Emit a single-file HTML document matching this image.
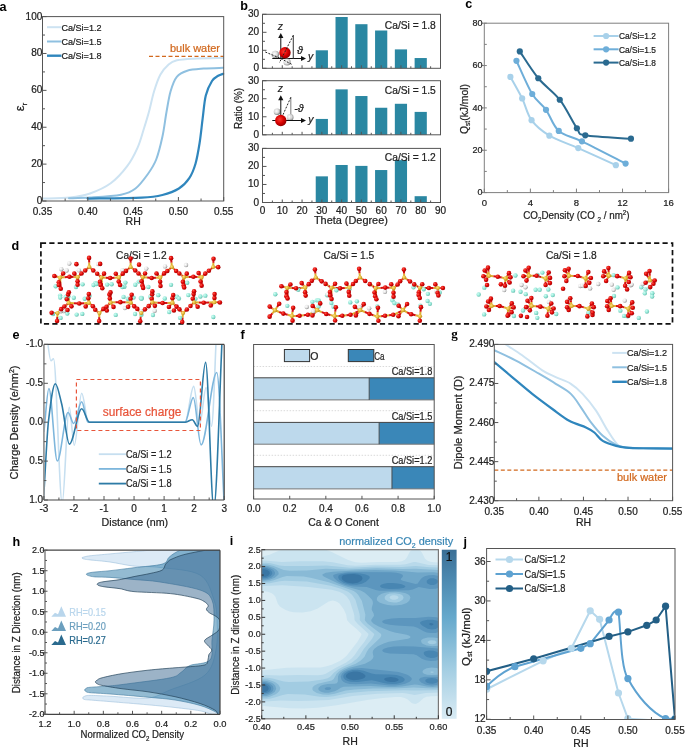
<!DOCTYPE html>
<html><head><meta charset="utf-8"><style>
html,body{margin:0;padding:0;background:#fff;overflow:hidden}
svg{display:block;font-family:"Liberation Sans", sans-serif}
</style></head><body>
<svg style="will-change:transform" width="685" height="750" viewBox="0 0 685 750">
<defs>
<radialGradient id="gR" cx="0.35" cy="0.35" r="0.7"><stop offset="0" stop-color="#ff5a4a"/><stop offset="0.5" stop-color="#e00808"/><stop offset="1" stop-color="#a00000"/></radialGradient>
<radialGradient id="gY" cx="0.35" cy="0.35" r="0.7"><stop offset="0" stop-color="#fbe27a"/><stop offset="0.6" stop-color="#e2b53a"/><stop offset="1" stop-color="#b08418"/></radialGradient>
<radialGradient id="gC" cx="0.35" cy="0.35" r="0.7"><stop offset="0" stop-color="#d2fff5"/><stop offset="0.6" stop-color="#8fe4d4"/><stop offset="1" stop-color="#62b8a8"/></radialGradient>
<radialGradient id="gW" cx="0.35" cy="0.35" r="0.7"><stop offset="0" stop-color="#ffffff"/><stop offset="0.55" stop-color="#e2e2e2"/><stop offset="1" stop-color="#8a8a8a"/></radialGradient>
<clipPath id="clipE"><rect x="43.9" y="344.4" width="180.29999999999998" height="155.60000000000002"/></clipPath><clipPath id="clipG"><rect x="494.3" y="344.4" width="178.3" height="156.3"/></clipPath><clipPath id="clipH"><rect x="45.0" y="550.2" width="175.0" height="164.0999999999999"/></clipPath><clipPath id="clipI"><rect x="261.7" y="549.7" width="176.7" height="169.0999999999999"/></clipPath><linearGradient id="cbar" x1="0" y1="0" x2="0" y2="1"><stop offset="0" stop-color="#3b6f95"/><stop offset="0.15" stop-color="#4a86ad"/><stop offset="0.4" stop-color="#66a9cc"/><stop offset="0.7" stop-color="#a2cde2"/><stop offset="1" stop-color="#d9ebf4"/></linearGradient><clipPath id="clipJ"><rect x="486.6" y="548.5" width="188.39999999999998" height="171.0"/></clipPath>
<radialGradient id="gRb" cx="0.4" cy="0.4" r="0.65"><stop offset="0" stop-color="#ff3b30"/><stop offset="0.55" stop-color="#d80000"/><stop offset="1" stop-color="#8a0000"/></radialGradient>
<radialGradient id="gHb" cx="0.4" cy="0.4" r="0.65"><stop offset="0" stop-color="#ffffff"/><stop offset="0.55" stop-color="#d8d8d8"/><stop offset="1" stop-color="#6a6a6a"/></radialGradient>
</defs>
<rect width="685" height="750" fill="#fff"/>
<text x="-0.5" y="10.6" font-size="12.6" text-anchor="start" fill="#000" font-weight="bold" >a</text>
<path d="M43,198.5 C47.5,198.33 62.17,198.33 70,197.5 C77.83,196.67 83.22,195.87 90,193.5 C96.78,191.13 104.5,187.85 110.7,183.3 C116.9,178.75 122.72,172.15 127.2,166.2 C131.68,160.25 134.83,153.8 137.6,147.6 C140.37,141.4 141.92,134.93 143.8,129 C145.68,123.07 147.18,118.28 148.9,112 C150.62,105.72 152.2,97.5 154.1,91.3 C156,85.1 157.88,79.27 160.3,74.8 C162.72,70.33 165.83,66.92 168.6,64.5 C171.37,62.08 172.77,61.27 176.9,60.3 C181.03,59.33 185.72,59.1 193.4,58.7 C201.08,58.3 218.07,58.03 223,57.9" stroke="#cde3f2" stroke-width="2" fill="none" stroke-linejoin="round" stroke-linecap="round" />
<path d="M69,198.2 C72.5,198.1 81.33,198.18 90,197.6 C98.67,197.02 113.42,196.22 121,194.7 C128.58,193.18 131.02,191.95 135.5,188.5 C139.98,185.05 144.45,178.83 147.9,174 C151.35,169.17 153.78,165.7 156.2,159.5 C158.62,153.3 160.68,144.72 162.4,136.8 C164.12,128.88 165.13,119.58 166.5,112 C167.87,104.42 168.88,97.15 170.6,91.3 C172.32,85.45 174.03,80.33 176.8,76.9 C179.57,73.47 182.72,72.08 187.2,70.7 C191.68,69.32 197.73,69.08 203.7,68.6 C209.67,68.12 219.78,67.93 223,67.8" stroke="#8fc0e0" stroke-width="2" fill="none" stroke-linejoin="round" stroke-linecap="round" />
<path d="M87.6,198.6 C96.62,198.43 129.23,198.2 141.7,197.6 C154.17,197 156.2,196.52 162.4,195 C168.6,193.48 174.42,191.32 178.9,188.5 C183.38,185.68 186.53,182.23 189.3,178.1 C192.07,173.97 193.78,169.55 195.5,163.7 C197.22,157.85 198.4,150.58 199.6,143 C200.8,135.42 201.67,126.12 202.7,118.2 C203.73,110.28 204.25,101.7 205.8,95.5 C207.35,89.3 209.93,84.28 212,81 C214.07,77.72 216.33,77 218.2,75.8 C220.07,74.6 222.37,74.13 223.2,73.8" stroke="#2f86bd" stroke-width="2.2" fill="none" stroke-linejoin="round" stroke-linecap="round" />
<line x1="149" y1="56.4" x2="223.7" y2="56.4" stroke="#d2691e" stroke-width="1.3" stroke-dasharray="4,2.5"/>
<text x="220" y="52.3" font-size="11" text-anchor="end" fill="#d2691e" stroke="#d2691e" stroke-width="0.22" textLength="50" lengthAdjust="spacingAndGlyphs" >bulk water</text>
<rect x="42.5" y="16.6" width="181.2" height="184.4" fill="none" stroke="#555" stroke-width="1" />
<line x1="42.5" y1="201" x2="46.5" y2="201" stroke="#555" stroke-width="1" />
<text x="42.3" y="204" font-size="10" text-anchor="end" fill="#222" stroke="#222" stroke-width="0.22" >0</text>
<line x1="42.5" y1="164.12" x2="46.5" y2="164.12" stroke="#555" stroke-width="1" />
<text x="42.3" y="167.12" font-size="10" text-anchor="end" fill="#222" stroke="#222" stroke-width="0.22" >20</text>
<line x1="42.5" y1="127.24" x2="46.5" y2="127.24" stroke="#555" stroke-width="1" />
<text x="42.3" y="130.24" font-size="10" text-anchor="end" fill="#222" stroke="#222" stroke-width="0.22" >40</text>
<line x1="42.5" y1="90.36" x2="46.5" y2="90.36" stroke="#555" stroke-width="1" />
<text x="42.3" y="93.36" font-size="10" text-anchor="end" fill="#222" stroke="#222" stroke-width="0.22" >60</text>
<line x1="42.5" y1="53.48" x2="46.5" y2="53.48" stroke="#555" stroke-width="1" />
<text x="42.3" y="56.48" font-size="10" text-anchor="end" fill="#222" stroke="#222" stroke-width="0.22" >80</text>
<line x1="42.5" y1="16.6" x2="46.5" y2="16.6" stroke="#555" stroke-width="1" />
<text x="42.3" y="19.6" font-size="10" text-anchor="end" fill="#222" stroke="#222" stroke-width="0.22" >100</text>
<line x1="42.5" y1="182.56" x2="45" y2="182.56" stroke="#555" stroke-width="1" />
<line x1="42.5" y1="145.68" x2="45" y2="145.68" stroke="#555" stroke-width="1" />
<line x1="42.5" y1="108.8" x2="45" y2="108.8" stroke="#555" stroke-width="1" />
<line x1="42.5" y1="71.92" x2="45" y2="71.92" stroke="#555" stroke-width="1" />
<line x1="42.5" y1="35.04" x2="45" y2="35.04" stroke="#555" stroke-width="1" />
<line x1="42.5" y1="201" x2="42.5" y2="197" stroke="#555" stroke-width="1" />
<text x="42.5" y="215" font-size="10" text-anchor="middle" fill="#222" stroke="#222" stroke-width="0.22" >0.35</text>
<line x1="87.8" y1="201" x2="87.8" y2="197" stroke="#555" stroke-width="1" />
<text x="87.8" y="215" font-size="10" text-anchor="middle" fill="#222" stroke="#222" stroke-width="0.22" >0.40</text>
<line x1="133.1" y1="201" x2="133.1" y2="197" stroke="#555" stroke-width="1" />
<text x="133.1" y="215" font-size="10" text-anchor="middle" fill="#222" stroke="#222" stroke-width="0.22" >0.45</text>
<line x1="178.4" y1="201" x2="178.4" y2="197" stroke="#555" stroke-width="1" />
<text x="178.4" y="215" font-size="10" text-anchor="middle" fill="#222" stroke="#222" stroke-width="0.22" >0.50</text>
<line x1="223.7" y1="201" x2="223.7" y2="197" stroke="#555" stroke-width="1" />
<text x="223.7" y="215" font-size="10" text-anchor="middle" fill="#222" stroke="#222" stroke-width="0.22" >0.55</text>
<line x1="65.15" y1="201" x2="65.15" y2="198.5" stroke="#555" stroke-width="1" />
<line x1="110.45" y1="201" x2="110.45" y2="198.5" stroke="#555" stroke-width="1" />
<line x1="155.75" y1="201" x2="155.75" y2="198.5" stroke="#555" stroke-width="1" />
<line x1="201.05" y1="201" x2="201.05" y2="198.5" stroke="#555" stroke-width="1" />
<text x="133.2" y="225.2" font-size="10.5" text-anchor="middle" fill="#222" stroke="#222" stroke-width="0.22" >RH</text>
<text x="24.2" y="107" font-size="13" text-anchor="middle" fill="#222" stroke="#222" stroke-width="0.22" transform="rotate(-90 24.2 107)" >ε<tspan font-size="8" dy="3">r</tspan></text>
<line x1="47" y1="27.2" x2="61.5" y2="27.2" stroke="#cde3f2" stroke-width="2" />
<text x="61.5" y="30.5" font-size="9.5" text-anchor="start" fill="#222" stroke="#222" stroke-width="0.22" textLength="40" lengthAdjust="spacingAndGlyphs" >Ca/Si=1.2</text>
<line x1="47" y1="41.5" x2="61.5" y2="41.5" stroke="#8fc0e0" stroke-width="2" />
<text x="61.5" y="44.8" font-size="9.5" text-anchor="start" fill="#222" stroke="#222" stroke-width="0.22" textLength="40" lengthAdjust="spacingAndGlyphs" >Ca/Si=1.5</text>
<line x1="47" y1="55.7" x2="61.5" y2="55.7" stroke="#2f86bd" stroke-width="2.4" />
<text x="61.5" y="59" font-size="9.5" text-anchor="start" fill="#222" stroke="#222" stroke-width="0.22" textLength="40" lengthAdjust="spacingAndGlyphs" >Ca/Si=1.8</text>
<text x="240.3" y="10.2" font-size="12.6" text-anchor="start" fill="#000" font-weight="bold" >b</text>
<rect x="315.73" y="50.3" width="12.2" height="18" fill="#2a87a2" stroke="none" stroke-width="1" />
<rect x="335.51" y="17" width="12.2" height="51.3" fill="#2a87a2" stroke="none" stroke-width="1" />
<rect x="355.29" y="24.2" width="12.2" height="44.1" fill="#2a87a2" stroke="none" stroke-width="1" />
<rect x="375.07" y="30.5" width="12.2" height="37.8" fill="#2a87a2" stroke="none" stroke-width="1" />
<rect x="394.84" y="49.4" width="12.2" height="18.9" fill="#2a87a2" stroke="none" stroke-width="1" />
<rect x="414.62" y="58.04" width="12.2" height="10.26" fill="#2a87a2" stroke="none" stroke-width="1" />
<rect x="262.5" y="14.3" width="178" height="54" fill="none" stroke="#555" stroke-width="1" />
<line x1="262.5" y1="68.3" x2="266.5" y2="68.3" stroke="#555" stroke-width="1" />
<text x="259" y="71.3" font-size="10" text-anchor="end" fill="#222" stroke="#222" stroke-width="0.22" >0</text>
<line x1="262.5" y1="50.3" x2="266.5" y2="50.3" stroke="#555" stroke-width="1" />
<text x="259" y="53.3" font-size="10" text-anchor="end" fill="#222" stroke="#222" stroke-width="0.22" >10</text>
<line x1="262.5" y1="32.3" x2="266.5" y2="32.3" stroke="#555" stroke-width="1" />
<text x="259" y="35.3" font-size="10" text-anchor="end" fill="#222" stroke="#222" stroke-width="0.22" >20</text>
<line x1="262.5" y1="14.3" x2="266.5" y2="14.3" stroke="#555" stroke-width="1" />
<text x="259" y="17.3" font-size="10" text-anchor="end" fill="#222" stroke="#222" stroke-width="0.22" >30</text>
<line x1="262.5" y1="59.3" x2="265" y2="59.3" stroke="#555" stroke-width="1" />
<line x1="262.5" y1="41.3" x2="265" y2="41.3" stroke="#555" stroke-width="1" />
<line x1="262.5" y1="23.3" x2="265" y2="23.3" stroke="#555" stroke-width="1" />
<line x1="262.5" y1="68.3" x2="262.5" y2="65.3" stroke="#555" stroke-width="1" />
<line x1="282.28" y1="68.3" x2="282.28" y2="65.3" stroke="#555" stroke-width="1" />
<line x1="302.06" y1="68.3" x2="302.06" y2="65.3" stroke="#555" stroke-width="1" />
<line x1="321.83" y1="68.3" x2="321.83" y2="65.3" stroke="#555" stroke-width="1" />
<line x1="341.61" y1="68.3" x2="341.61" y2="65.3" stroke="#555" stroke-width="1" />
<line x1="361.39" y1="68.3" x2="361.39" y2="65.3" stroke="#555" stroke-width="1" />
<line x1="381.17" y1="68.3" x2="381.17" y2="65.3" stroke="#555" stroke-width="1" />
<line x1="400.94" y1="68.3" x2="400.94" y2="65.3" stroke="#555" stroke-width="1" />
<line x1="420.72" y1="68.3" x2="420.72" y2="65.3" stroke="#555" stroke-width="1" />
<line x1="440.5" y1="68.3" x2="440.5" y2="65.3" stroke="#555" stroke-width="1" />
<line x1="272.39" y1="68.3" x2="272.39" y2="66.3" stroke="#555" stroke-width="1" />
<line x1="292.17" y1="68.3" x2="292.17" y2="66.3" stroke="#555" stroke-width="1" />
<line x1="311.94" y1="68.3" x2="311.94" y2="66.3" stroke="#555" stroke-width="1" />
<line x1="331.72" y1="68.3" x2="331.72" y2="66.3" stroke="#555" stroke-width="1" />
<line x1="351.5" y1="68.3" x2="351.5" y2="66.3" stroke="#555" stroke-width="1" />
<line x1="371.28" y1="68.3" x2="371.28" y2="66.3" stroke="#555" stroke-width="1" />
<line x1="391.06" y1="68.3" x2="391.06" y2="66.3" stroke="#555" stroke-width="1" />
<line x1="410.83" y1="68.3" x2="410.83" y2="66.3" stroke="#555" stroke-width="1" />
<line x1="430.61" y1="68.3" x2="430.61" y2="66.3" stroke="#555" stroke-width="1" />
<text x="435.8" y="29" font-size="10.5" text-anchor="end" fill="#222" stroke="#222" stroke-width="0.22" textLength="51" lengthAdjust="spacingAndGlyphs" >Ca/Si = 1.8</text>
<rect x="315.73" y="118.93" width="12.2" height="15.87" fill="#2a87a2" stroke="none" stroke-width="1" />
<rect x="335.51" y="89.36" width="12.2" height="45.44" fill="#2a87a2" stroke="none" stroke-width="1" />
<rect x="355.29" y="96.03" width="12.2" height="38.77" fill="#2a87a2" stroke="none" stroke-width="1" />
<rect x="375.07" y="107.75" width="12.2" height="27.05" fill="#2a87a2" stroke="none" stroke-width="1" />
<rect x="394.84" y="103.78" width="12.2" height="31.02" fill="#2a87a2" stroke="none" stroke-width="1" />
<rect x="414.62" y="111.9" width="12.2" height="22.9" fill="#2a87a2" stroke="none" stroke-width="1" />
<rect x="262.5" y="80.7" width="178" height="54.1" fill="none" stroke="#555" stroke-width="1" />
<line x1="262.5" y1="134.8" x2="266.5" y2="134.8" stroke="#555" stroke-width="1" />
<text x="259" y="137.8" font-size="10" text-anchor="end" fill="#222" stroke="#222" stroke-width="0.22" >0</text>
<line x1="262.5" y1="116.77" x2="266.5" y2="116.77" stroke="#555" stroke-width="1" />
<text x="259" y="119.77" font-size="10" text-anchor="end" fill="#222" stroke="#222" stroke-width="0.22" >10</text>
<line x1="262.5" y1="98.73" x2="266.5" y2="98.73" stroke="#555" stroke-width="1" />
<text x="259" y="101.73" font-size="10" text-anchor="end" fill="#222" stroke="#222" stroke-width="0.22" >20</text>
<line x1="262.5" y1="80.7" x2="266.5" y2="80.7" stroke="#555" stroke-width="1" />
<text x="259" y="83.7" font-size="10" text-anchor="end" fill="#222" stroke="#222" stroke-width="0.22" >30</text>
<line x1="262.5" y1="125.78" x2="265" y2="125.78" stroke="#555" stroke-width="1" />
<line x1="262.5" y1="107.75" x2="265" y2="107.75" stroke="#555" stroke-width="1" />
<line x1="262.5" y1="89.72" x2="265" y2="89.72" stroke="#555" stroke-width="1" />
<line x1="262.5" y1="134.8" x2="262.5" y2="131.8" stroke="#555" stroke-width="1" />
<line x1="282.28" y1="134.8" x2="282.28" y2="131.8" stroke="#555" stroke-width="1" />
<line x1="302.06" y1="134.8" x2="302.06" y2="131.8" stroke="#555" stroke-width="1" />
<line x1="321.83" y1="134.8" x2="321.83" y2="131.8" stroke="#555" stroke-width="1" />
<line x1="341.61" y1="134.8" x2="341.61" y2="131.8" stroke="#555" stroke-width="1" />
<line x1="361.39" y1="134.8" x2="361.39" y2="131.8" stroke="#555" stroke-width="1" />
<line x1="381.17" y1="134.8" x2="381.17" y2="131.8" stroke="#555" stroke-width="1" />
<line x1="400.94" y1="134.8" x2="400.94" y2="131.8" stroke="#555" stroke-width="1" />
<line x1="420.72" y1="134.8" x2="420.72" y2="131.8" stroke="#555" stroke-width="1" />
<line x1="440.5" y1="134.8" x2="440.5" y2="131.8" stroke="#555" stroke-width="1" />
<line x1="272.39" y1="134.8" x2="272.39" y2="132.8" stroke="#555" stroke-width="1" />
<line x1="292.17" y1="134.8" x2="292.17" y2="132.8" stroke="#555" stroke-width="1" />
<line x1="311.94" y1="134.8" x2="311.94" y2="132.8" stroke="#555" stroke-width="1" />
<line x1="331.72" y1="134.8" x2="331.72" y2="132.8" stroke="#555" stroke-width="1" />
<line x1="351.5" y1="134.8" x2="351.5" y2="132.8" stroke="#555" stroke-width="1" />
<line x1="371.28" y1="134.8" x2="371.28" y2="132.8" stroke="#555" stroke-width="1" />
<line x1="391.06" y1="134.8" x2="391.06" y2="132.8" stroke="#555" stroke-width="1" />
<line x1="410.83" y1="134.8" x2="410.83" y2="132.8" stroke="#555" stroke-width="1" />
<line x1="430.61" y1="134.8" x2="430.61" y2="132.8" stroke="#555" stroke-width="1" />
<text x="435.8" y="93.5" font-size="10.5" text-anchor="end" fill="#222" stroke="#222" stroke-width="0.22" textLength="51" lengthAdjust="spacingAndGlyphs" >Ca/Si = 1.5</text>
<rect x="315.73" y="176.35" width="12.2" height="26.15" fill="#2a87a2" stroke="none" stroke-width="1" />
<rect x="335.51" y="164.99" width="12.2" height="37.51" fill="#2a87a2" stroke="none" stroke-width="1" />
<rect x="355.29" y="165.89" width="12.2" height="36.61" fill="#2a87a2" stroke="none" stroke-width="1" />
<rect x="375.07" y="170.04" width="12.2" height="32.46" fill="#2a87a2" stroke="none" stroke-width="1" />
<rect x="394.84" y="160.12" width="12.2" height="42.38" fill="#2a87a2" stroke="none" stroke-width="1" />
<rect x="414.62" y="196.19" width="12.2" height="6.31" fill="#2a87a2" stroke="none" stroke-width="1" />
<rect x="262.5" y="148.4" width="178" height="54.1" fill="none" stroke="#555" stroke-width="1" />
<line x1="262.5" y1="202.5" x2="266.5" y2="202.5" stroke="#555" stroke-width="1" />
<text x="259" y="205.5" font-size="10" text-anchor="end" fill="#222" stroke="#222" stroke-width="0.22" >0</text>
<line x1="262.5" y1="184.47" x2="266.5" y2="184.47" stroke="#555" stroke-width="1" />
<text x="259" y="187.47" font-size="10" text-anchor="end" fill="#222" stroke="#222" stroke-width="0.22" >10</text>
<line x1="262.5" y1="166.43" x2="266.5" y2="166.43" stroke="#555" stroke-width="1" />
<text x="259" y="169.43" font-size="10" text-anchor="end" fill="#222" stroke="#222" stroke-width="0.22" >20</text>
<line x1="262.5" y1="148.4" x2="266.5" y2="148.4" stroke="#555" stroke-width="1" />
<text x="259" y="151.4" font-size="10" text-anchor="end" fill="#222" stroke="#222" stroke-width="0.22" >30</text>
<line x1="262.5" y1="193.48" x2="265" y2="193.48" stroke="#555" stroke-width="1" />
<line x1="262.5" y1="175.45" x2="265" y2="175.45" stroke="#555" stroke-width="1" />
<line x1="262.5" y1="157.42" x2="265" y2="157.42" stroke="#555" stroke-width="1" />
<line x1="262.5" y1="202.5" x2="262.5" y2="199.5" stroke="#555" stroke-width="1" />
<line x1="282.28" y1="202.5" x2="282.28" y2="199.5" stroke="#555" stroke-width="1" />
<line x1="302.06" y1="202.5" x2="302.06" y2="199.5" stroke="#555" stroke-width="1" />
<line x1="321.83" y1="202.5" x2="321.83" y2="199.5" stroke="#555" stroke-width="1" />
<line x1="341.61" y1="202.5" x2="341.61" y2="199.5" stroke="#555" stroke-width="1" />
<line x1="361.39" y1="202.5" x2="361.39" y2="199.5" stroke="#555" stroke-width="1" />
<line x1="381.17" y1="202.5" x2="381.17" y2="199.5" stroke="#555" stroke-width="1" />
<line x1="400.94" y1="202.5" x2="400.94" y2="199.5" stroke="#555" stroke-width="1" />
<line x1="420.72" y1="202.5" x2="420.72" y2="199.5" stroke="#555" stroke-width="1" />
<line x1="440.5" y1="202.5" x2="440.5" y2="199.5" stroke="#555" stroke-width="1" />
<line x1="272.39" y1="202.5" x2="272.39" y2="200.5" stroke="#555" stroke-width="1" />
<line x1="292.17" y1="202.5" x2="292.17" y2="200.5" stroke="#555" stroke-width="1" />
<line x1="311.94" y1="202.5" x2="311.94" y2="200.5" stroke="#555" stroke-width="1" />
<line x1="331.72" y1="202.5" x2="331.72" y2="200.5" stroke="#555" stroke-width="1" />
<line x1="351.5" y1="202.5" x2="351.5" y2="200.5" stroke="#555" stroke-width="1" />
<line x1="371.28" y1="202.5" x2="371.28" y2="200.5" stroke="#555" stroke-width="1" />
<line x1="391.06" y1="202.5" x2="391.06" y2="200.5" stroke="#555" stroke-width="1" />
<line x1="410.83" y1="202.5" x2="410.83" y2="200.5" stroke="#555" stroke-width="1" />
<line x1="430.61" y1="202.5" x2="430.61" y2="200.5" stroke="#555" stroke-width="1" />
<text x="435.8" y="160.6" font-size="10.5" text-anchor="end" fill="#222" stroke="#222" stroke-width="0.22" textLength="51" lengthAdjust="spacingAndGlyphs" >Ca/Si = 1.2</text>
<text x="262.5" y="214.3" font-size="10" text-anchor="middle" fill="#222" stroke="#222" stroke-width="0.22" >0</text>
<text x="282.28" y="214.3" font-size="10" text-anchor="middle" fill="#222" stroke="#222" stroke-width="0.22" >10</text>
<text x="302.06" y="214.3" font-size="10" text-anchor="middle" fill="#222" stroke="#222" stroke-width="0.22" >20</text>
<text x="321.83" y="214.3" font-size="10" text-anchor="middle" fill="#222" stroke="#222" stroke-width="0.22" >30</text>
<text x="341.61" y="214.3" font-size="10" text-anchor="middle" fill="#222" stroke="#222" stroke-width="0.22" >40</text>
<text x="361.39" y="214.3" font-size="10" text-anchor="middle" fill="#222" stroke="#222" stroke-width="0.22" >50</text>
<text x="381.17" y="214.3" font-size="10" text-anchor="middle" fill="#222" stroke="#222" stroke-width="0.22" >60</text>
<text x="400.94" y="214.3" font-size="10" text-anchor="middle" fill="#222" stroke="#222" stroke-width="0.22" >70</text>
<text x="420.72" y="214.3" font-size="10" text-anchor="middle" fill="#222" stroke="#222" stroke-width="0.22" >80</text>
<text x="440.5" y="214.3" font-size="10" text-anchor="middle" fill="#222" stroke="#222" stroke-width="0.22" >90</text>
<text x="350.9" y="223.6" font-size="11" text-anchor="middle" fill="#222" stroke="#222" stroke-width="0.22" textLength="74" lengthAdjust="spacingAndGlyphs" >Theta (Degree)</text>
<text x="242.3" y="108.4" font-size="11" text-anchor="middle" fill="#222" stroke="#222" stroke-width="0.22" textLength="41" lengthAdjust="spacingAndGlyphs" transform="rotate(-90 242.3 108.4)" >Ratio (%)</text>
<text x="465.3" y="7.5" font-size="12.6" text-anchor="start" fill="#000" font-weight="bold" >c</text>
<path d="M510.41,76.9 C512.37,80.48 518.63,91.17 522.16,98.39 C525.69,105.61 527.03,114 531.56,120.21 C536.09,126.43 541.58,131.02 549.36,135.66 C557.14,140.31 567.16,143.16 578.24,148.09 C589.32,153.01 609.58,162.36 615.85,165.21" stroke="#a8d1ea" stroke-width="2" fill="none" stroke-linejoin="round" stroke-linecap="round" />
<circle cx="510.41" cy="76.9" r="3.1" fill="#a8d1ea"/>
<circle cx="522.16" cy="98.39" r="3.1" fill="#a8d1ea"/>
<circle cx="531.56" cy="120.21" r="3.1" fill="#a8d1ea"/>
<circle cx="549.36" cy="135.66" r="3.1" fill="#a8d1ea"/>
<circle cx="578.24" cy="148.09" r="3.1" fill="#a8d1ea"/>
<circle cx="615.85" cy="165.21" r="3.1" fill="#a8d1ea"/>
<path d="M516.45,60.78 C519.08,66.32 527.31,85.85 532.23,94.02 C537.16,102.19 541.58,103.65 546,109.81 C550.42,115.96 552.77,125.7 558.76,130.96 C564.75,136.22 570.79,135.94 581.93,141.37 C593.07,146.8 618.31,159.84 625.58,163.53" stroke="#6eaed9" stroke-width="2" fill="none" stroke-linejoin="round" stroke-linecap="round" />
<circle cx="516.45" cy="60.78" r="3.1" fill="#6eaed9"/>
<circle cx="532.23" cy="94.02" r="3.1" fill="#6eaed9"/>
<circle cx="546" cy="109.81" r="3.1" fill="#6eaed9"/>
<circle cx="558.76" cy="130.96" r="3.1" fill="#6eaed9"/>
<circle cx="581.93" cy="141.37" r="3.1" fill="#6eaed9"/>
<circle cx="625.58" cy="163.53" r="3.1" fill="#6eaed9"/>
<path d="M519.81,51.38 C522.89,55.85 531.62,70.18 538.28,78.24 C544.94,86.3 553.33,91.39 559.77,99.73 C566.2,108.07 572.64,122.34 576.89,128.27 C581.15,134.21 576.28,133.59 585.29,135.33 C594.3,137.06 623.35,138.12 630.96,138.68" stroke="#2a6a90" stroke-width="2" fill="none" stroke-linejoin="round" stroke-linecap="round" />
<circle cx="519.81" cy="51.38" r="3.1" fill="#2a6a90"/>
<circle cx="538.28" cy="78.24" r="3.1" fill="#2a6a90"/>
<circle cx="559.77" cy="99.73" r="3.1" fill="#2a6a90"/>
<circle cx="576.89" cy="128.27" r="3.1" fill="#2a6a90"/>
<circle cx="585.29" cy="135.33" r="3.1" fill="#2a6a90"/>
<circle cx="630.96" cy="138.68" r="3.1" fill="#2a6a90"/>
<rect x="484.3" y="23.2" width="184.3" height="169.4" fill="none" stroke="#7f7f7f" stroke-width="1" />
<line x1="481.8" y1="192.6" x2="486.8" y2="192.6" stroke="#7f7f7f" stroke-width="1" />
<text x="482.5" y="195.4" font-size="9" text-anchor="end" fill="#222" stroke="#222" stroke-width="0.22" >0</text>
<line x1="481.8" y1="150.25" x2="486.8" y2="150.25" stroke="#7f7f7f" stroke-width="1" />
<text x="482.5" y="153.05" font-size="9" text-anchor="end" fill="#222" stroke="#222" stroke-width="0.22" >20</text>
<line x1="481.8" y1="107.9" x2="486.8" y2="107.9" stroke="#7f7f7f" stroke-width="1" />
<text x="482.5" y="110.7" font-size="9" text-anchor="end" fill="#222" stroke="#222" stroke-width="0.22" >40</text>
<line x1="481.8" y1="65.55" x2="486.8" y2="65.55" stroke="#7f7f7f" stroke-width="1" />
<text x="482.5" y="68.35" font-size="9" text-anchor="end" fill="#222" stroke="#222" stroke-width="0.22" >60</text>
<line x1="481.8" y1="23.2" x2="486.8" y2="23.2" stroke="#7f7f7f" stroke-width="1" />
<text x="482.5" y="26" font-size="9" text-anchor="end" fill="#222" stroke="#222" stroke-width="0.22" >80</text>
<line x1="484.3" y1="171.42" x2="486.8" y2="171.42" stroke="#7f7f7f" stroke-width="1" />
<line x1="484.3" y1="129.07" x2="486.8" y2="129.07" stroke="#7f7f7f" stroke-width="1" />
<line x1="484.3" y1="86.72" x2="486.8" y2="86.72" stroke="#7f7f7f" stroke-width="1" />
<line x1="484.3" y1="44.38" x2="486.8" y2="44.38" stroke="#7f7f7f" stroke-width="1" />
<line x1="484.3" y1="192.6" x2="484.3" y2="188.6" stroke="#7f7f7f" stroke-width="1" />
<text x="484.3" y="206" font-size="9.5" text-anchor="middle" fill="#222" stroke="#222" stroke-width="0.22" >0</text>
<line x1="530.38" y1="192.6" x2="530.38" y2="188.6" stroke="#7f7f7f" stroke-width="1" />
<text x="530.38" y="206" font-size="9.5" text-anchor="middle" fill="#222" stroke="#222" stroke-width="0.22" >4</text>
<line x1="576.45" y1="192.6" x2="576.45" y2="188.6" stroke="#7f7f7f" stroke-width="1" />
<text x="576.45" y="206" font-size="9.5" text-anchor="middle" fill="#222" stroke="#222" stroke-width="0.22" >8</text>
<line x1="622.53" y1="192.6" x2="622.53" y2="188.6" stroke="#7f7f7f" stroke-width="1" />
<text x="622.53" y="206" font-size="9.5" text-anchor="middle" fill="#222" stroke="#222" stroke-width="0.22" >12</text>
<line x1="668.6" y1="192.6" x2="668.6" y2="188.6" stroke="#7f7f7f" stroke-width="1" />
<text x="668.6" y="206" font-size="9.5" text-anchor="middle" fill="#222" stroke="#222" stroke-width="0.22" >16</text>
<line x1="507.34" y1="192.6" x2="507.34" y2="190.1" stroke="#7f7f7f" stroke-width="1" />
<line x1="553.41" y1="192.6" x2="553.41" y2="190.1" stroke="#7f7f7f" stroke-width="1" />
<line x1="599.49" y1="192.6" x2="599.49" y2="190.1" stroke="#7f7f7f" stroke-width="1" />
<line x1="645.56" y1="192.6" x2="645.56" y2="190.1" stroke="#7f7f7f" stroke-width="1" />
<text x="467.5" y="109" font-size="11" text-anchor="middle" fill="#222" stroke="#222" stroke-width="0.22" textLength="50" lengthAdjust="spacingAndGlyphs" transform="rotate(-90 467.5 109)" >Q<tspan font-size="7" dy="2.5">st</tspan><tspan dy="-2.5">(kJ/mol)</tspan></text>
<text x="576.4" y="219.2" font-size="11" text-anchor="middle" fill="#222" stroke="#222" stroke-width="0.22" textLength="106.4" lengthAdjust="spacingAndGlyphs" >CO<tspan font-size="7" dy="3">2</tspan><tspan dy="-3">Density (CO </tspan><tspan font-size="7" dy="3">2</tspan><tspan dy="-3"> / nm</tspan><tspan font-size="7" dy="-4">2</tspan><tspan dy="4">)</tspan></text>
<line x1="593.6" y1="36" x2="618.6" y2="36" stroke="#a8d1ea" stroke-width="2" />
<circle cx="606.1" cy="36" r="3.1" fill="#a8d1ea"/>
<text x="618.9" y="39.4" font-size="9.5" text-anchor="start" fill="#222" stroke="#222" stroke-width="0.22" textLength="37" lengthAdjust="spacingAndGlyphs" >Ca/Si=1.2</text>
<line x1="593.6" y1="49.3" x2="618.6" y2="49.3" stroke="#6eaed9" stroke-width="2" />
<circle cx="606.1" cy="49.3" r="3.1" fill="#6eaed9"/>
<text x="618.9" y="52.7" font-size="9.5" text-anchor="start" fill="#222" stroke="#222" stroke-width="0.22" textLength="37" lengthAdjust="spacingAndGlyphs" >Ca/Si=1.5</text>
<line x1="593.6" y1="62.6" x2="618.6" y2="62.6" stroke="#2a6a90" stroke-width="2" />
<circle cx="606.1" cy="62.6" r="3.1" fill="#2a6a90"/>
<text x="618.9" y="66" font-size="9.5" text-anchor="start" fill="#222" stroke="#222" stroke-width="0.22" textLength="37" lengthAdjust="spacingAndGlyphs" >Ca/Si=1.8</text>
<text x="11.6" y="249.9" font-size="12.6" text-anchor="start" fill="#000" font-weight="bold" >d</text>
<rect x="40.9" y="243.2" width="631.6" height="80.6" fill="none" stroke="#111" stroke-width="1.7" stroke-dasharray="5.2,3.2"/>
<text x="141.3" y="259" font-size="10.5" text-anchor="middle" fill="#222" stroke="#222" stroke-width="0.22" textLength="50.5" lengthAdjust="spacingAndGlyphs" >Ca/Si = 1.2</text>
<text x="348.8" y="259" font-size="10.5" text-anchor="middle" fill="#222" stroke="#222" stroke-width="0.22" textLength="50.8" lengthAdjust="spacingAndGlyphs" >Ca/Si = 1.5</text>
<text x="571.3" y="259" font-size="10.5" text-anchor="middle" fill="#222" stroke="#222" stroke-width="0.22" textLength="50.7" lengthAdjust="spacingAndGlyphs" >Ca/Si = 1.8</text>
<g>
<line x1="60.1" y1="277.62" x2="59.45" y2="279.95" stroke="#e0b030" stroke-width="2.0"/>
<line x1="59.45" y1="279.95" x2="58.79" y2="282.28" stroke="#d81010" stroke-width="2.0"/>
<line x1="60.1" y1="277.62" x2="59.44" y2="281.33" stroke="#e0b030" stroke-width="2.0"/>
<line x1="59.44" y1="281.33" x2="58.77" y2="285.03" stroke="#d81010" stroke-width="2.0"/>
<line x1="60.1" y1="277.62" x2="60.44" y2="283.18" stroke="#e0b030" stroke-width="2.0"/>
<line x1="60.44" y1="283.18" x2="60.78" y2="288.75" stroke="#d81010" stroke-width="2.0"/>
<line x1="60.1" y1="277.62" x2="61.65" y2="275.55" stroke="#e0b030" stroke-width="2.0"/>
<line x1="61.65" y1="275.55" x2="63.21" y2="273.48" stroke="#d81010" stroke-width="2.0"/>
<line x1="60.1" y1="277.62" x2="64.81" y2="277.19" stroke="#e0b030" stroke-width="2.0"/>
<line x1="64.81" y1="277.19" x2="69.52" y2="276.75" stroke="#d81010" stroke-width="2.0"/>
<line x1="77.6" y1="277.16" x2="73.56" y2="276.96" stroke="#e0b030" stroke-width="2.0"/>
<line x1="73.56" y1="276.96" x2="69.52" y2="276.75" stroke="#d81010" stroke-width="2.0"/>
<line x1="77.6" y1="277.16" x2="77.6" y2="279.26" stroke="#e0b030" stroke-width="2.0"/>
<line x1="77.6" y1="279.26" x2="77.6" y2="281.36" stroke="#d81010" stroke-width="2.0"/>
<line x1="77.6" y1="277.16" x2="77.6" y2="280.99" stroke="#e0b030" stroke-width="2.0"/>
<line x1="77.6" y1="280.99" x2="77.6" y2="284.82" stroke="#d81010" stroke-width="2.0"/>
<line x1="77.6" y1="277.16" x2="75.97" y2="275.38" stroke="#e0b030" stroke-width="2.0"/>
<line x1="75.97" y1="275.38" x2="74.33" y2="273.6" stroke="#d81010" stroke-width="2.0"/>
<line x1="77.6" y1="277.16" x2="79.58" y2="275.36" stroke="#e0b030" stroke-width="2.0"/>
<line x1="79.58" y1="275.36" x2="81.56" y2="273.57" stroke="#d81010" stroke-width="2.0"/>
<line x1="85.2" y1="270.55" x2="87.25" y2="268.78" stroke="#e0b030" stroke-width="2.0"/>
<line x1="87.25" y1="268.78" x2="89.3" y2="267" stroke="#d81010" stroke-width="2.0"/>
<line x1="89.3" y1="267" x2="89.18" y2="262.44" stroke="#e0b030" stroke-width="2.0"/>
<line x1="89.18" y1="262.44" x2="89.07" y2="257.89" stroke="#d81010" stroke-width="2.0"/>
<line x1="89.3" y1="267" x2="91.3" y2="268.78" stroke="#e0b030" stroke-width="2.0"/>
<line x1="91.3" y1="268.78" x2="93.3" y2="270.56" stroke="#d81010" stroke-width="2.0"/>
<line x1="97.19" y1="273.68" x2="99.29" y2="275.6" stroke="#e0b030" stroke-width="2.0"/>
<line x1="99.29" y1="275.6" x2="101.4" y2="277.53" stroke="#d81010" stroke-width="2.0"/>
<line x1="101.4" y1="277.53" x2="100.67" y2="279.69" stroke="#e0b030" stroke-width="2.0"/>
<line x1="100.67" y1="279.69" x2="99.94" y2="281.85" stroke="#d81010" stroke-width="2.0"/>
<line x1="101.4" y1="277.53" x2="100.97" y2="281.29" stroke="#e0b030" stroke-width="2.0"/>
<line x1="100.97" y1="281.29" x2="100.53" y2="285.05" stroke="#d81010" stroke-width="2.0"/>
<line x1="101.4" y1="277.53" x2="101.86" y2="282.92" stroke="#e0b030" stroke-width="2.0"/>
<line x1="101.86" y1="282.92" x2="102.31" y2="288.31" stroke="#d81010" stroke-width="2.0"/>
<line x1="101.4" y1="277.53" x2="102.72" y2="275.58" stroke="#e0b030" stroke-width="2.0"/>
<line x1="102.72" y1="275.58" x2="104.04" y2="273.63" stroke="#d81010" stroke-width="2.0"/>
<line x1="101.4" y1="277.53" x2="105.79" y2="277.76" stroke="#e0b030" stroke-width="2.0"/>
<line x1="105.79" y1="277.76" x2="110.19" y2="277.99" stroke="#d81010" stroke-width="2.0"/>
<line x1="118.9" y1="277.39" x2="114.54" y2="277.69" stroke="#e0b030" stroke-width="2.0"/>
<line x1="114.54" y1="277.69" x2="110.19" y2="277.99" stroke="#d81010" stroke-width="2.0"/>
<line x1="118.9" y1="277.39" x2="118.81" y2="279.49" stroke="#e0b030" stroke-width="2.0"/>
<line x1="118.81" y1="279.49" x2="118.72" y2="281.6" stroke="#d81010" stroke-width="2.0"/>
<line x1="118.9" y1="277.39" x2="119.49" y2="281.23" stroke="#e0b030" stroke-width="2.0"/>
<line x1="119.49" y1="281.23" x2="120.07" y2="285.06" stroke="#d81010" stroke-width="2.0"/>
<line x1="118.9" y1="277.39" x2="117.34" y2="275.57" stroke="#e0b030" stroke-width="2.0"/>
<line x1="117.34" y1="275.57" x2="115.79" y2="273.75" stroke="#d81010" stroke-width="2.0"/>
<line x1="118.9" y1="277.39" x2="120.87" y2="275.52" stroke="#e0b030" stroke-width="2.0"/>
<line x1="120.87" y1="275.52" x2="122.83" y2="273.64" stroke="#d81010" stroke-width="2.0"/>
<line x1="126.02" y1="270.88" x2="128.31" y2="268.94" stroke="#e0b030" stroke-width="2.0"/>
<line x1="128.31" y1="268.94" x2="130.6" y2="267" stroke="#d81010" stroke-width="2.0"/>
<line x1="130.6" y1="267" x2="130.64" y2="262.8" stroke="#e0b030" stroke-width="2.0"/>
<line x1="130.64" y1="262.8" x2="130.67" y2="258.6" stroke="#d81010" stroke-width="2.0"/>
<line x1="130.6" y1="267" x2="132.93" y2="268.75" stroke="#e0b030" stroke-width="2.0"/>
<line x1="132.93" y1="268.75" x2="135.26" y2="270.5" stroke="#d81010" stroke-width="2.0"/>
<line x1="138.5" y1="273.57" x2="140.6" y2="275.36" stroke="#e0b030" stroke-width="2.0"/>
<line x1="140.6" y1="275.36" x2="142.7" y2="277.15" stroke="#d81010" stroke-width="2.0"/>
<line x1="142.7" y1="277.15" x2="142.16" y2="279.22" stroke="#e0b030" stroke-width="2.0"/>
<line x1="142.16" y1="279.22" x2="141.61" y2="281.29" stroke="#d81010" stroke-width="2.0"/>
<line x1="142.7" y1="277.15" x2="142.54" y2="281.36" stroke="#e0b030" stroke-width="2.0"/>
<line x1="142.54" y1="281.36" x2="142.38" y2="285.57" stroke="#d81010" stroke-width="2.0"/>
<line x1="142.7" y1="277.15" x2="142.93" y2="282.51" stroke="#e0b030" stroke-width="2.0"/>
<line x1="142.93" y1="282.51" x2="143.16" y2="287.88" stroke="#d81010" stroke-width="2.0"/>
<line x1="142.7" y1="277.15" x2="143.89" y2="275.29" stroke="#e0b030" stroke-width="2.0"/>
<line x1="143.89" y1="275.29" x2="145.08" y2="273.43" stroke="#d81010" stroke-width="2.0"/>
<line x1="142.7" y1="277.15" x2="147.18" y2="277.58" stroke="#e0b030" stroke-width="2.0"/>
<line x1="147.18" y1="277.58" x2="151.66" y2="278.02" stroke="#d81010" stroke-width="2.0"/>
<line x1="160.2" y1="277.51" x2="155.93" y2="277.76" stroke="#e0b030" stroke-width="2.0"/>
<line x1="155.93" y1="277.76" x2="151.66" y2="278.02" stroke="#d81010" stroke-width="2.0"/>
<line x1="160.2" y1="277.51" x2="160.18" y2="279.61" stroke="#e0b030" stroke-width="2.0"/>
<line x1="160.18" y1="279.61" x2="160.15" y2="281.7" stroke="#d81010" stroke-width="2.0"/>
<line x1="160.2" y1="277.51" x2="160.37" y2="281.72" stroke="#e0b030" stroke-width="2.0"/>
<line x1="160.37" y1="281.72" x2="160.54" y2="285.94" stroke="#d81010" stroke-width="2.0"/>
<line x1="160.2" y1="277.51" x2="158.37" y2="275.48" stroke="#e0b030" stroke-width="2.0"/>
<line x1="158.37" y1="275.48" x2="156.53" y2="273.45" stroke="#d81010" stroke-width="2.0"/>
<line x1="160.2" y1="277.51" x2="162.17" y2="275.46" stroke="#e0b030" stroke-width="2.0"/>
<line x1="162.17" y1="275.46" x2="164.15" y2="273.42" stroke="#d81010" stroke-width="2.0"/>
<line x1="167.34" y1="271" x2="169.62" y2="269" stroke="#e0b030" stroke-width="2.0"/>
<line x1="169.62" y1="269" x2="171.9" y2="267" stroke="#d81010" stroke-width="2.0"/>
<line x1="171.9" y1="267" x2="171.49" y2="262.57" stroke="#e0b030" stroke-width="2.0"/>
<line x1="171.49" y1="262.57" x2="171.08" y2="258.15" stroke="#d81010" stroke-width="2.0"/>
<line x1="171.9" y1="267" x2="174.03" y2="268.97" stroke="#e0b030" stroke-width="2.0"/>
<line x1="174.03" y1="268.97" x2="176.17" y2="270.94" stroke="#d81010" stroke-width="2.0"/>
<line x1="179.31" y1="273.44" x2="181.65" y2="275.29" stroke="#e0b030" stroke-width="2.0"/>
<line x1="181.65" y1="275.29" x2="184" y2="277.13" stroke="#d81010" stroke-width="2.0"/>
<line x1="184" y1="277.13" x2="183.43" y2="279.5" stroke="#e0b030" stroke-width="2.0"/>
<line x1="183.43" y1="279.5" x2="182.87" y2="281.87" stroke="#d81010" stroke-width="2.0"/>
<line x1="184" y1="277.13" x2="183.82" y2="281.28" stroke="#e0b030" stroke-width="2.0"/>
<line x1="183.82" y1="281.28" x2="183.65" y2="285.44" stroke="#d81010" stroke-width="2.0"/>
<line x1="184" y1="277.13" x2="184.09" y2="282.32" stroke="#e0b030" stroke-width="2.0"/>
<line x1="184.09" y1="282.32" x2="184.19" y2="287.51" stroke="#d81010" stroke-width="2.0"/>
<line x1="184" y1="277.13" x2="185.4" y2="275.4" stroke="#e0b030" stroke-width="2.0"/>
<line x1="185.4" y1="275.4" x2="186.8" y2="273.67" stroke="#d81010" stroke-width="2.0"/>
<line x1="184" y1="277.13" x2="188.7" y2="276.96" stroke="#e0b030" stroke-width="2.0"/>
<line x1="188.7" y1="276.96" x2="193.39" y2="276.8" stroke="#d81010" stroke-width="2.0"/>
<line x1="201.5" y1="277.45" x2="197.45" y2="277.12" stroke="#e0b030" stroke-width="2.0"/>
<line x1="197.45" y1="277.12" x2="193.39" y2="276.8" stroke="#d81010" stroke-width="2.0"/>
<line x1="201.5" y1="277.45" x2="201.02" y2="279.51" stroke="#e0b030" stroke-width="2.0"/>
<line x1="201.02" y1="279.51" x2="200.55" y2="281.57" stroke="#d81010" stroke-width="2.0"/>
<line x1="201.5" y1="277.45" x2="201.56" y2="281.54" stroke="#e0b030" stroke-width="2.0"/>
<line x1="201.56" y1="281.54" x2="201.63" y2="285.63" stroke="#d81010" stroke-width="2.0"/>
<line x1="201.5" y1="277.45" x2="200.06" y2="275.28" stroke="#e0b030" stroke-width="2.0"/>
<line x1="200.06" y1="275.28" x2="198.62" y2="273.11" stroke="#d81010" stroke-width="2.0"/>
<line x1="201.5" y1="277.45" x2="203.41" y2="275.53" stroke="#e0b030" stroke-width="2.0"/>
<line x1="203.41" y1="275.53" x2="205.32" y2="273.62" stroke="#d81010" stroke-width="2.0"/>
<line x1="208.88" y1="270.81" x2="211.04" y2="268.91" stroke="#e0b030" stroke-width="2.0"/>
<line x1="211.04" y1="268.91" x2="213.2" y2="267" stroke="#d81010" stroke-width="2.0"/>
<line x1="213.2" y1="267" x2="213.37" y2="262.88" stroke="#e0b030" stroke-width="2.0"/>
<line x1="213.37" y1="262.88" x2="213.53" y2="258.77" stroke="#d81010" stroke-width="2.0"/>
<line x1="213.2" y1="267" x2="215.71" y2="267.08" stroke="#e0b030" stroke-width="2.0"/>
<line x1="215.71" y1="267.08" x2="218.22" y2="267.16" stroke="#d81010" stroke-width="2.0"/>
<line x1="60.1" y1="277.62" x2="57.22" y2="276.81" stroke="#e0b030" stroke-width="2.0"/>
<line x1="57.22" y1="276.81" x2="54.35" y2="276" stroke="#d81010" stroke-width="2.0"/>
<line x1="57.6" y1="313.1" x2="57.34" y2="317.04" stroke="#e0b030" stroke-width="2.0"/>
<line x1="57.34" y1="317.04" x2="57.08" y2="320.97" stroke="#d81010" stroke-width="2.0"/>
<line x1="57.6" y1="313.1" x2="59.4" y2="311.12" stroke="#e0b030" stroke-width="2.0"/>
<line x1="59.4" y1="311.12" x2="61.2" y2="309.15" stroke="#d81010" stroke-width="2.0"/>
<line x1="64.39" y1="306.46" x2="66.54" y2="304.68" stroke="#e0b030" stroke-width="2.0"/>
<line x1="66.54" y1="304.68" x2="68.7" y2="302.9" stroke="#d81010" stroke-width="2.0"/>
<line x1="68.7" y1="302.9" x2="67.77" y2="301.06" stroke="#e0b030" stroke-width="2.0"/>
<line x1="67.77" y1="301.06" x2="66.84" y2="299.22" stroke="#d81010" stroke-width="2.0"/>
<line x1="68.7" y1="302.9" x2="68.38" y2="298.75" stroke="#e0b030" stroke-width="2.0"/>
<line x1="68.38" y1="298.75" x2="68.06" y2="294.61" stroke="#d81010" stroke-width="2.0"/>
<line x1="68.7" y1="302.9" x2="68.78" y2="297.54" stroke="#e0b030" stroke-width="2.0"/>
<line x1="68.78" y1="297.54" x2="68.85" y2="292.19" stroke="#d81010" stroke-width="2.0"/>
<line x1="68.7" y1="302.9" x2="70.1" y2="304.64" stroke="#e0b030" stroke-width="2.0"/>
<line x1="70.1" y1="304.64" x2="71.51" y2="306.37" stroke="#d81010" stroke-width="2.0"/>
<line x1="68.7" y1="302.9" x2="73.99" y2="303.23" stroke="#e0b030" stroke-width="2.0"/>
<line x1="73.99" y1="303.23" x2="79.29" y2="303.56" stroke="#d81010" stroke-width="2.0"/>
<line x1="88.9" y1="302.84" x2="84.09" y2="303.2" stroke="#e0b030" stroke-width="2.0"/>
<line x1="84.09" y1="303.2" x2="79.29" y2="303.56" stroke="#d81010" stroke-width="2.0"/>
<line x1="88.9" y1="302.84" x2="88.63" y2="300.58" stroke="#e0b030" stroke-width="2.0"/>
<line x1="88.63" y1="300.58" x2="88.35" y2="298.32" stroke="#d81010" stroke-width="2.0"/>
<line x1="88.9" y1="302.84" x2="88.86" y2="298.46" stroke="#e0b030" stroke-width="2.0"/>
<line x1="88.86" y1="298.46" x2="88.82" y2="294.08" stroke="#d81010" stroke-width="2.0"/>
<line x1="88.9" y1="302.84" x2="87.29" y2="304.67" stroke="#e0b030" stroke-width="2.0"/>
<line x1="87.29" y1="304.67" x2="85.68" y2="306.51" stroke="#d81010" stroke-width="2.0"/>
<line x1="88.9" y1="302.84" x2="90.92" y2="304.55" stroke="#e0b030" stroke-width="2.0"/>
<line x1="90.92" y1="304.55" x2="92.94" y2="306.26" stroke="#d81010" stroke-width="2.0"/>
<line x1="95.24" y1="309.77" x2="97.32" y2="311.43" stroke="#e0b030" stroke-width="2.0"/>
<line x1="97.32" y1="311.43" x2="99.4" y2="313.1" stroke="#d81010" stroke-width="2.0"/>
<line x1="99.4" y1="313.1" x2="99.27" y2="317.1" stroke="#e0b030" stroke-width="2.0"/>
<line x1="99.27" y1="317.1" x2="99.14" y2="321.11" stroke="#d81010" stroke-width="2.0"/>
<line x1="99.4" y1="313.1" x2="101.42" y2="311.01" stroke="#e0b030" stroke-width="2.0"/>
<line x1="101.42" y1="311.01" x2="103.43" y2="308.91" stroke="#d81010" stroke-width="2.0"/>
<line x1="106.53" y1="306.71" x2="108.51" y2="304.61" stroke="#e0b030" stroke-width="2.0"/>
<line x1="108.51" y1="304.61" x2="110.5" y2="302.51" stroke="#d81010" stroke-width="2.0"/>
<line x1="110.5" y1="302.51" x2="110.15" y2="300.55" stroke="#e0b030" stroke-width="2.0"/>
<line x1="110.15" y1="300.55" x2="109.81" y2="298.59" stroke="#d81010" stroke-width="2.0"/>
<line x1="110.5" y1="302.51" x2="109.93" y2="298.52" stroke="#e0b030" stroke-width="2.0"/>
<line x1="109.93" y1="298.52" x2="109.37" y2="294.53" stroke="#d81010" stroke-width="2.0"/>
<line x1="110.5" y1="302.51" x2="110.52" y2="297.45" stroke="#e0b030" stroke-width="2.0"/>
<line x1="110.52" y1="297.45" x2="110.53" y2="292.39" stroke="#d81010" stroke-width="2.0"/>
<line x1="110.5" y1="302.51" x2="112.02" y2="304.71" stroke="#e0b030" stroke-width="2.0"/>
<line x1="112.02" y1="304.71" x2="113.55" y2="306.9" stroke="#d81010" stroke-width="2.0"/>
<line x1="110.5" y1="302.51" x2="115.43" y2="302.32" stroke="#e0b030" stroke-width="2.0"/>
<line x1="115.43" y1="302.32" x2="120.36" y2="302.13" stroke="#d81010" stroke-width="2.0"/>
<line x1="130.7" y1="302.52" x2="125.53" y2="302.32" stroke="#e0b030" stroke-width="2.0"/>
<line x1="125.53" y1="302.32" x2="120.36" y2="302.13" stroke="#d81010" stroke-width="2.0"/>
<line x1="130.7" y1="302.52" x2="130.67" y2="300.61" stroke="#e0b030" stroke-width="2.0"/>
<line x1="130.67" y1="300.61" x2="130.64" y2="298.7" stroke="#d81010" stroke-width="2.0"/>
<line x1="130.7" y1="302.52" x2="131.2" y2="298.63" stroke="#e0b030" stroke-width="2.0"/>
<line x1="131.2" y1="298.63" x2="131.69" y2="294.75" stroke="#d81010" stroke-width="2.0"/>
<line x1="130.7" y1="302.52" x2="129.42" y2="304.69" stroke="#e0b030" stroke-width="2.0"/>
<line x1="129.42" y1="304.69" x2="128.15" y2="306.86" stroke="#d81010" stroke-width="2.0"/>
<line x1="130.7" y1="302.52" x2="132.48" y2="304.43" stroke="#e0b030" stroke-width="2.0"/>
<line x1="132.48" y1="304.43" x2="134.26" y2="306.34" stroke="#d81010" stroke-width="2.0"/>
<line x1="137.3" y1="308.91" x2="139.25" y2="311.01" stroke="#e0b030" stroke-width="2.0"/>
<line x1="139.25" y1="311.01" x2="141.2" y2="313.1" stroke="#d81010" stroke-width="2.0"/>
<line x1="141.2" y1="313.1" x2="140.72" y2="317.2" stroke="#e0b030" stroke-width="2.0"/>
<line x1="140.72" y1="317.2" x2="140.24" y2="321.29" stroke="#d81010" stroke-width="2.0"/>
<line x1="141.2" y1="313.1" x2="143.1" y2="311.23" stroke="#e0b030" stroke-width="2.0"/>
<line x1="143.1" y1="311.23" x2="145" y2="309.36" stroke="#d81010" stroke-width="2.0"/>
<line x1="148.67" y1="306.13" x2="150.48" y2="304.21" stroke="#e0b030" stroke-width="2.0"/>
<line x1="150.48" y1="304.21" x2="152.3" y2="302.28" stroke="#d81010" stroke-width="2.0"/>
<line x1="152.3" y1="302.28" x2="152.01" y2="300.52" stroke="#e0b030" stroke-width="2.0"/>
<line x1="152.01" y1="300.52" x2="151.71" y2="298.77" stroke="#d81010" stroke-width="2.0"/>
<line x1="152.3" y1="302.28" x2="152.22" y2="298.29" stroke="#e0b030" stroke-width="2.0"/>
<line x1="152.22" y1="298.29" x2="152.14" y2="294.29" stroke="#d81010" stroke-width="2.0"/>
<line x1="152.3" y1="302.28" x2="152.35" y2="296.84" stroke="#e0b030" stroke-width="2.0"/>
<line x1="152.35" y1="296.84" x2="152.41" y2="291.4" stroke="#d81010" stroke-width="2.0"/>
<line x1="152.3" y1="302.28" x2="153.59" y2="304.08" stroke="#e0b030" stroke-width="2.0"/>
<line x1="153.59" y1="304.08" x2="154.88" y2="305.87" stroke="#d81010" stroke-width="2.0"/>
<line x1="152.3" y1="302.28" x2="157.44" y2="302.67" stroke="#e0b030" stroke-width="2.0"/>
<line x1="157.44" y1="302.67" x2="162.57" y2="303.06" stroke="#d81010" stroke-width="2.0"/>
<line x1="172.5" y1="302.71" x2="167.54" y2="302.88" stroke="#e0b030" stroke-width="2.0"/>
<line x1="167.54" y1="302.88" x2="162.57" y2="303.06" stroke="#d81010" stroke-width="2.0"/>
<line x1="172.5" y1="302.71" x2="172.49" y2="300.44" stroke="#e0b030" stroke-width="2.0"/>
<line x1="172.49" y1="300.44" x2="172.48" y2="298.18" stroke="#d81010" stroke-width="2.0"/>
<line x1="172.5" y1="302.71" x2="172.86" y2="298.82" stroke="#e0b030" stroke-width="2.0"/>
<line x1="172.86" y1="298.82" x2="173.21" y2="294.93" stroke="#d81010" stroke-width="2.0"/>
<line x1="172.5" y1="302.71" x2="170.71" y2="304.82" stroke="#e0b030" stroke-width="2.0"/>
<line x1="170.71" y1="304.82" x2="168.92" y2="306.93" stroke="#d81010" stroke-width="2.0"/>
<line x1="172.5" y1="302.71" x2="174.55" y2="304.69" stroke="#e0b030" stroke-width="2.0"/>
<line x1="174.55" y1="304.69" x2="176.61" y2="306.67" stroke="#d81010" stroke-width="2.0"/>
<line x1="179.42" y1="309.34" x2="181.21" y2="311.22" stroke="#e0b030" stroke-width="2.0"/>
<line x1="181.21" y1="311.22" x2="183" y2="313.1" stroke="#d81010" stroke-width="2.0"/>
<line x1="183" y1="313.1" x2="182.62" y2="317.55" stroke="#e0b030" stroke-width="2.0"/>
<line x1="182.62" y1="317.55" x2="182.25" y2="322" stroke="#d81010" stroke-width="2.0"/>
<line x1="183" y1="313.1" x2="184.93" y2="311.27" stroke="#e0b030" stroke-width="2.0"/>
<line x1="184.93" y1="311.27" x2="186.86" y2="309.43" stroke="#d81010" stroke-width="2.0"/>
<line x1="190.48" y1="306.07" x2="192.29" y2="304.16" stroke="#e0b030" stroke-width="2.0"/>
<line x1="192.29" y1="304.16" x2="194.1" y2="302.25" stroke="#d81010" stroke-width="2.0"/>
<line x1="194.1" y1="302.25" x2="193.43" y2="300.46" stroke="#e0b030" stroke-width="2.0"/>
<line x1="193.43" y1="300.46" x2="192.76" y2="298.68" stroke="#d81010" stroke-width="2.0"/>
<line x1="194.1" y1="302.25" x2="193.86" y2="298.12" stroke="#e0b030" stroke-width="2.0"/>
<line x1="193.86" y1="298.12" x2="193.61" y2="293.99" stroke="#d81010" stroke-width="2.0"/>
<line x1="194.1" y1="302.25" x2="194.09" y2="296.76" stroke="#e0b030" stroke-width="2.0"/>
<line x1="194.09" y1="296.76" x2="194.08" y2="291.26" stroke="#d81010" stroke-width="2.0"/>
<line x1="194.1" y1="302.25" x2="195.88" y2="304.46" stroke="#e0b030" stroke-width="2.0"/>
<line x1="195.88" y1="304.46" x2="197.67" y2="306.68" stroke="#d81010" stroke-width="2.0"/>
<line x1="194.1" y1="302.25" x2="198.9" y2="302.48" stroke="#e0b030" stroke-width="2.0"/>
<line x1="198.9" y1="302.48" x2="203.7" y2="302.71" stroke="#d81010" stroke-width="2.0"/>
<line x1="214.3" y1="302.25" x2="209" y2="302.48" stroke="#e0b030" stroke-width="2.0"/>
<line x1="209" y1="302.48" x2="203.7" y2="302.71" stroke="#d81010" stroke-width="2.0"/>
<line x1="214.3" y1="302.25" x2="214.39" y2="300.11" stroke="#e0b030" stroke-width="2.0"/>
<line x1="214.39" y1="300.11" x2="214.47" y2="297.97" stroke="#d81010" stroke-width="2.0"/>
<line x1="214.3" y1="302.25" x2="214.45" y2="298.19" stroke="#e0b030" stroke-width="2.0"/>
<line x1="214.45" y1="298.19" x2="214.59" y2="294.12" stroke="#d81010" stroke-width="2.0"/>
<line x1="214.3" y1="302.25" x2="212.54" y2="303.91" stroke="#e0b030" stroke-width="2.0"/>
<line x1="212.54" y1="303.91" x2="210.78" y2="305.57" stroke="#d81010" stroke-width="2.0"/>
<line x1="214.3" y1="302.25" x2="217.13" y2="302.36" stroke="#e0b030" stroke-width="2.0"/>
<line x1="217.13" y1="302.36" x2="219.96" y2="302.46" stroke="#d81010" stroke-width="2.0"/>
<line x1="57.6" y1="313.1" x2="54.62" y2="312.9" stroke="#e0b030" stroke-width="2.0"/>
<line x1="54.62" y1="312.9" x2="51.64" y2="312.71" stroke="#d81010" stroke-width="2.0"/>
<line x1="287.2" y1="287.88" x2="286.82" y2="289.93" stroke="#e0b030" stroke-width="2.0"/>
<line x1="286.82" y1="289.93" x2="286.45" y2="291.98" stroke="#d81010" stroke-width="2.0"/>
<line x1="287.2" y1="287.88" x2="286.8" y2="292.01" stroke="#e0b030" stroke-width="2.0"/>
<line x1="286.8" y1="292.01" x2="286.39" y2="296.15" stroke="#d81010" stroke-width="2.0"/>
<line x1="287.2" y1="287.88" x2="287.38" y2="293.13" stroke="#e0b030" stroke-width="2.0"/>
<line x1="287.38" y1="293.13" x2="287.55" y2="298.39" stroke="#d81010" stroke-width="2.0"/>
<line x1="287.2" y1="287.88" x2="288.83" y2="286.22" stroke="#e0b030" stroke-width="2.0"/>
<line x1="288.83" y1="286.22" x2="290.46" y2="284.55" stroke="#d81010" stroke-width="2.0"/>
<line x1="287.2" y1="287.88" x2="291.61" y2="288.04" stroke="#e0b030" stroke-width="2.0"/>
<line x1="291.61" y1="288.04" x2="296.03" y2="288.21" stroke="#d81010" stroke-width="2.0"/>
<line x1="305.3" y1="287.61" x2="300.66" y2="287.91" stroke="#e0b030" stroke-width="2.0"/>
<line x1="300.66" y1="287.91" x2="296.03" y2="288.21" stroke="#d81010" stroke-width="2.0"/>
<line x1="305.3" y1="287.61" x2="305.19" y2="289.96" stroke="#e0b030" stroke-width="2.0"/>
<line x1="305.19" y1="289.96" x2="305.09" y2="292.3" stroke="#d81010" stroke-width="2.0"/>
<line x1="305.3" y1="287.61" x2="305.48" y2="291.61" stroke="#e0b030" stroke-width="2.0"/>
<line x1="305.48" y1="291.61" x2="305.67" y2="295.6" stroke="#d81010" stroke-width="2.0"/>
<line x1="305.3" y1="287.61" x2="303.49" y2="285.36" stroke="#e0b030" stroke-width="2.0"/>
<line x1="303.49" y1="285.36" x2="301.68" y2="283.1" stroke="#d81010" stroke-width="2.0"/>
<line x1="305.3" y1="287.61" x2="307.02" y2="285.89" stroke="#e0b030" stroke-width="2.0"/>
<line x1="307.02" y1="285.89" x2="308.74" y2="284.17" stroke="#d81010" stroke-width="2.0"/>
<line x1="311.82" y1="280.87" x2="313.81" y2="279.19" stroke="#e0b030" stroke-width="2.0"/>
<line x1="313.81" y1="279.19" x2="315.8" y2="277.5" stroke="#d81010" stroke-width="2.0"/>
<line x1="315.8" y1="277.5" x2="315.36" y2="273.49" stroke="#e0b030" stroke-width="2.0"/>
<line x1="315.36" y1="273.49" x2="314.92" y2="269.48" stroke="#d81010" stroke-width="2.0"/>
<line x1="315.8" y1="277.5" x2="318.76" y2="279.42" stroke="#e0b030" stroke-width="2.0"/>
<line x1="318.76" y1="279.42" x2="321.71" y2="281.34" stroke="#d81010" stroke-width="2.0"/>
<line x1="325.61" y1="283.89" x2="328.5" y2="285.84" stroke="#e0b030" stroke-width="2.0"/>
<line x1="328.5" y1="285.84" x2="331.4" y2="287.8" stroke="#d81010" stroke-width="2.0"/>
<line x1="331.4" y1="287.8" x2="330.66" y2="289.87" stroke="#e0b030" stroke-width="2.0"/>
<line x1="330.66" y1="289.87" x2="329.91" y2="291.94" stroke="#d81010" stroke-width="2.0"/>
<line x1="331.4" y1="287.8" x2="330.76" y2="291.66" stroke="#e0b030" stroke-width="2.0"/>
<line x1="330.76" y1="291.66" x2="330.12" y2="295.52" stroke="#d81010" stroke-width="2.0"/>
<line x1="331.4" y1="287.8" x2="331.48" y2="293.37" stroke="#e0b030" stroke-width="2.0"/>
<line x1="331.48" y1="293.37" x2="331.57" y2="298.95" stroke="#d81010" stroke-width="2.0"/>
<line x1="331.4" y1="287.8" x2="333.23" y2="285.83" stroke="#e0b030" stroke-width="2.0"/>
<line x1="333.23" y1="285.83" x2="335.06" y2="283.87" stroke="#d81010" stroke-width="2.0"/>
<line x1="331.4" y1="287.8" x2="335.75" y2="288.08" stroke="#e0b030" stroke-width="2.0"/>
<line x1="335.75" y1="288.08" x2="340.09" y2="288.36" stroke="#d81010" stroke-width="2.0"/>
<line x1="349.5" y1="287.61" x2="344.8" y2="287.99" stroke="#e0b030" stroke-width="2.0"/>
<line x1="344.8" y1="287.99" x2="340.09" y2="288.36" stroke="#d81010" stroke-width="2.0"/>
<line x1="349.5" y1="287.61" x2="349.12" y2="289.76" stroke="#e0b030" stroke-width="2.0"/>
<line x1="349.12" y1="289.76" x2="348.73" y2="291.91" stroke="#d81010" stroke-width="2.0"/>
<line x1="349.5" y1="287.61" x2="349.4" y2="291.63" stroke="#e0b030" stroke-width="2.0"/>
<line x1="349.4" y1="291.63" x2="349.3" y2="295.65" stroke="#d81010" stroke-width="2.0"/>
<line x1="349.5" y1="287.61" x2="347.98" y2="285.61" stroke="#e0b030" stroke-width="2.0"/>
<line x1="347.98" y1="285.61" x2="346.46" y2="283.62" stroke="#d81010" stroke-width="2.0"/>
<line x1="349.5" y1="287.61" x2="351.27" y2="285.79" stroke="#e0b030" stroke-width="2.0"/>
<line x1="351.27" y1="285.79" x2="353.04" y2="283.98" stroke="#d81010" stroke-width="2.0"/>
<line x1="355.82" y1="280.95" x2="357.91" y2="279.23" stroke="#e0b030" stroke-width="2.0"/>
<line x1="357.91" y1="279.23" x2="360" y2="277.5" stroke="#d81010" stroke-width="2.0"/>
<line x1="360" y1="277.5" x2="359.56" y2="273.18" stroke="#e0b030" stroke-width="2.0"/>
<line x1="359.56" y1="273.18" x2="359.13" y2="268.86" stroke="#d81010" stroke-width="2.0"/>
<line x1="360" y1="277.5" x2="362.62" y2="279.23" stroke="#e0b030" stroke-width="2.0"/>
<line x1="362.62" y1="279.23" x2="365.25" y2="280.97" stroke="#d81010" stroke-width="2.0"/>
<line x1="369.83" y1="284.13" x2="372.71" y2="286.16" stroke="#e0b030" stroke-width="2.0"/>
<line x1="372.71" y1="286.16" x2="375.6" y2="288.19" stroke="#d81010" stroke-width="2.0"/>
<line x1="375.6" y1="288.19" x2="375.06" y2="290.31" stroke="#e0b030" stroke-width="2.0"/>
<line x1="375.06" y1="290.31" x2="374.52" y2="292.43" stroke="#d81010" stroke-width="2.0"/>
<line x1="375.6" y1="288.19" x2="375.38" y2="292.2" stroke="#e0b030" stroke-width="2.0"/>
<line x1="375.38" y1="292.2" x2="375.15" y2="296.21" stroke="#d81010" stroke-width="2.0"/>
<line x1="375.6" y1="288.19" x2="376" y2="293.7" stroke="#e0b030" stroke-width="2.0"/>
<line x1="376" y1="293.7" x2="376.4" y2="299.22" stroke="#d81010" stroke-width="2.0"/>
<line x1="375.6" y1="288.19" x2="377.02" y2="286.06" stroke="#e0b030" stroke-width="2.0"/>
<line x1="377.02" y1="286.06" x2="378.45" y2="283.94" stroke="#d81010" stroke-width="2.0"/>
<line x1="375.6" y1="288.19" x2="380.46" y2="287.9" stroke="#e0b030" stroke-width="2.0"/>
<line x1="380.46" y1="287.9" x2="385.33" y2="287.62" stroke="#d81010" stroke-width="2.0"/>
<line x1="393.7" y1="288.04" x2="389.51" y2="287.83" stroke="#e0b030" stroke-width="2.0"/>
<line x1="389.51" y1="287.83" x2="385.33" y2="287.62" stroke="#d81010" stroke-width="2.0"/>
<line x1="393.7" y1="288.04" x2="393.61" y2="290.39" stroke="#e0b030" stroke-width="2.0"/>
<line x1="393.61" y1="290.39" x2="393.51" y2="292.74" stroke="#d81010" stroke-width="2.0"/>
<line x1="393.7" y1="288.04" x2="393.63" y2="292.38" stroke="#e0b030" stroke-width="2.0"/>
<line x1="393.63" y1="292.38" x2="393.56" y2="296.71" stroke="#d81010" stroke-width="2.0"/>
<line x1="393.7" y1="288.04" x2="392.47" y2="286.13" stroke="#e0b030" stroke-width="2.0"/>
<line x1="392.47" y1="286.13" x2="391.25" y2="284.22" stroke="#d81010" stroke-width="2.0"/>
<line x1="393.7" y1="288.04" x2="395.68" y2="286.27" stroke="#e0b030" stroke-width="2.0"/>
<line x1="395.68" y1="286.27" x2="397.67" y2="284.5" stroke="#d81010" stroke-width="2.0"/>
<line x1="400.13" y1="281.31" x2="402.17" y2="279.41" stroke="#e0b030" stroke-width="2.0"/>
<line x1="402.17" y1="279.41" x2="404.2" y2="277.5" stroke="#d81010" stroke-width="2.0"/>
<line x1="404.2" y1="277.5" x2="404.05" y2="273.48" stroke="#e0b030" stroke-width="2.0"/>
<line x1="404.05" y1="273.48" x2="403.91" y2="269.47" stroke="#d81010" stroke-width="2.0"/>
<line x1="404.2" y1="277.5" x2="407.13" y2="279.48" stroke="#e0b030" stroke-width="2.0"/>
<line x1="407.13" y1="279.48" x2="410.06" y2="281.45" stroke="#d81010" stroke-width="2.0"/>
<line x1="414.25" y1="284.38" x2="417.03" y2="286.06" stroke="#e0b030" stroke-width="2.0"/>
<line x1="417.03" y1="286.06" x2="419.8" y2="287.75" stroke="#d81010" stroke-width="2.0"/>
<line x1="419.8" y1="287.75" x2="419.33" y2="289.99" stroke="#e0b030" stroke-width="2.0"/>
<line x1="419.33" y1="289.99" x2="418.86" y2="292.22" stroke="#d81010" stroke-width="2.0"/>
<line x1="419.8" y1="287.75" x2="419.21" y2="291.32" stroke="#e0b030" stroke-width="2.0"/>
<line x1="419.21" y1="291.32" x2="418.62" y2="294.9" stroke="#d81010" stroke-width="2.0"/>
<line x1="419.8" y1="287.75" x2="419.79" y2="292.9" stroke="#e0b030" stroke-width="2.0"/>
<line x1="419.79" y1="292.9" x2="419.79" y2="298.06" stroke="#d81010" stroke-width="2.0"/>
<line x1="419.8" y1="287.75" x2="421.02" y2="285.99" stroke="#e0b030" stroke-width="2.0"/>
<line x1="421.02" y1="285.99" x2="422.25" y2="284.22" stroke="#d81010" stroke-width="2.0"/>
<line x1="419.8" y1="287.75" x2="424.37" y2="287.9" stroke="#e0b030" stroke-width="2.0"/>
<line x1="424.37" y1="287.9" x2="428.93" y2="288.04" stroke="#d81010" stroke-width="2.0"/>
<line x1="437.9" y1="287.98" x2="433.42" y2="288.01" stroke="#e0b030" stroke-width="2.0"/>
<line x1="433.42" y1="288.01" x2="428.93" y2="288.04" stroke="#d81010" stroke-width="2.0"/>
<line x1="437.9" y1="287.98" x2="437.74" y2="290.36" stroke="#e0b030" stroke-width="2.0"/>
<line x1="437.74" y1="290.36" x2="437.58" y2="292.73" stroke="#d81010" stroke-width="2.0"/>
<line x1="437.9" y1="287.98" x2="438.14" y2="291.73" stroke="#e0b030" stroke-width="2.0"/>
<line x1="438.14" y1="291.73" x2="438.39" y2="295.48" stroke="#d81010" stroke-width="2.0"/>
<line x1="437.9" y1="287.98" x2="436.61" y2="286.15" stroke="#e0b030" stroke-width="2.0"/>
<line x1="436.61" y1="286.15" x2="435.32" y2="284.33" stroke="#d81010" stroke-width="2.0"/>
<line x1="437.9" y1="287.98" x2="440.4" y2="288" stroke="#e0b030" stroke-width="2.0"/>
<line x1="440.4" y1="288" x2="442.9" y2="288.03" stroke="#d81010" stroke-width="2.0"/>
<line x1="287.2" y1="287.88" x2="284.31" y2="287.07" stroke="#e0b030" stroke-width="2.0"/>
<line x1="284.31" y1="287.07" x2="281.42" y2="286.27" stroke="#d81010" stroke-width="2.0"/>
<line x1="275.04" y1="310.3" x2="272.38" y2="308.46" stroke="#e0b030" stroke-width="2.0"/>
<line x1="272.38" y1="308.46" x2="269.71" y2="306.62" stroke="#d81010" stroke-width="2.0"/>
<line x1="275.04" y1="310.3" x2="272.34" y2="313.47" stroke="#e0b030" stroke-width="2.0"/>
<line x1="272.34" y1="313.47" x2="269.63" y2="316.64" stroke="#d81010" stroke-width="2.0"/>
<line x1="275.04" y1="310.3" x2="277.13" y2="307.05" stroke="#e0b030" stroke-width="2.0"/>
<line x1="277.13" y1="307.05" x2="279.21" y2="303.79" stroke="#d81010" stroke-width="2.0"/>
<line x1="275.04" y1="310.3" x2="279.17" y2="311.95" stroke="#e0b030" stroke-width="2.0"/>
<line x1="279.17" y1="311.95" x2="283.31" y2="313.6" stroke="#d81010" stroke-width="2.0"/>
<line x1="291.9" y1="315.96" x2="287.6" y2="314.78" stroke="#e0b030" stroke-width="2.0"/>
<line x1="287.6" y1="314.78" x2="283.31" y2="313.6" stroke="#d81010" stroke-width="2.0"/>
<line x1="291.9" y1="315.96" x2="292.53" y2="311.9" stroke="#e0b030" stroke-width="2.0"/>
<line x1="292.53" y1="311.9" x2="293.16" y2="307.83" stroke="#d81010" stroke-width="2.0"/>
<line x1="291.9" y1="315.96" x2="292.23" y2="318.31" stroke="#e0b030" stroke-width="2.0"/>
<line x1="292.23" y1="318.31" x2="292.56" y2="320.66" stroke="#d81010" stroke-width="2.0"/>
<line x1="291.9" y1="315.96" x2="295.75" y2="315.88" stroke="#e0b030" stroke-width="2.0"/>
<line x1="295.75" y1="315.88" x2="299.61" y2="315.8" stroke="#d81010" stroke-width="2.0"/>
<line x1="299.61" y1="315.8" x2="303.72" y2="315.3" stroke="#e0b030" stroke-width="2.0"/>
<line x1="303.72" y1="315.3" x2="307.83" y2="314.8" stroke="#d81010" stroke-width="2.0"/>
<line x1="307.83" y1="314.8" x2="312.72" y2="312.65" stroke="#e0b030" stroke-width="2.0"/>
<line x1="312.72" y1="312.65" x2="317.6" y2="310.5" stroke="#d81010" stroke-width="2.0"/>
<line x1="317.35" y1="310.22" x2="315.02" y2="308.08" stroke="#e0b030" stroke-width="2.0"/>
<line x1="315.02" y1="308.08" x2="312.69" y2="305.94" stroke="#d81010" stroke-width="2.0"/>
<line x1="317.35" y1="310.22" x2="314.89" y2="312.88" stroke="#e0b030" stroke-width="2.0"/>
<line x1="314.89" y1="312.88" x2="312.44" y2="315.54" stroke="#d81010" stroke-width="2.0"/>
<line x1="317.35" y1="310.22" x2="318.79" y2="306.81" stroke="#e0b030" stroke-width="2.0"/>
<line x1="318.79" y1="306.81" x2="320.23" y2="303.39" stroke="#d81010" stroke-width="2.0"/>
<line x1="317.35" y1="310.22" x2="321.78" y2="312.07" stroke="#e0b030" stroke-width="2.0"/>
<line x1="321.78" y1="312.07" x2="326.21" y2="313.93" stroke="#d81010" stroke-width="2.0"/>
<line x1="334.6" y1="316.1" x2="330.41" y2="315.02" stroke="#e0b030" stroke-width="2.0"/>
<line x1="330.41" y1="315.02" x2="326.21" y2="313.93" stroke="#d81010" stroke-width="2.0"/>
<line x1="334.6" y1="316.1" x2="335.22" y2="311.71" stroke="#e0b030" stroke-width="2.0"/>
<line x1="335.22" y1="311.71" x2="335.85" y2="307.31" stroke="#d81010" stroke-width="2.0"/>
<line x1="334.6" y1="316.1" x2="334.86" y2="318.33" stroke="#e0b030" stroke-width="2.0"/>
<line x1="334.86" y1="318.33" x2="335.12" y2="320.55" stroke="#d81010" stroke-width="2.0"/>
<line x1="334.6" y1="316.1" x2="338.45" y2="315.95" stroke="#e0b030" stroke-width="2.0"/>
<line x1="338.45" y1="315.95" x2="342.31" y2="315.8" stroke="#d81010" stroke-width="2.0"/>
<line x1="342.31" y1="315.8" x2="346.42" y2="315.3" stroke="#e0b030" stroke-width="2.0"/>
<line x1="346.42" y1="315.3" x2="350.53" y2="314.8" stroke="#d81010" stroke-width="2.0"/>
<line x1="350.53" y1="314.8" x2="355.42" y2="312.65" stroke="#e0b030" stroke-width="2.0"/>
<line x1="355.42" y1="312.65" x2="360.3" y2="310.5" stroke="#d81010" stroke-width="2.0"/>
<line x1="360.28" y1="310.19" x2="357.57" y2="308.53" stroke="#e0b030" stroke-width="2.0"/>
<line x1="357.57" y1="308.53" x2="354.86" y2="306.86" stroke="#d81010" stroke-width="2.0"/>
<line x1="360.28" y1="310.19" x2="358.09" y2="312.86" stroke="#e0b030" stroke-width="2.0"/>
<line x1="358.09" y1="312.86" x2="355.89" y2="315.52" stroke="#d81010" stroke-width="2.0"/>
<line x1="360.28" y1="310.19" x2="362" y2="307.17" stroke="#e0b030" stroke-width="2.0"/>
<line x1="362" y1="307.17" x2="363.72" y2="304.14" stroke="#d81010" stroke-width="2.0"/>
<line x1="360.28" y1="310.19" x2="364.86" y2="312.01" stroke="#e0b030" stroke-width="2.0"/>
<line x1="364.86" y1="312.01" x2="369.45" y2="313.83" stroke="#d81010" stroke-width="2.0"/>
<line x1="377.3" y1="316.61" x2="373.37" y2="315.22" stroke="#e0b030" stroke-width="2.0"/>
<line x1="373.37" y1="315.22" x2="369.45" y2="313.83" stroke="#d81010" stroke-width="2.0"/>
<line x1="377.3" y1="316.61" x2="377.64" y2="312.16" stroke="#e0b030" stroke-width="2.0"/>
<line x1="377.64" y1="312.16" x2="377.98" y2="307.71" stroke="#d81010" stroke-width="2.0"/>
<line x1="377.3" y1="316.61" x2="377.86" y2="318.66" stroke="#e0b030" stroke-width="2.0"/>
<line x1="377.86" y1="318.66" x2="378.42" y2="320.71" stroke="#d81010" stroke-width="2.0"/>
<line x1="377.3" y1="316.61" x2="381.15" y2="316.21" stroke="#e0b030" stroke-width="2.0"/>
<line x1="381.15" y1="316.21" x2="385.01" y2="315.8" stroke="#d81010" stroke-width="2.0"/>
<line x1="385.01" y1="315.8" x2="389.12" y2="315.3" stroke="#e0b030" stroke-width="2.0"/>
<line x1="389.12" y1="315.3" x2="393.23" y2="314.8" stroke="#d81010" stroke-width="2.0"/>
<line x1="393.23" y1="314.8" x2="398.12" y2="312.65" stroke="#e0b030" stroke-width="2.0"/>
<line x1="398.12" y1="312.65" x2="403" y2="310.5" stroke="#d81010" stroke-width="2.0"/>
<line x1="403.05" y1="310.21" x2="400.87" y2="307.96" stroke="#e0b030" stroke-width="2.0"/>
<line x1="400.87" y1="307.96" x2="398.68" y2="305.7" stroke="#d81010" stroke-width="2.0"/>
<line x1="403.05" y1="310.21" x2="400.77" y2="313.22" stroke="#e0b030" stroke-width="2.0"/>
<line x1="400.77" y1="313.22" x2="398.5" y2="316.23" stroke="#d81010" stroke-width="2.0"/>
<line x1="403.05" y1="310.21" x2="405.07" y2="307.11" stroke="#e0b030" stroke-width="2.0"/>
<line x1="405.07" y1="307.11" x2="407.09" y2="304" stroke="#d81010" stroke-width="2.0"/>
<line x1="403.05" y1="310.21" x2="407.1" y2="312.27" stroke="#e0b030" stroke-width="2.0"/>
<line x1="407.1" y1="312.27" x2="411.15" y2="314.32" stroke="#d81010" stroke-width="2.0"/>
<line x1="420" y1="316.32" x2="415.57" y2="315.32" stroke="#e0b030" stroke-width="2.0"/>
<line x1="415.57" y1="315.32" x2="411.15" y2="314.32" stroke="#d81010" stroke-width="2.0"/>
<line x1="420" y1="316.32" x2="420.49" y2="311.74" stroke="#e0b030" stroke-width="2.0"/>
<line x1="420.49" y1="311.74" x2="420.98" y2="307.15" stroke="#d81010" stroke-width="2.0"/>
<line x1="420" y1="316.32" x2="419.9" y2="318.56" stroke="#e0b030" stroke-width="2.0"/>
<line x1="419.9" y1="318.56" x2="419.81" y2="320.81" stroke="#d81010" stroke-width="2.0"/>
<line x1="489" y1="275.8" x2="493.41" y2="276.3" stroke="#e0b030" stroke-width="2.0"/>
<line x1="493.41" y1="276.3" x2="497.82" y2="276.8" stroke="#d81010" stroke-width="2.0"/>
<line x1="505.5" y1="278.4" x2="501.66" y2="277.6" stroke="#e0b030" stroke-width="2.0"/>
<line x1="501.66" y1="277.6" x2="497.82" y2="276.8" stroke="#d81010" stroke-width="2.0"/>
<line x1="489" y1="275.8" x2="486.86" y2="273.15" stroke="#e0b030" stroke-width="2.0"/>
<line x1="486.86" y1="273.15" x2="484.73" y2="270.5" stroke="#d81010" stroke-width="2.0"/>
<line x1="489" y1="275.8" x2="487.53" y2="277.81" stroke="#e0b030" stroke-width="2.0"/>
<line x1="487.53" y1="277.81" x2="486.07" y2="279.83" stroke="#d81010" stroke-width="2.0"/>
<line x1="489" y1="275.8" x2="488.49" y2="271.71" stroke="#e0b030" stroke-width="2.0"/>
<line x1="488.49" y1="271.71" x2="487.98" y2="267.63" stroke="#d81010" stroke-width="2.0"/>
<line x1="489" y1="275.8" x2="486.22" y2="276.03" stroke="#e0b030" stroke-width="2.0"/>
<line x1="486.22" y1="276.03" x2="483.43" y2="276.26" stroke="#d81010" stroke-width="2.0"/>
<line x1="505.5" y1="278.4" x2="507.25" y2="275.77" stroke="#e0b030" stroke-width="2.0"/>
<line x1="507.25" y1="275.77" x2="509" y2="273.14" stroke="#d81010" stroke-width="2.0"/>
<line x1="505.5" y1="278.4" x2="507.57" y2="280.44" stroke="#e0b030" stroke-width="2.0"/>
<line x1="507.57" y1="280.44" x2="509.65" y2="282.48" stroke="#d81010" stroke-width="2.0"/>
<line x1="505.5" y1="278.4" x2="505.24" y2="282.02" stroke="#e0b030" stroke-width="2.0"/>
<line x1="505.24" y1="282.02" x2="504.98" y2="285.63" stroke="#d81010" stroke-width="2.0"/>
<line x1="505.5" y1="278.4" x2="508.01" y2="277.89" stroke="#e0b030" stroke-width="2.0"/>
<line x1="508.01" y1="277.89" x2="510.53" y2="277.37" stroke="#d81010" stroke-width="2.0"/>
<line x1="529" y1="275.8" x2="532.82" y2="275.79" stroke="#e0b030" stroke-width="2.0"/>
<line x1="532.82" y1="275.79" x2="536.64" y2="275.79" stroke="#d81010" stroke-width="2.0"/>
<line x1="545.5" y1="278.4" x2="541.07" y2="277.09" stroke="#e0b030" stroke-width="2.0"/>
<line x1="541.07" y1="277.09" x2="536.64" y2="275.79" stroke="#d81010" stroke-width="2.0"/>
<line x1="529" y1="275.8" x2="527.23" y2="273.14" stroke="#e0b030" stroke-width="2.0"/>
<line x1="527.23" y1="273.14" x2="525.45" y2="270.48" stroke="#d81010" stroke-width="2.0"/>
<line x1="529" y1="275.8" x2="527.75" y2="278.19" stroke="#e0b030" stroke-width="2.0"/>
<line x1="527.75" y1="278.19" x2="526.5" y2="280.58" stroke="#d81010" stroke-width="2.0"/>
<line x1="529" y1="275.8" x2="528.85" y2="271.8" stroke="#e0b030" stroke-width="2.0"/>
<line x1="528.85" y1="271.8" x2="528.71" y2="267.8" stroke="#d81010" stroke-width="2.0"/>
<line x1="529" y1="275.8" x2="526.24" y2="276.02" stroke="#e0b030" stroke-width="2.0"/>
<line x1="526.24" y1="276.02" x2="523.48" y2="276.25" stroke="#d81010" stroke-width="2.0"/>
<line x1="545.5" y1="278.4" x2="547.13" y2="275.46" stroke="#e0b030" stroke-width="2.0"/>
<line x1="547.13" y1="275.46" x2="548.76" y2="272.52" stroke="#d81010" stroke-width="2.0"/>
<line x1="545.5" y1="278.4" x2="547.72" y2="280.74" stroke="#e0b030" stroke-width="2.0"/>
<line x1="547.72" y1="280.74" x2="549.94" y2="283.09" stroke="#d81010" stroke-width="2.0"/>
<line x1="545.5" y1="278.4" x2="545.56" y2="281.67" stroke="#e0b030" stroke-width="2.0"/>
<line x1="545.56" y1="281.67" x2="545.62" y2="284.93" stroke="#d81010" stroke-width="2.0"/>
<line x1="545.5" y1="278.4" x2="547.77" y2="278.15" stroke="#e0b030" stroke-width="2.0"/>
<line x1="547.77" y1="278.15" x2="550.05" y2="277.89" stroke="#d81010" stroke-width="2.0"/>
<line x1="569" y1="275.8" x2="573.4" y2="275.93" stroke="#e0b030" stroke-width="2.0"/>
<line x1="573.4" y1="275.93" x2="577.8" y2="276.06" stroke="#d81010" stroke-width="2.0"/>
<line x1="585.5" y1="278.4" x2="581.65" y2="277.23" stroke="#e0b030" stroke-width="2.0"/>
<line x1="581.65" y1="277.23" x2="577.8" y2="276.06" stroke="#d81010" stroke-width="2.0"/>
<line x1="569" y1="275.8" x2="566.96" y2="273.05" stroke="#e0b030" stroke-width="2.0"/>
<line x1="566.96" y1="273.05" x2="564.92" y2="270.3" stroke="#d81010" stroke-width="2.0"/>
<line x1="569" y1="275.8" x2="567.67" y2="278.4" stroke="#e0b030" stroke-width="2.0"/>
<line x1="567.67" y1="278.4" x2="566.35" y2="281" stroke="#d81010" stroke-width="2.0"/>
<line x1="569" y1="275.8" x2="568.83" y2="272.25" stroke="#e0b030" stroke-width="2.0"/>
<line x1="568.83" y1="272.25" x2="568.66" y2="268.7" stroke="#d81010" stroke-width="2.0"/>
<line x1="569" y1="275.8" x2="566.73" y2="276.02" stroke="#e0b030" stroke-width="2.0"/>
<line x1="566.73" y1="276.02" x2="564.46" y2="276.25" stroke="#d81010" stroke-width="2.0"/>
<line x1="585.5" y1="278.4" x2="586.93" y2="275.26" stroke="#e0b030" stroke-width="2.0"/>
<line x1="586.93" y1="275.26" x2="588.35" y2="272.12" stroke="#d81010" stroke-width="2.0"/>
<line x1="585.5" y1="278.4" x2="587.42" y2="280.63" stroke="#e0b030" stroke-width="2.0"/>
<line x1="587.42" y1="280.63" x2="589.33" y2="282.85" stroke="#d81010" stroke-width="2.0"/>
<line x1="585.5" y1="278.4" x2="585.61" y2="282.16" stroke="#e0b030" stroke-width="2.0"/>
<line x1="585.61" y1="282.16" x2="585.72" y2="285.91" stroke="#d81010" stroke-width="2.0"/>
<line x1="585.5" y1="278.4" x2="588.2" y2="278.19" stroke="#e0b030" stroke-width="2.0"/>
<line x1="588.2" y1="278.19" x2="590.91" y2="277.97" stroke="#d81010" stroke-width="2.0"/>
<line x1="609" y1="275.8" x2="613.1" y2="275.99" stroke="#e0b030" stroke-width="2.0"/>
<line x1="613.1" y1="275.99" x2="617.19" y2="276.17" stroke="#d81010" stroke-width="2.0"/>
<line x1="625.5" y1="278.4" x2="621.35" y2="277.29" stroke="#e0b030" stroke-width="2.0"/>
<line x1="621.35" y1="277.29" x2="617.19" y2="276.17" stroke="#d81010" stroke-width="2.0"/>
<line x1="609" y1="275.8" x2="606.58" y2="273.6" stroke="#e0b030" stroke-width="2.0"/>
<line x1="606.58" y1="273.6" x2="604.16" y2="271.4" stroke="#d81010" stroke-width="2.0"/>
<line x1="609" y1="275.8" x2="607.56" y2="278.39" stroke="#e0b030" stroke-width="2.0"/>
<line x1="607.56" y1="278.39" x2="606.13" y2="280.99" stroke="#d81010" stroke-width="2.0"/>
<line x1="609" y1="275.8" x2="608.7" y2="271.86" stroke="#e0b030" stroke-width="2.0"/>
<line x1="608.7" y1="271.86" x2="608.4" y2="267.93" stroke="#d81010" stroke-width="2.0"/>
<line x1="609" y1="275.8" x2="606.14" y2="276.03" stroke="#e0b030" stroke-width="2.0"/>
<line x1="606.14" y1="276.03" x2="603.28" y2="276.25" stroke="#d81010" stroke-width="2.0"/>
<line x1="625.5" y1="278.4" x2="627.3" y2="275.64" stroke="#e0b030" stroke-width="2.0"/>
<line x1="627.3" y1="275.64" x2="629.09" y2="272.88" stroke="#d81010" stroke-width="2.0"/>
<line x1="625.5" y1="278.4" x2="627.13" y2="280.2" stroke="#e0b030" stroke-width="2.0"/>
<line x1="627.13" y1="280.2" x2="628.76" y2="282" stroke="#d81010" stroke-width="2.0"/>
<line x1="625.5" y1="278.4" x2="625.32" y2="282.06" stroke="#e0b030" stroke-width="2.0"/>
<line x1="625.32" y1="282.06" x2="625.13" y2="285.72" stroke="#d81010" stroke-width="2.0"/>
<line x1="625.5" y1="278.4" x2="628.02" y2="277.81" stroke="#e0b030" stroke-width="2.0"/>
<line x1="628.02" y1="277.81" x2="630.54" y2="277.21" stroke="#d81010" stroke-width="2.0"/>
<line x1="650" y1="280.5" x2="648.07" y2="277.16" stroke="#e0b030" stroke-width="2.0"/>
<line x1="648.07" y1="277.16" x2="646.14" y2="273.81" stroke="#d81010" stroke-width="2.0"/>
<line x1="650" y1="280.5" x2="652.36" y2="280.47" stroke="#e0b030" stroke-width="2.0"/>
<line x1="652.36" y1="280.47" x2="654.72" y2="280.44" stroke="#d81010" stroke-width="2.0"/>
<line x1="650" y1="280.5" x2="647.82" y2="281.6" stroke="#e0b030" stroke-width="2.0"/>
<line x1="647.82" y1="281.6" x2="645.64" y2="282.7" stroke="#d81010" stroke-width="2.0"/>
<line x1="650" y1="280.5" x2="649.77" y2="275.73" stroke="#e0b030" stroke-width="2.0"/>
<line x1="649.77" y1="275.73" x2="649.54" y2="270.97" stroke="#d81010" stroke-width="2.0"/>
<line x1="491.7" y1="306" x2="495.64" y2="305.97" stroke="#e0b030" stroke-width="2.0"/>
<line x1="495.64" y1="305.97" x2="499.58" y2="305.95" stroke="#d81010" stroke-width="2.0"/>
<line x1="508.2" y1="308.6" x2="503.89" y2="307.27" stroke="#e0b030" stroke-width="2.0"/>
<line x1="503.89" y1="307.27" x2="499.58" y2="305.95" stroke="#d81010" stroke-width="2.0"/>
<line x1="491.7" y1="306" x2="489.92" y2="303.74" stroke="#e0b030" stroke-width="2.0"/>
<line x1="489.92" y1="303.74" x2="488.14" y2="301.49" stroke="#d81010" stroke-width="2.0"/>
<line x1="491.7" y1="306" x2="490.32" y2="307.97" stroke="#e0b030" stroke-width="2.0"/>
<line x1="490.32" y1="307.97" x2="488.93" y2="309.93" stroke="#d81010" stroke-width="2.0"/>
<line x1="491.7" y1="306" x2="491.3" y2="302.32" stroke="#e0b030" stroke-width="2.0"/>
<line x1="491.3" y1="302.32" x2="490.9" y2="298.64" stroke="#d81010" stroke-width="2.0"/>
<line x1="491.7" y1="306" x2="489.04" y2="306.23" stroke="#e0b030" stroke-width="2.0"/>
<line x1="489.04" y1="306.23" x2="486.39" y2="306.46" stroke="#d81010" stroke-width="2.0"/>
<line x1="508.2" y1="308.6" x2="510.02" y2="306" stroke="#e0b030" stroke-width="2.0"/>
<line x1="510.02" y1="306" x2="511.83" y2="303.4" stroke="#d81010" stroke-width="2.0"/>
<line x1="508.2" y1="308.6" x2="509.91" y2="310.37" stroke="#e0b030" stroke-width="2.0"/>
<line x1="509.91" y1="310.37" x2="511.62" y2="312.15" stroke="#d81010" stroke-width="2.0"/>
<line x1="508.2" y1="308.6" x2="507.89" y2="312.14" stroke="#e0b030" stroke-width="2.0"/>
<line x1="507.89" y1="312.14" x2="507.57" y2="315.69" stroke="#d81010" stroke-width="2.0"/>
<line x1="508.2" y1="308.6" x2="510.93" y2="307.99" stroke="#e0b030" stroke-width="2.0"/>
<line x1="510.93" y1="307.99" x2="513.66" y2="307.38" stroke="#d81010" stroke-width="2.0"/>
<line x1="531.7" y1="306" x2="536.03" y2="306.32" stroke="#e0b030" stroke-width="2.0"/>
<line x1="536.03" y1="306.32" x2="540.37" y2="306.63" stroke="#d81010" stroke-width="2.0"/>
<line x1="548.2" y1="308.6" x2="544.28" y2="307.62" stroke="#e0b030" stroke-width="2.0"/>
<line x1="544.28" y1="307.62" x2="540.37" y2="306.63" stroke="#d81010" stroke-width="2.0"/>
<line x1="531.7" y1="306" x2="529.6" y2="303.39" stroke="#e0b030" stroke-width="2.0"/>
<line x1="529.6" y1="303.39" x2="527.51" y2="300.79" stroke="#d81010" stroke-width="2.0"/>
<line x1="531.7" y1="306" x2="530.78" y2="308.17" stroke="#e0b030" stroke-width="2.0"/>
<line x1="530.78" y1="308.17" x2="529.86" y2="310.34" stroke="#d81010" stroke-width="2.0"/>
<line x1="531.7" y1="306" x2="531.52" y2="302.01" stroke="#e0b030" stroke-width="2.0"/>
<line x1="531.52" y1="302.01" x2="531.35" y2="298.02" stroke="#d81010" stroke-width="2.0"/>
<line x1="531.7" y1="306" x2="528.91" y2="306.58" stroke="#e0b030" stroke-width="2.0"/>
<line x1="528.91" y1="306.58" x2="526.11" y2="307.16" stroke="#d81010" stroke-width="2.0"/>
<line x1="548.2" y1="308.6" x2="549.76" y2="306.02" stroke="#e0b030" stroke-width="2.0"/>
<line x1="549.76" y1="306.02" x2="551.31" y2="303.43" stroke="#d81010" stroke-width="2.0"/>
<line x1="548.2" y1="308.6" x2="550.1" y2="310.48" stroke="#e0b030" stroke-width="2.0"/>
<line x1="550.1" y1="310.48" x2="551.99" y2="312.36" stroke="#d81010" stroke-width="2.0"/>
<line x1="548.2" y1="308.6" x2="547.81" y2="312.14" stroke="#e0b030" stroke-width="2.0"/>
<line x1="547.81" y1="312.14" x2="547.41" y2="315.68" stroke="#d81010" stroke-width="2.0"/>
<line x1="548.2" y1="308.6" x2="550.92" y2="308.51" stroke="#e0b030" stroke-width="2.0"/>
<line x1="550.92" y1="308.51" x2="553.63" y2="308.43" stroke="#d81010" stroke-width="2.0"/>
<line x1="571.7" y1="306" x2="575.58" y2="306.08" stroke="#e0b030" stroke-width="2.0"/>
<line x1="575.58" y1="306.08" x2="579.45" y2="306.15" stroke="#d81010" stroke-width="2.0"/>
<line x1="588.2" y1="308.6" x2="583.83" y2="307.38" stroke="#e0b030" stroke-width="2.0"/>
<line x1="583.83" y1="307.38" x2="579.45" y2="306.15" stroke="#d81010" stroke-width="2.0"/>
<line x1="571.7" y1="306" x2="569.4" y2="303.93" stroke="#e0b030" stroke-width="2.0"/>
<line x1="569.4" y1="303.93" x2="567.1" y2="301.86" stroke="#d81010" stroke-width="2.0"/>
<line x1="571.7" y1="306" x2="570.2" y2="307.99" stroke="#e0b030" stroke-width="2.0"/>
<line x1="570.2" y1="307.99" x2="568.7" y2="309.97" stroke="#d81010" stroke-width="2.0"/>
<line x1="571.7" y1="306" x2="570.99" y2="302.13" stroke="#e0b030" stroke-width="2.0"/>
<line x1="570.99" y1="302.13" x2="570.28" y2="298.25" stroke="#d81010" stroke-width="2.0"/>
<line x1="571.7" y1="306" x2="569.38" y2="306.67" stroke="#e0b030" stroke-width="2.0"/>
<line x1="569.38" y1="306.67" x2="567.06" y2="307.34" stroke="#d81010" stroke-width="2.0"/>
<line x1="588.2" y1="308.6" x2="590.06" y2="306.05" stroke="#e0b030" stroke-width="2.0"/>
<line x1="590.06" y1="306.05" x2="591.93" y2="303.5" stroke="#d81010" stroke-width="2.0"/>
<line x1="588.2" y1="308.6" x2="590.4" y2="310.58" stroke="#e0b030" stroke-width="2.0"/>
<line x1="590.4" y1="310.58" x2="592.6" y2="312.56" stroke="#d81010" stroke-width="2.0"/>
<line x1="588.2" y1="308.6" x2="587.78" y2="312.51" stroke="#e0b030" stroke-width="2.0"/>
<line x1="587.78" y1="312.51" x2="587.36" y2="316.41" stroke="#d81010" stroke-width="2.0"/>
<line x1="588.2" y1="308.6" x2="590.97" y2="307.87" stroke="#e0b030" stroke-width="2.0"/>
<line x1="590.97" y1="307.87" x2="593.74" y2="307.14" stroke="#d81010" stroke-width="2.0"/>
<line x1="611.7" y1="306" x2="615.94" y2="306.07" stroke="#e0b030" stroke-width="2.0"/>
<line x1="615.94" y1="306.07" x2="620.18" y2="306.13" stroke="#d81010" stroke-width="2.0"/>
<line x1="628.2" y1="308.6" x2="624.19" y2="307.37" stroke="#e0b030" stroke-width="2.0"/>
<line x1="624.19" y1="307.37" x2="620.18" y2="306.13" stroke="#d81010" stroke-width="2.0"/>
<line x1="611.7" y1="306" x2="609.51" y2="303.48" stroke="#e0b030" stroke-width="2.0"/>
<line x1="609.51" y1="303.48" x2="607.32" y2="300.96" stroke="#d81010" stroke-width="2.0"/>
<line x1="611.7" y1="306" x2="610.22" y2="307.95" stroke="#e0b030" stroke-width="2.0"/>
<line x1="610.22" y1="307.95" x2="608.74" y2="309.9" stroke="#d81010" stroke-width="2.0"/>
<line x1="611.7" y1="306" x2="611.15" y2="302.1" stroke="#e0b030" stroke-width="2.0"/>
<line x1="611.15" y1="302.1" x2="610.59" y2="298.19" stroke="#d81010" stroke-width="2.0"/>
<line x1="611.7" y1="306" x2="609.42" y2="306.14" stroke="#e0b030" stroke-width="2.0"/>
<line x1="609.42" y1="306.14" x2="607.14" y2="306.27" stroke="#d81010" stroke-width="2.0"/>
<line x1="628.2" y1="308.6" x2="630.22" y2="305.5" stroke="#e0b030" stroke-width="2.0"/>
<line x1="630.22" y1="305.5" x2="632.25" y2="302.39" stroke="#d81010" stroke-width="2.0"/>
<line x1="628.2" y1="308.6" x2="630" y2="310.93" stroke="#e0b030" stroke-width="2.0"/>
<line x1="630" y1="310.93" x2="631.8" y2="313.25" stroke="#d81010" stroke-width="2.0"/>
<line x1="628.2" y1="308.6" x2="628.23" y2="312.15" stroke="#e0b030" stroke-width="2.0"/>
<line x1="628.23" y1="312.15" x2="628.25" y2="315.71" stroke="#d81010" stroke-width="2.0"/>
<line x1="628.2" y1="308.6" x2="630.48" y2="308.18" stroke="#e0b030" stroke-width="2.0"/>
<line x1="630.48" y1="308.18" x2="632.77" y2="307.76" stroke="#d81010" stroke-width="2.0"/>
<circle cx="124.41" cy="286.73" r="2.2" fill="url(#gC)"/>
<circle cx="187.18" cy="282.77" r="2.2" fill="url(#gC)"/>
<circle cx="95.29" cy="283.26" r="2.2" fill="url(#gC)"/>
<circle cx="93.49" cy="285.02" r="2.2" fill="url(#gC)"/>
<circle cx="96.5" cy="284.01" r="2.2" fill="url(#gC)"/>
<circle cx="75.97" cy="286.96" r="2.2" fill="url(#gC)"/>
<circle cx="111.61" cy="284.25" r="2.2" fill="url(#gC)"/>
<circle cx="148.34" cy="286.93" r="2.2" fill="url(#gC)"/>
<circle cx="122.3" cy="287.01" r="2.2" fill="url(#gC)"/>
<circle cx="135.26" cy="284.69" r="2.2" fill="url(#gC)"/>
<circle cx="138.76" cy="281.61" r="2.2" fill="url(#gC)"/>
<circle cx="125.42" cy="282.6" r="2.2" fill="url(#gC)"/>
<circle cx="55.63" cy="286.3" r="2.2" fill="url(#gC)"/>
<circle cx="82.58" cy="284.34" r="2.2" fill="url(#gC)"/>
<circle cx="171.03" cy="284.84" r="2.2" fill="url(#gC)"/>
<circle cx="107.16" cy="284.61" r="2.2" fill="url(#gC)"/>
<circle cx="140.76" cy="298.03" r="2.2" fill="url(#gC)"/>
<circle cx="65.72" cy="297.02" r="2.2" fill="url(#gC)"/>
<circle cx="89.5" cy="295.75" r="2.2" fill="url(#gC)"/>
<circle cx="176.97" cy="296.78" r="2.2" fill="url(#gC)"/>
<circle cx="141.81" cy="297.92" r="2.2" fill="url(#gC)"/>
<circle cx="200.39" cy="296.49" r="2.2" fill="url(#gC)"/>
<circle cx="150.29" cy="296.77" r="2.2" fill="url(#gC)"/>
<circle cx="133.53" cy="297.62" r="2.2" fill="url(#gC)"/>
<circle cx="123.54" cy="296.9" r="2.2" fill="url(#gC)"/>
<circle cx="127.83" cy="298.74" r="2.2" fill="url(#gC)"/>
<circle cx="164.77" cy="298.44" r="2.2" fill="url(#gC)"/>
<circle cx="205.34" cy="295.67" r="2.2" fill="url(#gC)"/>
<circle cx="141.44" cy="298.74" r="2.2" fill="url(#gC)"/>
<circle cx="188.28" cy="295.12" r="2.2" fill="url(#gC)"/>
<circle cx="68.31" cy="296.49" r="2.2" fill="url(#gC)"/>
<circle cx="60.12" cy="295.58" r="2.2" fill="url(#gC)"/>
<circle cx="60.21" cy="297.51" r="2.2" fill="url(#gC)"/>
<circle cx="178.92" cy="298.54" r="2.2" fill="url(#gC)"/>
<circle cx="73.79" cy="297.72" r="2.2" fill="url(#gC)"/>
<circle cx="158.26" cy="295.14" r="2.2" fill="url(#gC)"/>
<circle cx="195.43" cy="298.85" r="2.2" fill="url(#gC)"/>
<circle cx="84.67" cy="298.79" r="2.2" fill="url(#gC)"/>
<circle cx="115.71" cy="314.92" r="2.2" fill="url(#gC)"/>
<circle cx="213.33" cy="316.99" r="2.2" fill="url(#gC)"/>
<circle cx="76.64" cy="314.59" r="2.2" fill="url(#gC)"/>
<circle cx="135.07" cy="314.03" r="2.2" fill="url(#gC)"/>
<circle cx="82.3" cy="313.91" r="2.2" fill="url(#gC)"/>
<circle cx="169.15" cy="312.12" r="2.2" fill="url(#gC)"/>
<circle cx="141.42" cy="314.64" r="2.2" fill="url(#gC)"/>
<circle cx="52.98" cy="313.99" r="2.2" fill="url(#gC)"/>
<circle cx="152.95" cy="315.07" r="2.2" fill="url(#gC)"/>
<circle cx="60.61" cy="317.91" r="2.2" fill="url(#gC)"/>
<circle cx="180.08" cy="317.83" r="2.2" fill="url(#gC)"/>
<circle cx="67.29" cy="313.59" r="2.2" fill="url(#gC)"/>
<circle cx="61.33" cy="269.23" r="2.2" fill="url(#gW)"/>
<circle cx="98.27" cy="264.04" r="2.2" fill="url(#gW)"/>
<circle cx="122.56" cy="270.29" r="2.2" fill="url(#gW)"/>
<circle cx="186.04" cy="265.07" r="2.2" fill="url(#gW)"/>
<circle cx="78.9" cy="270.35" r="2.2" fill="url(#gW)"/>
<circle cx="146.3" cy="268.6" r="2.2" fill="url(#gW)"/>
<circle cx="69.31" cy="263.46" r="2.2" fill="url(#gW)"/>
<circle cx="165.11" cy="266.4" r="2.2" fill="url(#gW)"/>
<circle cx="66.59" cy="270.51" r="2.2" fill="url(#gW)"/>
<circle cx="154.68" cy="310.81" r="2.2" fill="url(#gW)"/>
<circle cx="63.82" cy="311.14" r="2.2" fill="url(#gW)"/>
<circle cx="60.99" cy="311.18" r="2.2" fill="url(#gW)"/>
<circle cx="124.87" cy="308.03" r="2.2" fill="url(#gW)"/>
<circle cx="141.26" cy="311.56" r="2.2" fill="url(#gW)"/>
<circle cx="100.18" cy="263.9" r="2.3" fill="url(#gR)"/>
<circle cx="139.04" cy="264.67" r="2.3" fill="url(#gR)"/>
<circle cx="76.42" cy="264.13" r="2.3" fill="url(#gR)"/>
<circle cx="67.56" cy="310.01" r="2.3" fill="url(#gR)"/>
<circle cx="106.8" cy="310.53" r="2.3" fill="url(#gR)"/>
<circle cx="173.92" cy="310.45" r="2.3" fill="url(#gR)"/>
<circle cx="349.38" cy="289.32" r="2.2" fill="url(#gC)"/>
<circle cx="298.22" cy="289.78" r="2.2" fill="url(#gC)"/>
<circle cx="327.15" cy="295.24" r="2.2" fill="url(#gC)"/>
<circle cx="275.29" cy="294.26" r="2.2" fill="url(#gC)"/>
<circle cx="413.45" cy="287.32" r="2.2" fill="url(#gC)"/>
<circle cx="427.86" cy="293.84" r="2.2" fill="url(#gC)"/>
<circle cx="423.76" cy="289.19" r="2.2" fill="url(#gC)"/>
<circle cx="336.42" cy="290.32" r="2.2" fill="url(#gC)"/>
<circle cx="439.8" cy="292.48" r="2.2" fill="url(#gC)"/>
<circle cx="331.32" cy="303" r="2.2" fill="url(#gC)"/>
<circle cx="316.78" cy="300.34" r="2.2" fill="url(#gC)"/>
<circle cx="287.29" cy="305.84" r="2.2" fill="url(#gC)"/>
<circle cx="318.56" cy="306.55" r="2.2" fill="url(#gC)"/>
<circle cx="312.39" cy="301.86" r="2.2" fill="url(#gC)"/>
<circle cx="356.86" cy="301.33" r="2.2" fill="url(#gC)"/>
<circle cx="333.47" cy="306.69" r="2.2" fill="url(#gC)"/>
<circle cx="420.33" cy="305.68" r="2.2" fill="url(#gC)"/>
<circle cx="377.25" cy="306.39" r="2.2" fill="url(#gC)"/>
<circle cx="429.92" cy="303.84" r="2.2" fill="url(#gC)"/>
<circle cx="392.33" cy="300.35" r="2.2" fill="url(#gC)"/>
<circle cx="394.5" cy="303.16" r="2.2" fill="url(#gC)"/>
<circle cx="397.95" cy="304.51" r="2.2" fill="url(#gC)"/>
<circle cx="318.66" cy="300.34" r="2.2" fill="url(#gC)"/>
<circle cx="427.55" cy="300.89" r="2.2" fill="url(#gC)"/>
<circle cx="350.27" cy="302.41" r="2.2" fill="url(#gC)"/>
<circle cx="327.64" cy="294.43" r="2.2" fill="url(#gW)"/>
<circle cx="436.21" cy="291.56" r="2.2" fill="url(#gW)"/>
<circle cx="384.96" cy="291.81" r="2.2" fill="url(#gW)"/>
<circle cx="369.17" cy="308.37" r="2.2" fill="url(#gW)"/>
<circle cx="306.77" cy="306.97" r="2.2" fill="url(#gW)"/>
<circle cx="313.26" cy="311.44" r="2.2" fill="url(#gW)"/>
<circle cx="359.53" cy="307.32" r="2.2" fill="url(#gW)"/>
<circle cx="545.83" cy="296.2" r="2.2" fill="url(#gC)"/>
<circle cx="513.13" cy="290.64" r="2.2" fill="url(#gC)"/>
<circle cx="641.25" cy="287.3" r="2.2" fill="url(#gC)"/>
<circle cx="552.77" cy="295.12" r="2.2" fill="url(#gC)"/>
<circle cx="617.53" cy="287.41" r="2.2" fill="url(#gC)"/>
<circle cx="484.34" cy="287.63" r="2.2" fill="url(#gC)"/>
<circle cx="645.45" cy="289.57" r="2.2" fill="url(#gC)"/>
<circle cx="614.01" cy="295.99" r="2.2" fill="url(#gC)"/>
<circle cx="539.71" cy="289.72" r="2.2" fill="url(#gC)"/>
<circle cx="652.3" cy="293.17" r="2.2" fill="url(#gC)"/>
<circle cx="525.72" cy="294.17" r="2.2" fill="url(#gC)"/>
<circle cx="535.6" cy="289.76" r="2.2" fill="url(#gC)"/>
<circle cx="478.69" cy="294.56" r="2.2" fill="url(#gC)"/>
<circle cx="644.8" cy="293.34" r="2.2" fill="url(#gC)"/>
<circle cx="649.67" cy="287.24" r="2.2" fill="url(#gC)"/>
<circle cx="520.56" cy="291.75" r="2.2" fill="url(#gC)"/>
<circle cx="652.13" cy="296.54" r="2.2" fill="url(#gC)"/>
<circle cx="548.35" cy="289.51" r="2.2" fill="url(#gC)"/>
<circle cx="556.25" cy="313.95" r="2.2" fill="url(#gC)"/>
<circle cx="646.91" cy="311.46" r="2.2" fill="url(#gC)"/>
<circle cx="624.07" cy="315.91" r="2.2" fill="url(#gC)"/>
<circle cx="627.74" cy="316.18" r="2.2" fill="url(#gC)"/>
<circle cx="588.52" cy="312.62" r="2.2" fill="url(#gC)"/>
<circle cx="536.16" cy="312.89" r="2.2" fill="url(#gC)"/>
<circle cx="620.37" cy="310.63" r="2.2" fill="url(#gC)"/>
<circle cx="513.91" cy="316.02" r="2.2" fill="url(#gC)"/>
<circle cx="523.01" cy="310.52" r="2.2" fill="url(#gC)"/>
<circle cx="484.16" cy="314.42" r="2.2" fill="url(#gC)"/>
<circle cx="537.29" cy="317.84" r="2.2" fill="url(#gC)"/>
<circle cx="638.79" cy="317.9" r="2.2" fill="url(#gC)"/>
<circle cx="542.38" cy="272.59" r="2.2" fill="url(#gC)"/>
<circle cx="515.43" cy="275.49" r="2.2" fill="url(#gC)"/>
<circle cx="613.56" cy="275.13" r="2.2" fill="url(#gC)"/>
<circle cx="537.47" cy="274.92" r="2.2" fill="url(#gC)"/>
<circle cx="590.14" cy="288.39" r="2.2" fill="url(#gW)"/>
<circle cx="613.63" cy="289.78" r="2.2" fill="url(#gW)"/>
<circle cx="598.25" cy="283.97" r="2.2" fill="url(#gW)"/>
<circle cx="630.72" cy="285.35" r="2.2" fill="url(#gW)"/>
<circle cx="580.31" cy="285.98" r="2.2" fill="url(#gW)"/>
<circle cx="611.8" cy="284.59" r="2.2" fill="url(#gW)"/>
<circle cx="521.53" cy="284.96" r="2.2" fill="url(#gW)"/>
<circle cx="504.21" cy="290.07" r="2.2" fill="url(#gW)"/>
<circle cx="582.4" cy="285.61" r="2.2" fill="url(#gW)"/>
<circle cx="548.88" cy="301.97" r="2.2" fill="url(#gW)"/>
<circle cx="569.35" cy="298.93" r="2.2" fill="url(#gW)"/>
<circle cx="624.75" cy="300.61" r="2.2" fill="url(#gW)"/>
<circle cx="653.42" cy="283.72" r="2.3" fill="url(#gR)"/>
<circle cx="563.08" cy="288.73" r="2.3" fill="url(#gR)"/>
<circle cx="627.1" cy="289.4" r="2.3" fill="url(#gR)"/>
<circle cx="487.06" cy="285.06" r="2.3" fill="url(#gR)"/>
<circle cx="500.86" cy="284.33" r="2.3" fill="url(#gR)"/>
<circle cx="650.27" cy="287.08" r="2.3" fill="url(#gR)"/>
<circle cx="642.78" cy="283.98" r="2.2" fill="url(#gW)"/>
<circle cx="631.57" cy="284.59" r="2.2" fill="url(#gW)"/>
<circle cx="525.49" cy="287.22" r="2.2" fill="url(#gW)"/>
<circle cx="645.5" cy="281.85" r="2.2" fill="url(#gW)"/>
<circle cx="584.33" cy="285.96" r="2.2" fill="url(#gW)"/>
<circle cx="520.91" cy="315.84" r="2.3" fill="url(#gR)"/>
<circle cx="508.33" cy="315.02" r="2.3" fill="url(#gR)"/>
<circle cx="527.06" cy="317" r="2.3" fill="url(#gR)"/>
<circle cx="592.52" cy="315.02" r="2.3" fill="url(#gR)"/>
<circle cx="58.79" cy="282.28" r="2.3" fill="url(#gR)"/>
<circle cx="58.77" cy="285.03" r="2.3" fill="url(#gR)"/>
<circle cx="60.78" cy="288.75" r="2.3" fill="url(#gR)"/>
<circle cx="63.21" cy="273.48" r="2.3" fill="url(#gR)"/>
<circle cx="69.52" cy="276.75" r="2.3" fill="url(#gR)"/>
<circle cx="77.6" cy="281.36" r="2.3" fill="url(#gR)"/>
<circle cx="77.6" cy="284.82" r="2.3" fill="url(#gR)"/>
<circle cx="74.33" cy="273.6" r="2.3" fill="url(#gR)"/>
<circle cx="81.56" cy="273.57" r="2.3" fill="url(#gR)"/>
<circle cx="85.2" cy="270.55" r="2.3" fill="url(#gR)"/>
<circle cx="89.07" cy="257.89" r="2.3" fill="url(#gR)"/>
<circle cx="93.3" cy="270.56" r="2.3" fill="url(#gR)"/>
<circle cx="97.19" cy="273.68" r="2.3" fill="url(#gR)"/>
<circle cx="99.94" cy="281.85" r="2.3" fill="url(#gR)"/>
<circle cx="100.53" cy="285.05" r="2.3" fill="url(#gR)"/>
<circle cx="102.31" cy="288.31" r="2.3" fill="url(#gR)"/>
<circle cx="104.04" cy="273.63" r="2.3" fill="url(#gR)"/>
<circle cx="110.19" cy="277.99" r="2.3" fill="url(#gR)"/>
<circle cx="118.72" cy="281.6" r="2.3" fill="url(#gR)"/>
<circle cx="120.07" cy="285.06" r="2.3" fill="url(#gR)"/>
<circle cx="115.79" cy="273.75" r="2.3" fill="url(#gR)"/>
<circle cx="122.83" cy="273.64" r="2.3" fill="url(#gR)"/>
<circle cx="126.02" cy="270.88" r="2.3" fill="url(#gR)"/>
<circle cx="130.67" cy="258.6" r="2.3" fill="url(#gR)"/>
<circle cx="135.26" cy="270.5" r="2.3" fill="url(#gR)"/>
<circle cx="138.5" cy="273.57" r="2.3" fill="url(#gR)"/>
<circle cx="141.61" cy="281.29" r="2.3" fill="url(#gR)"/>
<circle cx="142.38" cy="285.57" r="2.3" fill="url(#gR)"/>
<circle cx="143.16" cy="287.88" r="2.3" fill="url(#gR)"/>
<circle cx="145.08" cy="273.43" r="2.3" fill="url(#gR)"/>
<circle cx="151.66" cy="278.02" r="2.3" fill="url(#gR)"/>
<circle cx="160.15" cy="281.7" r="2.3" fill="url(#gR)"/>
<circle cx="160.54" cy="285.94" r="2.3" fill="url(#gR)"/>
<circle cx="156.53" cy="273.45" r="2.3" fill="url(#gR)"/>
<circle cx="164.15" cy="273.42" r="2.3" fill="url(#gR)"/>
<circle cx="167.34" cy="271" r="2.3" fill="url(#gR)"/>
<circle cx="171.08" cy="258.15" r="2.3" fill="url(#gR)"/>
<circle cx="176.17" cy="270.94" r="2.3" fill="url(#gR)"/>
<circle cx="179.31" cy="273.44" r="2.3" fill="url(#gR)"/>
<circle cx="182.87" cy="281.87" r="2.3" fill="url(#gR)"/>
<circle cx="183.65" cy="285.44" r="2.3" fill="url(#gR)"/>
<circle cx="184.19" cy="287.51" r="2.3" fill="url(#gR)"/>
<circle cx="186.8" cy="273.67" r="2.3" fill="url(#gR)"/>
<circle cx="193.39" cy="276.8" r="2.3" fill="url(#gR)"/>
<circle cx="200.55" cy="281.57" r="2.3" fill="url(#gR)"/>
<circle cx="201.63" cy="285.63" r="2.3" fill="url(#gR)"/>
<circle cx="198.62" cy="273.11" r="2.3" fill="url(#gR)"/>
<circle cx="205.32" cy="273.62" r="2.3" fill="url(#gR)"/>
<circle cx="208.88" cy="270.81" r="2.3" fill="url(#gR)"/>
<circle cx="213.53" cy="258.77" r="2.3" fill="url(#gR)"/>
<circle cx="218.22" cy="267.16" r="2.3" fill="url(#gR)"/>
<circle cx="54.35" cy="276" r="2.3" fill="url(#gR)"/>
<circle cx="57.08" cy="320.97" r="2.3" fill="url(#gR)"/>
<circle cx="61.2" cy="309.15" r="2.3" fill="url(#gR)"/>
<circle cx="64.39" cy="306.46" r="2.3" fill="url(#gR)"/>
<circle cx="66.84" cy="299.22" r="2.3" fill="url(#gR)"/>
<circle cx="68.06" cy="294.61" r="2.3" fill="url(#gR)"/>
<circle cx="68.85" cy="292.19" r="2.3" fill="url(#gR)"/>
<circle cx="71.51" cy="306.37" r="2.3" fill="url(#gR)"/>
<circle cx="79.29" cy="303.56" r="2.3" fill="url(#gR)"/>
<circle cx="88.35" cy="298.32" r="2.3" fill="url(#gR)"/>
<circle cx="88.82" cy="294.08" r="2.3" fill="url(#gR)"/>
<circle cx="85.68" cy="306.51" r="2.3" fill="url(#gR)"/>
<circle cx="92.94" cy="306.26" r="2.3" fill="url(#gR)"/>
<circle cx="95.24" cy="309.77" r="2.3" fill="url(#gR)"/>
<circle cx="99.14" cy="321.11" r="2.3" fill="url(#gR)"/>
<circle cx="103.43" cy="308.91" r="2.3" fill="url(#gR)"/>
<circle cx="106.53" cy="306.71" r="2.3" fill="url(#gR)"/>
<circle cx="109.81" cy="298.59" r="2.3" fill="url(#gR)"/>
<circle cx="109.37" cy="294.53" r="2.3" fill="url(#gR)"/>
<circle cx="110.53" cy="292.39" r="2.3" fill="url(#gR)"/>
<circle cx="113.55" cy="306.9" r="2.3" fill="url(#gR)"/>
<circle cx="120.36" cy="302.13" r="2.3" fill="url(#gR)"/>
<circle cx="130.64" cy="298.7" r="2.3" fill="url(#gR)"/>
<circle cx="131.69" cy="294.75" r="2.3" fill="url(#gR)"/>
<circle cx="128.15" cy="306.86" r="2.3" fill="url(#gR)"/>
<circle cx="134.26" cy="306.34" r="2.3" fill="url(#gR)"/>
<circle cx="137.3" cy="308.91" r="2.3" fill="url(#gR)"/>
<circle cx="140.24" cy="321.29" r="2.3" fill="url(#gR)"/>
<circle cx="145" cy="309.36" r="2.3" fill="url(#gR)"/>
<circle cx="148.67" cy="306.13" r="2.3" fill="url(#gR)"/>
<circle cx="151.71" cy="298.77" r="2.3" fill="url(#gR)"/>
<circle cx="152.14" cy="294.29" r="2.3" fill="url(#gR)"/>
<circle cx="152.41" cy="291.4" r="2.3" fill="url(#gR)"/>
<circle cx="154.88" cy="305.87" r="2.3" fill="url(#gR)"/>
<circle cx="162.57" cy="303.06" r="2.3" fill="url(#gR)"/>
<circle cx="172.48" cy="298.18" r="2.3" fill="url(#gR)"/>
<circle cx="173.21" cy="294.93" r="2.3" fill="url(#gR)"/>
<circle cx="168.92" cy="306.93" r="2.3" fill="url(#gR)"/>
<circle cx="176.61" cy="306.67" r="2.3" fill="url(#gR)"/>
<circle cx="179.42" cy="309.34" r="2.3" fill="url(#gR)"/>
<circle cx="182.25" cy="322" r="2.3" fill="url(#gR)"/>
<circle cx="186.86" cy="309.43" r="2.3" fill="url(#gR)"/>
<circle cx="190.48" cy="306.07" r="2.3" fill="url(#gR)"/>
<circle cx="192.76" cy="298.68" r="2.3" fill="url(#gR)"/>
<circle cx="193.61" cy="293.99" r="2.3" fill="url(#gR)"/>
<circle cx="194.08" cy="291.26" r="2.3" fill="url(#gR)"/>
<circle cx="197.67" cy="306.68" r="2.3" fill="url(#gR)"/>
<circle cx="203.7" cy="302.71" r="2.3" fill="url(#gR)"/>
<circle cx="214.47" cy="297.97" r="2.3" fill="url(#gR)"/>
<circle cx="214.59" cy="294.12" r="2.3" fill="url(#gR)"/>
<circle cx="210.78" cy="305.57" r="2.3" fill="url(#gR)"/>
<circle cx="219.96" cy="302.46" r="2.3" fill="url(#gR)"/>
<circle cx="51.64" cy="312.71" r="2.3" fill="url(#gR)"/>
<circle cx="286.45" cy="291.98" r="2.3" fill="url(#gR)"/>
<circle cx="286.39" cy="296.15" r="2.3" fill="url(#gR)"/>
<circle cx="287.55" cy="298.39" r="2.3" fill="url(#gR)"/>
<circle cx="290.46" cy="284.55" r="2.3" fill="url(#gR)"/>
<circle cx="296.03" cy="288.21" r="2.3" fill="url(#gR)"/>
<circle cx="305.09" cy="292.3" r="2.3" fill="url(#gR)"/>
<circle cx="305.67" cy="295.6" r="2.3" fill="url(#gR)"/>
<circle cx="301.68" cy="283.1" r="2.3" fill="url(#gR)"/>
<circle cx="308.74" cy="284.17" r="2.3" fill="url(#gR)"/>
<circle cx="311.82" cy="280.87" r="2.3" fill="url(#gR)"/>
<circle cx="314.92" cy="269.48" r="2.3" fill="url(#gR)"/>
<circle cx="321.71" cy="281.34" r="2.3" fill="url(#gR)"/>
<circle cx="325.61" cy="283.89" r="2.3" fill="url(#gR)"/>
<circle cx="329.91" cy="291.94" r="2.3" fill="url(#gR)"/>
<circle cx="330.12" cy="295.52" r="2.3" fill="url(#gR)"/>
<circle cx="331.57" cy="298.95" r="2.3" fill="url(#gR)"/>
<circle cx="335.06" cy="283.87" r="2.3" fill="url(#gR)"/>
<circle cx="340.09" cy="288.36" r="2.3" fill="url(#gR)"/>
<circle cx="348.73" cy="291.91" r="2.3" fill="url(#gR)"/>
<circle cx="349.3" cy="295.65" r="2.3" fill="url(#gR)"/>
<circle cx="346.46" cy="283.62" r="2.3" fill="url(#gR)"/>
<circle cx="353.04" cy="283.98" r="2.3" fill="url(#gR)"/>
<circle cx="355.82" cy="280.95" r="2.3" fill="url(#gR)"/>
<circle cx="359.13" cy="268.86" r="2.3" fill="url(#gR)"/>
<circle cx="365.25" cy="280.97" r="2.3" fill="url(#gR)"/>
<circle cx="369.83" cy="284.13" r="2.3" fill="url(#gR)"/>
<circle cx="374.52" cy="292.43" r="2.3" fill="url(#gR)"/>
<circle cx="375.15" cy="296.21" r="2.3" fill="url(#gR)"/>
<circle cx="376.4" cy="299.22" r="2.3" fill="url(#gR)"/>
<circle cx="378.45" cy="283.94" r="2.3" fill="url(#gR)"/>
<circle cx="385.33" cy="287.62" r="2.3" fill="url(#gR)"/>
<circle cx="393.51" cy="292.74" r="2.3" fill="url(#gR)"/>
<circle cx="393.56" cy="296.71" r="2.3" fill="url(#gR)"/>
<circle cx="391.25" cy="284.22" r="2.3" fill="url(#gR)"/>
<circle cx="397.67" cy="284.5" r="2.3" fill="url(#gR)"/>
<circle cx="400.13" cy="281.31" r="2.3" fill="url(#gR)"/>
<circle cx="403.91" cy="269.47" r="2.3" fill="url(#gR)"/>
<circle cx="410.06" cy="281.45" r="2.3" fill="url(#gR)"/>
<circle cx="414.25" cy="284.38" r="2.3" fill="url(#gR)"/>
<circle cx="418.86" cy="292.22" r="2.3" fill="url(#gR)"/>
<circle cx="418.62" cy="294.9" r="2.3" fill="url(#gR)"/>
<circle cx="419.79" cy="298.06" r="2.3" fill="url(#gR)"/>
<circle cx="422.25" cy="284.22" r="2.3" fill="url(#gR)"/>
<circle cx="428.93" cy="288.04" r="2.3" fill="url(#gR)"/>
<circle cx="437.58" cy="292.73" r="2.3" fill="url(#gR)"/>
<circle cx="438.39" cy="295.48" r="2.3" fill="url(#gR)"/>
<circle cx="435.32" cy="284.33" r="2.3" fill="url(#gR)"/>
<circle cx="442.9" cy="288.03" r="2.3" fill="url(#gR)"/>
<circle cx="281.42" cy="286.27" r="2.3" fill="url(#gR)"/>
<circle cx="269.71" cy="306.62" r="2.3" fill="url(#gR)"/>
<circle cx="269.63" cy="316.64" r="2.3" fill="url(#gR)"/>
<circle cx="279.21" cy="303.79" r="2.3" fill="url(#gR)"/>
<circle cx="283.31" cy="313.6" r="2.3" fill="url(#gR)"/>
<circle cx="293.16" cy="307.83" r="2.3" fill="url(#gR)"/>
<circle cx="292.56" cy="320.66" r="2.3" fill="url(#gR)"/>
<circle cx="299.61" cy="315.8" r="2.3" fill="url(#gR)"/>
<circle cx="307.83" cy="314.8" r="2.3" fill="url(#gR)"/>
<circle cx="312.69" cy="305.94" r="2.3" fill="url(#gR)"/>
<circle cx="312.44" cy="315.54" r="2.3" fill="url(#gR)"/>
<circle cx="320.23" cy="303.39" r="2.3" fill="url(#gR)"/>
<circle cx="326.21" cy="313.93" r="2.3" fill="url(#gR)"/>
<circle cx="335.85" cy="307.31" r="2.3" fill="url(#gR)"/>
<circle cx="335.12" cy="320.55" r="2.3" fill="url(#gR)"/>
<circle cx="342.31" cy="315.8" r="2.3" fill="url(#gR)"/>
<circle cx="350.53" cy="314.8" r="2.3" fill="url(#gR)"/>
<circle cx="354.86" cy="306.86" r="2.3" fill="url(#gR)"/>
<circle cx="355.89" cy="315.52" r="2.3" fill="url(#gR)"/>
<circle cx="363.72" cy="304.14" r="2.3" fill="url(#gR)"/>
<circle cx="369.45" cy="313.83" r="2.3" fill="url(#gR)"/>
<circle cx="377.98" cy="307.71" r="2.3" fill="url(#gR)"/>
<circle cx="378.42" cy="320.71" r="2.3" fill="url(#gR)"/>
<circle cx="385.01" cy="315.8" r="2.3" fill="url(#gR)"/>
<circle cx="393.23" cy="314.8" r="2.3" fill="url(#gR)"/>
<circle cx="398.68" cy="305.7" r="2.3" fill="url(#gR)"/>
<circle cx="398.5" cy="316.23" r="2.3" fill="url(#gR)"/>
<circle cx="407.09" cy="304" r="2.3" fill="url(#gR)"/>
<circle cx="411.15" cy="314.32" r="2.3" fill="url(#gR)"/>
<circle cx="420.98" cy="307.15" r="2.3" fill="url(#gR)"/>
<circle cx="419.81" cy="320.81" r="2.3" fill="url(#gR)"/>
<circle cx="497.82" cy="276.8" r="2.3" fill="url(#gR)"/>
<circle cx="484.73" cy="270.5" r="2.3" fill="url(#gR)"/>
<circle cx="486.07" cy="279.83" r="2.3" fill="url(#gR)"/>
<circle cx="487.98" cy="267.63" r="2.3" fill="url(#gR)"/>
<circle cx="483.43" cy="276.26" r="2.3" fill="url(#gR)"/>
<circle cx="509" cy="273.14" r="2.3" fill="url(#gR)"/>
<circle cx="509.65" cy="282.48" r="2.3" fill="url(#gR)"/>
<circle cx="504.98" cy="285.63" r="2.3" fill="url(#gR)"/>
<circle cx="510.53" cy="277.37" r="2.3" fill="url(#gR)"/>
<circle cx="536.64" cy="275.79" r="2.3" fill="url(#gR)"/>
<circle cx="525.45" cy="270.48" r="2.3" fill="url(#gR)"/>
<circle cx="526.5" cy="280.58" r="2.3" fill="url(#gR)"/>
<circle cx="528.71" cy="267.8" r="2.3" fill="url(#gR)"/>
<circle cx="523.48" cy="276.25" r="2.3" fill="url(#gR)"/>
<circle cx="548.76" cy="272.52" r="2.3" fill="url(#gR)"/>
<circle cx="549.94" cy="283.09" r="2.3" fill="url(#gR)"/>
<circle cx="545.62" cy="284.93" r="2.3" fill="url(#gR)"/>
<circle cx="550.05" cy="277.89" r="2.3" fill="url(#gR)"/>
<circle cx="577.8" cy="276.06" r="2.3" fill="url(#gR)"/>
<circle cx="564.92" cy="270.3" r="2.3" fill="url(#gR)"/>
<circle cx="566.35" cy="281" r="2.3" fill="url(#gR)"/>
<circle cx="568.66" cy="268.7" r="2.3" fill="url(#gR)"/>
<circle cx="564.46" cy="276.25" r="2.3" fill="url(#gR)"/>
<circle cx="588.35" cy="272.12" r="2.3" fill="url(#gR)"/>
<circle cx="589.33" cy="282.85" r="2.3" fill="url(#gR)"/>
<circle cx="585.72" cy="285.91" r="2.3" fill="url(#gR)"/>
<circle cx="590.91" cy="277.97" r="2.3" fill="url(#gR)"/>
<circle cx="617.19" cy="276.17" r="2.3" fill="url(#gR)"/>
<circle cx="604.16" cy="271.4" r="2.3" fill="url(#gR)"/>
<circle cx="606.13" cy="280.99" r="2.3" fill="url(#gR)"/>
<circle cx="608.4" cy="267.93" r="2.3" fill="url(#gR)"/>
<circle cx="603.28" cy="276.25" r="2.3" fill="url(#gR)"/>
<circle cx="629.09" cy="272.88" r="2.3" fill="url(#gR)"/>
<circle cx="628.76" cy="282" r="2.3" fill="url(#gR)"/>
<circle cx="625.13" cy="285.72" r="2.3" fill="url(#gR)"/>
<circle cx="630.54" cy="277.21" r="2.3" fill="url(#gR)"/>
<circle cx="646.14" cy="273.81" r="2.3" fill="url(#gR)"/>
<circle cx="654.72" cy="280.44" r="2.3" fill="url(#gR)"/>
<circle cx="645.64" cy="282.7" r="2.3" fill="url(#gR)"/>
<circle cx="649.54" cy="270.97" r="2.3" fill="url(#gR)"/>
<circle cx="499.58" cy="305.95" r="2.3" fill="url(#gR)"/>
<circle cx="488.14" cy="301.49" r="2.3" fill="url(#gR)"/>
<circle cx="488.93" cy="309.93" r="2.3" fill="url(#gR)"/>
<circle cx="490.9" cy="298.64" r="2.3" fill="url(#gR)"/>
<circle cx="486.39" cy="306.46" r="2.3" fill="url(#gR)"/>
<circle cx="511.83" cy="303.4" r="2.3" fill="url(#gR)"/>
<circle cx="511.62" cy="312.15" r="2.3" fill="url(#gR)"/>
<circle cx="507.57" cy="315.69" r="2.3" fill="url(#gR)"/>
<circle cx="513.66" cy="307.38" r="2.3" fill="url(#gR)"/>
<circle cx="540.37" cy="306.63" r="2.3" fill="url(#gR)"/>
<circle cx="527.51" cy="300.79" r="2.3" fill="url(#gR)"/>
<circle cx="529.86" cy="310.34" r="2.3" fill="url(#gR)"/>
<circle cx="531.35" cy="298.02" r="2.3" fill="url(#gR)"/>
<circle cx="526.11" cy="307.16" r="2.3" fill="url(#gR)"/>
<circle cx="551.31" cy="303.43" r="2.3" fill="url(#gR)"/>
<circle cx="551.99" cy="312.36" r="2.3" fill="url(#gR)"/>
<circle cx="547.41" cy="315.68" r="2.3" fill="url(#gR)"/>
<circle cx="553.63" cy="308.43" r="2.3" fill="url(#gR)"/>
<circle cx="579.45" cy="306.15" r="2.3" fill="url(#gR)"/>
<circle cx="567.1" cy="301.86" r="2.3" fill="url(#gR)"/>
<circle cx="568.7" cy="309.97" r="2.3" fill="url(#gR)"/>
<circle cx="570.28" cy="298.25" r="2.3" fill="url(#gR)"/>
<circle cx="567.06" cy="307.34" r="2.3" fill="url(#gR)"/>
<circle cx="591.93" cy="303.5" r="2.3" fill="url(#gR)"/>
<circle cx="592.6" cy="312.56" r="2.3" fill="url(#gR)"/>
<circle cx="587.36" cy="316.41" r="2.3" fill="url(#gR)"/>
<circle cx="593.74" cy="307.14" r="2.3" fill="url(#gR)"/>
<circle cx="620.18" cy="306.13" r="2.3" fill="url(#gR)"/>
<circle cx="607.32" cy="300.96" r="2.3" fill="url(#gR)"/>
<circle cx="608.74" cy="309.9" r="2.3" fill="url(#gR)"/>
<circle cx="610.59" cy="298.19" r="2.3" fill="url(#gR)"/>
<circle cx="607.14" cy="306.27" r="2.3" fill="url(#gR)"/>
<circle cx="632.25" cy="302.39" r="2.3" fill="url(#gR)"/>
<circle cx="631.8" cy="313.25" r="2.3" fill="url(#gR)"/>
<circle cx="628.25" cy="315.71" r="2.3" fill="url(#gR)"/>
<circle cx="632.77" cy="307.76" r="2.3" fill="url(#gR)"/>
<circle cx="60.1" cy="277.62" r="2.1" fill="url(#gY)"/>
<circle cx="77.6" cy="277.16" r="2.1" fill="url(#gY)"/>
<circle cx="89.3" cy="267" r="2.1" fill="url(#gY)"/>
<circle cx="101.4" cy="277.53" r="2.1" fill="url(#gY)"/>
<circle cx="118.9" cy="277.39" r="2.1" fill="url(#gY)"/>
<circle cx="130.6" cy="267" r="2.1" fill="url(#gY)"/>
<circle cx="142.7" cy="277.15" r="2.1" fill="url(#gY)"/>
<circle cx="160.2" cy="277.51" r="2.1" fill="url(#gY)"/>
<circle cx="171.9" cy="267" r="2.1" fill="url(#gY)"/>
<circle cx="184" cy="277.13" r="2.1" fill="url(#gY)"/>
<circle cx="201.5" cy="277.45" r="2.1" fill="url(#gY)"/>
<circle cx="213.2" cy="267" r="2.1" fill="url(#gY)"/>
<circle cx="57.6" cy="313.1" r="2.1" fill="url(#gY)"/>
<circle cx="68.7" cy="302.9" r="2.1" fill="url(#gY)"/>
<circle cx="88.9" cy="302.84" r="2.1" fill="url(#gY)"/>
<circle cx="99.4" cy="313.1" r="2.1" fill="url(#gY)"/>
<circle cx="110.5" cy="302.51" r="2.1" fill="url(#gY)"/>
<circle cx="130.7" cy="302.52" r="2.1" fill="url(#gY)"/>
<circle cx="141.2" cy="313.1" r="2.1" fill="url(#gY)"/>
<circle cx="152.3" cy="302.28" r="2.1" fill="url(#gY)"/>
<circle cx="172.5" cy="302.71" r="2.1" fill="url(#gY)"/>
<circle cx="183" cy="313.1" r="2.1" fill="url(#gY)"/>
<circle cx="194.1" cy="302.25" r="2.1" fill="url(#gY)"/>
<circle cx="214.3" cy="302.25" r="2.1" fill="url(#gY)"/>
<circle cx="287.2" cy="287.88" r="2.1" fill="url(#gY)"/>
<circle cx="305.3" cy="287.61" r="2.1" fill="url(#gY)"/>
<circle cx="315.8" cy="277.5" r="2.1" fill="url(#gY)"/>
<circle cx="331.4" cy="287.8" r="2.1" fill="url(#gY)"/>
<circle cx="349.5" cy="287.61" r="2.1" fill="url(#gY)"/>
<circle cx="360" cy="277.5" r="2.1" fill="url(#gY)"/>
<circle cx="375.6" cy="288.19" r="2.1" fill="url(#gY)"/>
<circle cx="393.7" cy="288.04" r="2.1" fill="url(#gY)"/>
<circle cx="404.2" cy="277.5" r="2.1" fill="url(#gY)"/>
<circle cx="419.8" cy="287.75" r="2.1" fill="url(#gY)"/>
<circle cx="437.9" cy="287.98" r="2.1" fill="url(#gY)"/>
<circle cx="275.04" cy="310.3" r="2.1" fill="url(#gY)"/>
<circle cx="291.9" cy="315.96" r="2.1" fill="url(#gY)"/>
<circle cx="317.35" cy="310.22" r="2.1" fill="url(#gY)"/>
<circle cx="334.6" cy="316.1" r="2.1" fill="url(#gY)"/>
<circle cx="360.28" cy="310.19" r="2.1" fill="url(#gY)"/>
<circle cx="377.3" cy="316.61" r="2.1" fill="url(#gY)"/>
<circle cx="403.05" cy="310.21" r="2.1" fill="url(#gY)"/>
<circle cx="420" cy="316.32" r="2.1" fill="url(#gY)"/>
<circle cx="489" cy="275.8" r="2.1" fill="url(#gY)"/>
<circle cx="505.5" cy="278.4" r="2.1" fill="url(#gY)"/>
<circle cx="529" cy="275.8" r="2.1" fill="url(#gY)"/>
<circle cx="545.5" cy="278.4" r="2.1" fill="url(#gY)"/>
<circle cx="569" cy="275.8" r="2.1" fill="url(#gY)"/>
<circle cx="585.5" cy="278.4" r="2.1" fill="url(#gY)"/>
<circle cx="609" cy="275.8" r="2.1" fill="url(#gY)"/>
<circle cx="625.5" cy="278.4" r="2.1" fill="url(#gY)"/>
<circle cx="650" cy="280.5" r="2.1" fill="url(#gY)"/>
<circle cx="491.7" cy="306" r="2.1" fill="url(#gY)"/>
<circle cx="508.2" cy="308.6" r="2.1" fill="url(#gY)"/>
<circle cx="531.7" cy="306" r="2.1" fill="url(#gY)"/>
<circle cx="548.2" cy="308.6" r="2.1" fill="url(#gY)"/>
<circle cx="571.7" cy="306" r="2.1" fill="url(#gY)"/>
<circle cx="588.2" cy="308.6" r="2.1" fill="url(#gY)"/>
<circle cx="611.7" cy="306" r="2.1" fill="url(#gY)"/>
<circle cx="628.2" cy="308.6" r="2.1" fill="url(#gY)"/>
</g>
<text x="12.5" y="339.3" font-size="12.6" text-anchor="start" fill="#000" font-weight="bold" >e</text>
<g clip-path="url(#clipE)">
<path d="M45,318 C47,332.27 49,360.8 51,360.8 C51.83,360.8 52.67,358.7 53.5,358.7 C56.4,358.7 59.3,503 62.2,503 C64.53,503 66.87,407.2 69.2,407.2 C70.9,407.2 72.6,445.2 74.3,445.2 C76.77,445.2 79.23,393.3 81.7,393.3 C83.97,393.3 86.23,422.3 88.5,422.3 C120.67,422.3 152.83,422.3 185,422.3 C187.9,422.3 190.8,386.4 193.7,386.4 C195.7,386.4 197.7,424 199.7,424 C201.83,424 203.97,387.5 206.1,387.5 C207.9,387.5 209.7,426.2 211.5,426.2 C213.33,426.2 215.17,355.4 217,320" stroke="#c6dff0" stroke-width="1.6" fill="none"/>
<path d="M43.9,432 C45.57,417.5 47.23,388.5 48.9,388.5 C51.7,388.5 54.5,461 57.3,461 C60.9,461 64.5,412.5 68.1,412.5 C69.97,412.5 71.83,423.5 73.7,423.5 C76.37,423.5 79.03,401.8 81.7,401.8 C83.8,401.8 85.9,422.3 88,422.3 C120.33,422.3 152.67,422.3 185,422.3 C187.77,422.3 190.53,397.6 193.3,397.6 C195.9,397.6 198.5,444.9 201.1,444.9 C206.33,444.9 211.57,372.5 216.8,372.5 C219.37,372.5 221.93,464.17 224.5,510" stroke="#7db6dc" stroke-width="1.6" fill="none"/>
<path d="M43.5,500 C45.2,473.33 46.9,434 48.6,420 C50.83,401.61 53.07,383.7 55.3,383.7 C57.43,383.7 59.57,395.65 61.7,404 C64.27,414.04 66.83,444.1 69.4,444.1 C73.5,444.1 77.6,408.8 81.7,408.8 C84.3,408.8 86.9,422.3 89.5,422.3 C121.33,422.3 153.17,422.3 185,422.3 C187.43,422.3 189.87,419.7 192.3,419.7 C194.07,419.7 195.83,426.4 197.6,426.4 C200.27,426.4 202.93,362.4 205.6,362.4 C208.33,362.4 211.07,508 213.8,508 C216.7,508 219.6,389.33 222.5,330" stroke="#2d7ba6" stroke-width="1.6" fill="none"/>
</g>
<rect x="76.4" y="379.5" width="124" height="51" fill="none" stroke="#e8553a" stroke-width="1.2" stroke-dasharray="4,3"/>
<text x="142.1" y="416.3" font-size="12" text-anchor="middle" fill="#e8553a" stroke="#e8553a" stroke-width="0.22" textLength="78.8" lengthAdjust="spacingAndGlyphs" >surface charge</text>
<line x1="43.9" y1="344.4" x2="224.2" y2="344.4" stroke="#444" stroke-width="1.2" />
<line x1="224.2" y1="344.4" x2="224.2" y2="500" stroke="#444" stroke-width="1.2" />
<line x1="43.9" y1="500" x2="224.2" y2="500" stroke="#444" stroke-width="1.2" />
<line x1="43.9" y1="344.4" x2="43.9" y2="500" stroke="#999" stroke-width="1.8" />
<line x1="43.9" y1="344.4" x2="47.9" y2="344.4" stroke="#555" stroke-width="1" />
<text x="43.2" y="347.4" font-size="10" text-anchor="end" fill="#222" stroke="#222" stroke-width="0.22" >-1.0</text>
<line x1="43.9" y1="383.3" x2="47.9" y2="383.3" stroke="#555" stroke-width="1" />
<text x="43.2" y="386.3" font-size="10" text-anchor="end" fill="#222" stroke="#222" stroke-width="0.22" >-0.5</text>
<line x1="43.9" y1="422.2" x2="47.9" y2="422.2" stroke="#555" stroke-width="1" />
<text x="43.2" y="425.2" font-size="10" text-anchor="end" fill="#222" stroke="#222" stroke-width="0.22" >0.0</text>
<line x1="43.9" y1="461.1" x2="47.9" y2="461.1" stroke="#555" stroke-width="1" />
<text x="43.2" y="464.1" font-size="10" text-anchor="end" fill="#222" stroke="#222" stroke-width="0.22" >0.5</text>
<line x1="43.9" y1="500" x2="47.9" y2="500" stroke="#555" stroke-width="1" />
<text x="43.2" y="503" font-size="10" text-anchor="end" fill="#222" stroke="#222" stroke-width="0.22" >1.0</text>
<line x1="43.9" y1="363.85" x2="46.4" y2="363.85" stroke="#555" stroke-width="1" />
<line x1="43.9" y1="402.75" x2="46.4" y2="402.75" stroke="#555" stroke-width="1" />
<line x1="43.9" y1="441.65" x2="46.4" y2="441.65" stroke="#555" stroke-width="1" />
<line x1="43.9" y1="480.55" x2="46.4" y2="480.55" stroke="#555" stroke-width="1" />
<line x1="43.9" y1="500" x2="43.9" y2="496" stroke="#555" stroke-width="1" />
<text x="43.9" y="512" font-size="10" text-anchor="middle" fill="#222" stroke="#222" stroke-width="0.22" >-3</text>
<line x1="73.95" y1="500" x2="73.95" y2="496" stroke="#555" stroke-width="1" />
<text x="73.95" y="512" font-size="10" text-anchor="middle" fill="#222" stroke="#222" stroke-width="0.22" >-2</text>
<line x1="104" y1="500" x2="104" y2="496" stroke="#555" stroke-width="1" />
<text x="104" y="512" font-size="10" text-anchor="middle" fill="#222" stroke="#222" stroke-width="0.22" >-1</text>
<line x1="134.05" y1="500" x2="134.05" y2="496" stroke="#555" stroke-width="1" />
<text x="134.05" y="512" font-size="10" text-anchor="middle" fill="#222" stroke="#222" stroke-width="0.22" >0</text>
<line x1="164.1" y1="500" x2="164.1" y2="496" stroke="#555" stroke-width="1" />
<text x="164.1" y="512" font-size="10" text-anchor="middle" fill="#222" stroke="#222" stroke-width="0.22" >1</text>
<line x1="194.15" y1="500" x2="194.15" y2="496" stroke="#555" stroke-width="1" />
<text x="194.15" y="512" font-size="10" text-anchor="middle" fill="#222" stroke="#222" stroke-width="0.22" >2</text>
<line x1="224.2" y1="500" x2="224.2" y2="496" stroke="#555" stroke-width="1" />
<text x="224.2" y="512" font-size="10" text-anchor="middle" fill="#222" stroke="#222" stroke-width="0.22" >3</text>
<line x1="58.92" y1="500" x2="58.92" y2="497.5" stroke="#555" stroke-width="1" />
<line x1="88.97" y1="500" x2="88.97" y2="497.5" stroke="#555" stroke-width="1" />
<line x1="119.03" y1="500" x2="119.03" y2="497.5" stroke="#555" stroke-width="1" />
<line x1="149.07" y1="500" x2="149.07" y2="497.5" stroke="#555" stroke-width="1" />
<line x1="179.12" y1="500" x2="179.12" y2="497.5" stroke="#555" stroke-width="1" />
<line x1="209.17" y1="500" x2="209.17" y2="497.5" stroke="#555" stroke-width="1" />
<text x="134.9" y="525.5" font-size="11" text-anchor="middle" fill="#222" stroke="#222" stroke-width="0.22" textLength="66.6" lengthAdjust="spacingAndGlyphs" >Distance (nm)</text>
<text x="17.6" y="422.5" font-size="11" text-anchor="middle" fill="#222" stroke="#222" stroke-width="0.22" textLength="114" lengthAdjust="spacingAndGlyphs" transform="rotate(-90 17.6 422.5)" >Charge Density (e/nm<tspan font-size="7" dy="-4">2</tspan><tspan dy="4">)</tspan></text>
<line x1="98.8" y1="454.2" x2="126" y2="454.2" stroke="#c6dff0" stroke-width="1.8" />
<text x="126" y="457.8" font-size="10.5" text-anchor="start" fill="#222" stroke="#222" stroke-width="0.22" textLength="45.5" lengthAdjust="spacingAndGlyphs" >Ca/Si = 1.2</text>
<line x1="98.8" y1="468.9" x2="126" y2="468.9" stroke="#7db6dc" stroke-width="1.8" />
<text x="126" y="472.5" font-size="10.5" text-anchor="start" fill="#222" stroke="#222" stroke-width="0.22" textLength="45.5" lengthAdjust="spacingAndGlyphs" >Ca/Si = 1.5</text>
<line x1="98.8" y1="483.6" x2="126" y2="483.6" stroke="#2d7ba6" stroke-width="1.8" />
<text x="126" y="487.2" font-size="10.5" text-anchor="start" fill="#222" stroke="#222" stroke-width="0.22" textLength="45.5" lengthAdjust="spacingAndGlyphs" >Ca/Si = 1.8</text>
<text x="240.5" y="338.5" font-size="12.6" text-anchor="start" fill="#000" font-weight="bold" >f</text>
<line x1="253.6" y1="366.5" x2="434.2" y2="366.5" stroke="#d0d0d0" stroke-width="0.8" stroke-dasharray="1.5,1.5"/>
<line x1="253.6" y1="410.7" x2="434.2" y2="410.7" stroke="#d0d0d0" stroke-width="0.8" stroke-dasharray="1.5,1.5"/>
<line x1="253.6" y1="455.3" x2="434.2" y2="455.3" stroke="#d0d0d0" stroke-width="0.8" stroke-dasharray="1.5,1.5"/>
<rect x="253.6" y="377.8" width="115.58" height="22.1" fill="#bdd9ec" stroke="none" stroke-width="1" />
<rect x="369.18" y="377.8" width="65.02" height="22.1" fill="#3a87b8" stroke="none" stroke-width="1" />
<line x1="253.6" y1="377.8" x2="434.2" y2="377.8" stroke="#444" stroke-width="1" />
<line x1="253.6" y1="399.9" x2="434.2" y2="399.9" stroke="#777" stroke-width="1" />
<line x1="369.18" y1="377.8" x2="369.18" y2="399.9" stroke="#444" stroke-width="0.9" />
<text x="432.3" y="375.2" font-size="10.5" text-anchor="end" fill="#222" stroke="#222" stroke-width="0.22" textLength="40.6" lengthAdjust="spacingAndGlyphs" >Ca/Si=1.8</text>
<rect x="253.6" y="422.4" width="125.52" height="21.8" fill="#bdd9ec" stroke="none" stroke-width="1" />
<rect x="379.12" y="422.4" width="55.08" height="21.8" fill="#3a87b8" stroke="none" stroke-width="1" />
<line x1="253.6" y1="422.4" x2="434.2" y2="422.4" stroke="#444" stroke-width="1" />
<line x1="253.6" y1="444.2" x2="434.2" y2="444.2" stroke="#777" stroke-width="1" />
<line x1="379.12" y1="422.4" x2="379.12" y2="444.2" stroke="#444" stroke-width="0.9" />
<text x="432.3" y="419.5" font-size="10.5" text-anchor="end" fill="#222" stroke="#222" stroke-width="0.22" textLength="40.6" lengthAdjust="spacingAndGlyphs" >Ca/Si=1.5</text>
<rect x="253.6" y="466.7" width="138.34" height="22.2" fill="#bdd9ec" stroke="none" stroke-width="1" />
<rect x="391.94" y="466.7" width="42.26" height="22.2" fill="#3a87b8" stroke="none" stroke-width="1" />
<line x1="253.6" y1="466.7" x2="434.2" y2="466.7" stroke="#444" stroke-width="1" />
<line x1="253.6" y1="488.9" x2="434.2" y2="488.9" stroke="#777" stroke-width="1" />
<line x1="391.94" y1="466.7" x2="391.94" y2="488.9" stroke="#444" stroke-width="0.9" />
<text x="432.3" y="463.8" font-size="10.5" text-anchor="end" fill="#222" stroke="#222" stroke-width="0.22" textLength="40.6" lengthAdjust="spacingAndGlyphs" >Ca/Si=1.2</text>
<rect x="284.4" y="349.5" width="25.2" height="12.1" fill="#bdd9ec" stroke="#333" stroke-width="1" />
<text x="310.3" y="359.6" font-size="10.5" text-anchor="start" fill="#222" stroke="#222" stroke-width="0.22" >O</text>
<rect x="348.3" y="349.5" width="25.5" height="12.1" fill="#3a87b8" stroke="#333" stroke-width="1" />
<text x="374.3" y="359.6" font-size="10.5" text-anchor="start" fill="#222" stroke="#222" stroke-width="0.22" textLength="10.2" lengthAdjust="spacingAndGlyphs" >Ca</text>
<rect x="253.6" y="344.5" width="180.6" height="154.5" fill="none" stroke="#555" stroke-width="1" />
<line x1="253.6" y1="499" x2="253.6" y2="495.8" stroke="#555" stroke-width="1" />
<text x="253.6" y="512.4" font-size="10" text-anchor="middle" fill="#222" stroke="#222" stroke-width="0.22" >0.0</text>
<line x1="289.72" y1="499" x2="289.72" y2="495.8" stroke="#555" stroke-width="1" />
<text x="289.72" y="512.4" font-size="10" text-anchor="middle" fill="#222" stroke="#222" stroke-width="0.22" >0.2</text>
<line x1="325.84" y1="499" x2="325.84" y2="495.8" stroke="#555" stroke-width="1" />
<text x="325.84" y="512.4" font-size="10" text-anchor="middle" fill="#222" stroke="#222" stroke-width="0.22" >0.4</text>
<line x1="361.96" y1="499" x2="361.96" y2="495.8" stroke="#555" stroke-width="1" />
<text x="361.96" y="512.4" font-size="10" text-anchor="middle" fill="#222" stroke="#222" stroke-width="0.22" >0.6</text>
<line x1="398.08" y1="499" x2="398.08" y2="495.8" stroke="#555" stroke-width="1" />
<text x="398.08" y="512.4" font-size="10" text-anchor="middle" fill="#222" stroke="#222" stroke-width="0.22" >0.8</text>
<line x1="434.2" y1="499" x2="434.2" y2="495.8" stroke="#555" stroke-width="1" />
<text x="434.2" y="512.4" font-size="10" text-anchor="middle" fill="#222" stroke="#222" stroke-width="0.22" >1.0</text>
<text x="343.5" y="525.5" font-size="11" text-anchor="middle" fill="#222" stroke="#222" stroke-width="0.22" textLength="70.6" lengthAdjust="spacingAndGlyphs" >Ca &amp; O Conent</text>
<text x="451.2" y="337.9" font-size="13" text-anchor="start" fill="#000" font-weight="bold" font-family="Liberation Serif">g</text>
<g clip-path="url(#clipG)">
<path d="M502.01,340.82 C502.57,341.38 502.01,341.77 505.37,344.18 C508.73,346.58 516,350.89 522.16,355.26 C528.32,359.62 536.71,366.73 542.31,370.37 C547.9,374.01 550.98,374.85 555.74,377.09 C560.5,379.32 566.37,381 570.85,383.8 C575.33,386.6 578.4,389.4 582.6,393.88 C586.8,398.35 591.84,404.51 596.03,410.66 C600.23,416.82 604.15,425.1 607.79,430.81 C611.42,436.52 614.78,442.12 617.86,444.92 C620.94,447.71 622.06,447.04 626.26,447.6 C630.45,448.16 635.32,448.11 643.05,448.27 C650.77,448.44 667.67,448.55 672.6,448.61" stroke="#cde3f2" stroke-width="2" fill="none" stroke-linejoin="round" stroke-linecap="round" />
<path d="M494.29,350.22 C497.81,351.9 508,356.38 515.44,360.3 C522.89,364.21 532.23,369.81 538.95,373.73 C545.66,377.64 550.42,380.44 555.74,383.8 C561.06,387.16 566.65,389.96 570.85,393.88 C575.05,397.79 577.57,402.55 580.92,407.31 C584.28,412.06 587.36,417.66 591,422.42 C594.64,427.17 598.55,432.1 602.75,435.85 C606.95,439.6 612.26,442.96 616.18,444.92 C620.1,446.87 621.78,447.04 626.26,447.6 C630.73,448.16 635.32,448.11 643.05,448.27 C650.77,448.44 667.67,448.55 672.6,448.61" stroke="#8fc0e0" stroke-width="2" fill="none" stroke-linejoin="round" stroke-linecap="round" />
<path d="M494.29,361.97 C497.25,364.49 505.76,371.77 512.09,377.09 C518.41,382.4 525.52,388.56 532.23,393.88 C538.95,399.19 546.22,404.51 552.38,408.99 C558.54,413.46 563.57,417.66 569.17,420.74 C574.77,423.82 581.76,425.5 585.96,427.45 C590.16,429.41 591.56,430.25 594.36,432.49 C597.15,434.73 599.11,438.65 602.75,440.89 C606.39,443.13 612.26,444.8 616.18,445.92 C620.1,447.04 621.78,447.21 626.26,447.6 C630.73,447.99 635.32,448.11 643.05,448.27 C650.77,448.44 667.67,448.55 672.6,448.61" stroke="#2f86bd" stroke-width="2.2" fill="none" stroke-linejoin="round" stroke-linecap="round" />
</g>
<line x1="494.3" y1="470.1" x2="672.6" y2="470.1" stroke="#d2691e" stroke-width="1.2" stroke-dasharray="4,2.5"/>
<text x="667" y="481.2" font-size="11" text-anchor="end" fill="#d2691e" stroke="#d2691e" stroke-width="0.22" textLength="50" lengthAdjust="spacingAndGlyphs" >bulk water</text>
<rect x="494.3" y="344.4" width="178.3" height="156.3" fill="none" stroke="#555" stroke-width="1" />
<line x1="494.3" y1="500.7" x2="498.3" y2="500.7" stroke="#555" stroke-width="1" />
<text x="494.3" y="503.7" font-size="10" text-anchor="end" fill="#222" stroke="#222" stroke-width="0.22" >2.430</text>
<line x1="494.3" y1="461.63" x2="498.3" y2="461.63" stroke="#555" stroke-width="1" />
<text x="494.3" y="464.63" font-size="10" text-anchor="end" fill="#222" stroke="#222" stroke-width="0.22" >2.445</text>
<line x1="494.3" y1="422.55" x2="498.3" y2="422.55" stroke="#555" stroke-width="1" />
<text x="494.3" y="425.55" font-size="10" text-anchor="end" fill="#222" stroke="#222" stroke-width="0.22" >2.460</text>
<line x1="494.3" y1="383.48" x2="498.3" y2="383.48" stroke="#555" stroke-width="1" />
<text x="494.3" y="386.48" font-size="10" text-anchor="end" fill="#222" stroke="#222" stroke-width="0.22" >2.475</text>
<line x1="494.3" y1="344.4" x2="498.3" y2="344.4" stroke="#555" stroke-width="1" />
<text x="494.3" y="347.4" font-size="10" text-anchor="end" fill="#222" stroke="#222" stroke-width="0.22" >2.490</text>
<line x1="494.3" y1="481.16" x2="496.8" y2="481.16" stroke="#555" stroke-width="1" />
<line x1="494.3" y1="442.09" x2="496.8" y2="442.09" stroke="#555" stroke-width="1" />
<line x1="494.3" y1="403.01" x2="496.8" y2="403.01" stroke="#555" stroke-width="1" />
<line x1="494.3" y1="363.94" x2="496.8" y2="363.94" stroke="#555" stroke-width="1" />
<line x1="494.3" y1="500.7" x2="494.3" y2="496.7" stroke="#555" stroke-width="1" />
<text x="494.3" y="515.4" font-size="10" text-anchor="middle" fill="#222" stroke="#222" stroke-width="0.22" >0.35</text>
<line x1="538.88" y1="500.7" x2="538.88" y2="496.7" stroke="#555" stroke-width="1" />
<text x="538.88" y="515.4" font-size="10" text-anchor="middle" fill="#222" stroke="#222" stroke-width="0.22" >0.40</text>
<line x1="583.45" y1="500.7" x2="583.45" y2="496.7" stroke="#555" stroke-width="1" />
<text x="583.45" y="515.4" font-size="10" text-anchor="middle" fill="#222" stroke="#222" stroke-width="0.22" >0.45</text>
<line x1="628.02" y1="500.7" x2="628.02" y2="496.7" stroke="#555" stroke-width="1" />
<text x="628.02" y="515.4" font-size="10" text-anchor="middle" fill="#222" stroke="#222" stroke-width="0.22" >0.50</text>
<line x1="672.6" y1="500.7" x2="672.6" y2="496.7" stroke="#555" stroke-width="1" />
<text x="672.6" y="515.4" font-size="10" text-anchor="middle" fill="#222" stroke="#222" stroke-width="0.22" >0.55</text>
<line x1="516.59" y1="500.7" x2="516.59" y2="498.2" stroke="#555" stroke-width="1" />
<line x1="561.16" y1="500.7" x2="561.16" y2="498.2" stroke="#555" stroke-width="1" />
<line x1="605.74" y1="500.7" x2="605.74" y2="498.2" stroke="#555" stroke-width="1" />
<line x1="650.31" y1="500.7" x2="650.31" y2="498.2" stroke="#555" stroke-width="1" />
<text x="583.6" y="525.6" font-size="10.5" text-anchor="middle" fill="#222" stroke="#222" stroke-width="0.22" >RH</text>
<text x="461.8" y="422.4" font-size="11" text-anchor="middle" fill="#222" stroke="#222" stroke-width="0.22" textLength="94" lengthAdjust="spacingAndGlyphs" transform="rotate(-90 461.8 422.4)" >Dipole Moment (D)</text>
<line x1="612.2" y1="352.9" x2="626.9" y2="352.9" stroke="#cde3f2" stroke-width="2" />
<text x="627" y="356.3" font-size="9.5" text-anchor="start" fill="#222" stroke="#222" stroke-width="0.22" textLength="40" lengthAdjust="spacingAndGlyphs" >Ca/Si=1.2</text>
<line x1="612.2" y1="367.3" x2="626.9" y2="367.3" stroke="#8fc0e0" stroke-width="2" />
<text x="627" y="370.7" font-size="9.5" text-anchor="start" fill="#222" stroke="#222" stroke-width="0.22" textLength="40" lengthAdjust="spacingAndGlyphs" >Ca/Si=1.5</text>
<line x1="612.2" y1="381.8" x2="626.9" y2="381.8" stroke="#2f86bd" stroke-width="2.4" />
<text x="627" y="385.2" font-size="9.5" text-anchor="start" fill="#222" stroke="#222" stroke-width="0.22" textLength="40" lengthAdjust="spacingAndGlyphs" >Ca/Si=1.8</text>
<text x="12.6" y="546.2" font-size="12.6" text-anchor="start" fill="#000" font-weight="bold" >h</text>
<g clip-path="url(#clipH)">
<path d="M150,550.2 C147.33,550.45 140.67,551.08 134,551.7 C127.33,552.32 117.33,553.22 110,553.9 C102.67,554.58 94.33,555.28 90,555.8 C85.67,556.32 85.35,556.65 84,557 C82.65,557.35 81.9,557.57 81.9,557.9 C81.9,558.23 82.65,558.67 84,559 C85.35,559.33 85.67,559.4 90,559.9 C94.33,560.4 102.67,560.97 110,562 C117.33,563.03 125.67,565.18 134,566.1 C142.33,567.02 149,566.02 160,567.5 C171,568.98 191,569.58 200,575 C209,580.42 211.17,592.5 214,600 C216.83,607.5 216.67,611.67 217,620 C217.33,628.33 218,640.83 216,650 C214,659.17 212.67,668.33 205,675 C197.33,681.67 179.5,686.17 170,690 C160.5,693.83 158,696.97 148,698 C138,699.03 119.67,696.63 110,696.2 C100.33,695.77 94.25,695.38 90,695.4 C85.75,695.42 85.72,695.87 84.5,696.3 C83.28,696.73 82.7,697.47 82.7,698 C82.7,698.53 83.28,699.17 84.5,699.5 C85.72,699.83 85.75,699.65 90,700 C94.25,700.35 100.33,700.8 110,701.6 C119.67,702.4 137.17,703.82 148,704.8 C158.83,705.78 166.33,706.5 175,707.5 C183.67,708.5 193.83,709.67 200,710.8 C206.17,711.93 208.5,713.72 212,714.3 C215.5,714.88 219.5,741.65 221,714.3 C222.5,686.95 221,577.55 221,550.2 Z" fill="rgb(185,213,237)" fill-opacity="0.5" stroke="#9cc0dc" stroke-width="0.6"/>
<path d="M180,550.2 C179,550.75 175.85,552.3 174,553.5 C172.15,554.7 170.87,555.63 168.9,557.4 C166.93,559.17 168.02,562.38 162.2,564.1 C156.38,565.82 142.7,566.6 134,567.7 C125.3,568.8 116.5,569.98 110,570.7 C103.5,571.42 98.58,571.62 95,572 C91.42,572.38 89.93,572.63 88.5,573 C87.07,573.37 86.4,573.77 86.4,574.2 C86.4,574.63 87.07,575.15 88.5,575.6 C89.93,576.05 91.42,576.6 95,576.9 C98.58,577.2 103.5,576.97 110,577.4 C116.5,577.83 125.67,578.73 134,579.5 C142.33,580.27 149,580.25 160,582 C171,583.75 191.33,587 200,590 C208.67,593 209.67,595 212,600 C214.33,605 214,613.33 214,620 C214,626.67 212.67,633.33 212,640 C211.33,646.67 213.67,655.75 210,660 C206.33,664.25 194.83,663.43 190,665.5 C185.17,667.57 184.28,670.35 181,672.4 C177.72,674.45 178.8,675.95 170.3,677.8 C161.8,679.65 140.05,682.15 130,683.5 C119.95,684.85 116.67,685.27 110,685.9 C103.33,686.53 93.95,686.9 90,687.3 C86.05,687.7 87.2,687.85 86.3,688.3 C85.4,688.75 84.6,689.43 84.6,690 C84.6,690.57 85.4,691.25 86.3,691.7 C87.2,692.15 86.05,692.32 90,692.7 C93.95,693.08 100.33,693.25 110,694 C119.67,694.75 137.17,696.2 148,697.2 C158.83,698.2 166.33,698.63 175,700 C183.67,701.37 193.33,703.47 200,705.4 C206.67,707.33 212,710.12 215,711.6 C218,713.08 217,713.85 218,714.3 C219,714.75 220.5,741.65 221,714.3 C221.5,686.95 221,577.55 221,550.2 Z" fill="rgb(39,119,165)" fill-opacity="0.5" stroke="#3f7aa0" stroke-width="0.6"/>
<path d="M205.2,550.2 C201.62,550.95 189.23,553.23 183.7,554.7 C178.17,556.17 174.47,557.98 172,559 C169.53,560.02 169.97,559.95 168.9,560.8 C167.83,561.65 166.72,562.55 165.6,564.1 C164.48,565.65 164.8,568.53 162.2,570.1 C159.6,571.67 154.7,572.42 150,573.5 C145.3,574.58 139,575.58 134,576.6 C129,577.62 124.83,578.78 120,579.6 C115.17,580.42 108.47,580.98 105,581.5 C101.53,582.02 100.5,582.25 99.2,582.7 C97.9,583.15 97.2,583.7 97.2,584.2 C97.2,584.7 97.9,585.25 99.2,585.7 C100.5,586.15 101.53,586.4 105,586.9 C108.47,587.4 115.17,587.92 120,588.7 C124.83,589.48 125.62,590.78 134,591.6 C142.38,592.42 160.13,592.53 170.3,593.6 C180.47,594.67 189.38,596.7 195,598 C200.62,599.3 201.8,600.13 204,601.4 C206.2,602.67 207.8,604.3 208.2,605.6 C208.6,606.9 206.2,608 206.4,609.2 C206.6,610.4 207.8,611.6 209.4,612.8 C211,614 214.3,615.12 216,616.4 C217.7,617.68 219.1,618.3 219.6,620.5 C220.1,622.7 220.2,627.18 219,629.6 C217.8,632.02 214.8,633.2 212.4,635 C210,636.8 205.4,638.7 204.6,640.4 C203.8,642.1 206.4,643.6 207.6,645.2 C208.8,646.8 211.6,648.4 211.8,650 C212,651.6 209.45,653.07 208.8,654.8 C208.15,656.53 208.62,658.7 207.9,660.4 C207.18,662.1 208.18,663.9 204.5,665 C200.82,666.1 190.72,666.53 185.8,667 C180.88,667.47 181.3,667.27 175,667.8 C168.7,668.33 157,669.2 148,670.2 C139,671.2 128.65,672.53 121,673.8 C113.35,675.07 106.05,676.77 102.1,677.8 C98.15,678.83 98.42,679.32 97.3,680 C96.18,680.68 95.4,681.27 95.4,681.9 C95.4,682.53 96.18,683.22 97.3,683.8 C98.42,684.38 98.15,684.6 102.1,685.4 C106.05,686.2 113.35,687.53 121,688.6 C128.65,689.67 139,690.45 148,691.8 C157,693.15 166.33,694.75 175,696.7 C183.67,698.65 193.33,701.25 200,703.5 C206.67,705.75 212,708.4 215,710.2 C218,712 217,713.62 218,714.3 C219,714.98 220.5,741.65 221,714.3 C221.5,686.95 221,577.55 221,550.2 Z" fill="rgb(57,103,143)" fill-opacity="0.5" stroke="#24445a" stroke-width="0.7"/>
</g>
<line x1="45" y1="550.2" x2="220" y2="550.2" stroke="#444" stroke-width="1.2" />
<line x1="220" y1="550.2" x2="220" y2="714.3" stroke="#444" stroke-width="1.2" />
<line x1="45" y1="714.3" x2="220" y2="714.3" stroke="#444" stroke-width="1.2" />
<line x1="45" y1="550.2" x2="45" y2="714.3" stroke="#999" stroke-width="1.8" />
<line x1="42.5" y1="714.3" x2="47.5" y2="714.3" stroke="#555" stroke-width="1" />
<text x="44.6" y="717.1" font-size="9" text-anchor="end" fill="#222" stroke="#222" stroke-width="0.22" >-2.0</text>
<line x1="42.5" y1="693.79" x2="47.5" y2="693.79" stroke="#555" stroke-width="1" />
<text x="44.6" y="696.59" font-size="9" text-anchor="end" fill="#222" stroke="#222" stroke-width="0.22" >-1.5</text>
<line x1="42.5" y1="673.27" x2="47.5" y2="673.27" stroke="#555" stroke-width="1" />
<text x="44.6" y="676.07" font-size="9" text-anchor="end" fill="#222" stroke="#222" stroke-width="0.22" >-1.0</text>
<line x1="42.5" y1="652.76" x2="47.5" y2="652.76" stroke="#555" stroke-width="1" />
<text x="44.6" y="655.56" font-size="9" text-anchor="end" fill="#222" stroke="#222" stroke-width="0.22" >-0.5</text>
<line x1="42.5" y1="632.25" x2="47.5" y2="632.25" stroke="#555" stroke-width="1" />
<text x="44.6" y="635.05" font-size="9" text-anchor="end" fill="#222" stroke="#222" stroke-width="0.22" >0.0</text>
<line x1="42.5" y1="611.74" x2="47.5" y2="611.74" stroke="#555" stroke-width="1" />
<text x="44.6" y="614.54" font-size="9" text-anchor="end" fill="#222" stroke="#222" stroke-width="0.22" >0.5</text>
<line x1="42.5" y1="591.23" x2="47.5" y2="591.23" stroke="#555" stroke-width="1" />
<text x="44.6" y="594.02" font-size="9" text-anchor="end" fill="#222" stroke="#222" stroke-width="0.22" >1.0</text>
<line x1="42.5" y1="570.71" x2="47.5" y2="570.71" stroke="#555" stroke-width="1" />
<text x="44.6" y="573.51" font-size="9" text-anchor="end" fill="#222" stroke="#222" stroke-width="0.22" >1.5</text>
<line x1="42.5" y1="550.2" x2="47.5" y2="550.2" stroke="#555" stroke-width="1" />
<text x="44.6" y="553" font-size="9" text-anchor="end" fill="#222" stroke="#222" stroke-width="0.22" >2.0</text>
<line x1="45" y1="704.04" x2="47" y2="704.04" stroke="#555" stroke-width="1" />
<line x1="45" y1="683.53" x2="47" y2="683.53" stroke="#555" stroke-width="1" />
<line x1="45" y1="663.02" x2="47" y2="663.02" stroke="#555" stroke-width="1" />
<line x1="45" y1="642.51" x2="47" y2="642.51" stroke="#555" stroke-width="1" />
<line x1="45" y1="621.99" x2="47" y2="621.99" stroke="#555" stroke-width="1" />
<line x1="45" y1="601.48" x2="47" y2="601.48" stroke="#555" stroke-width="1" />
<line x1="45" y1="580.97" x2="47" y2="580.97" stroke="#555" stroke-width="1" />
<line x1="45" y1="560.46" x2="47" y2="560.46" stroke="#555" stroke-width="1" />
<line x1="45" y1="714.3" x2="45" y2="710.8" stroke="#555" stroke-width="1" />
<text x="45" y="726.6" font-size="9.3" text-anchor="middle" fill="#222" stroke="#222" stroke-width="0.22" >1.2</text>
<line x1="74.17" y1="714.3" x2="74.17" y2="710.8" stroke="#555" stroke-width="1" />
<text x="74.17" y="726.6" font-size="9.3" text-anchor="middle" fill="#222" stroke="#222" stroke-width="0.22" >1.0</text>
<line x1="103.33" y1="714.3" x2="103.33" y2="710.8" stroke="#555" stroke-width="1" />
<text x="103.33" y="726.6" font-size="9.3" text-anchor="middle" fill="#222" stroke="#222" stroke-width="0.22" >0.8</text>
<line x1="132.5" y1="714.3" x2="132.5" y2="710.8" stroke="#555" stroke-width="1" />
<text x="132.5" y="726.6" font-size="9.3" text-anchor="middle" fill="#222" stroke="#222" stroke-width="0.22" >0.6</text>
<line x1="161.67" y1="714.3" x2="161.67" y2="710.8" stroke="#555" stroke-width="1" />
<text x="161.67" y="726.6" font-size="9.3" text-anchor="middle" fill="#222" stroke="#222" stroke-width="0.22" >0.4</text>
<line x1="190.83" y1="714.3" x2="190.83" y2="710.8" stroke="#555" stroke-width="1" />
<text x="190.83" y="726.6" font-size="9.3" text-anchor="middle" fill="#222" stroke="#222" stroke-width="0.22" >0.2</text>
<line x1="220" y1="714.3" x2="220" y2="710.8" stroke="#555" stroke-width="1" />
<text x="220" y="726.6" font-size="9.3" text-anchor="middle" fill="#222" stroke="#222" stroke-width="0.22" >0.0</text>
<line x1="59.58" y1="714.3" x2="59.58" y2="712.3" stroke="#555" stroke-width="1" />
<line x1="88.75" y1="714.3" x2="88.75" y2="712.3" stroke="#555" stroke-width="1" />
<line x1="117.92" y1="714.3" x2="117.92" y2="712.3" stroke="#555" stroke-width="1" />
<line x1="147.08" y1="714.3" x2="147.08" y2="712.3" stroke="#555" stroke-width="1" />
<line x1="176.25" y1="714.3" x2="176.25" y2="712.3" stroke="#555" stroke-width="1" />
<line x1="205.42" y1="714.3" x2="205.42" y2="712.3" stroke="#555" stroke-width="1" />
<text x="132.3" y="737.5" font-size="11" text-anchor="middle" fill="#222" stroke="#222" stroke-width="0.22" textLength="103.4" lengthAdjust="spacingAndGlyphs" >Normalized CO<tspan font-size="7" dy="3">2</tspan><tspan dy="-3"> Density</tspan></text>
<text x="19.6" y="632.8" font-size="10.5" text-anchor="middle" fill="#222" stroke="#222" stroke-width="0.22" textLength="121" lengthAdjust="spacingAndGlyphs" transform="rotate(-90 19.6 632.8)" >Distance in Z Direction (nm)</text>
<path d="M51.3,616.7 L55,612.7 L58,614.2 L61.3,606.2 L66,616.7 Z" fill="#b9d6ec"/>
<text x="69.3" y="616" font-size="10.5" text-anchor="start" fill="#b9d6ec" stroke="#b9d6ec" stroke-width="0.22" textLength="36.5" lengthAdjust="spacingAndGlyphs" >RH=0.15</text>
<path d="M51.3,631.1 L55,627.1 L58,628.6 L61.3,620.6 L66,631.1 Z" fill="#6b9fbe"/>
<text x="69.3" y="630.4" font-size="10.5" text-anchor="start" fill="#6b9fbe" stroke="#6b9fbe" stroke-width="0.22" textLength="36.5" lengthAdjust="spacingAndGlyphs" >RH=0.20</text>
<path d="M51.3,645.1 L55,641.1 L58,642.6 L61.3,634.6 L66,645.1 Z" fill="#2a6a8e"/>
<text x="69.3" y="644.4" font-size="10.5" text-anchor="start" fill="#2a6a8e" stroke="#2a6a8e" stroke-width="0.22" textLength="36.5" lengthAdjust="spacingAndGlyphs" >RH=0.27</text>
<text x="229.8" y="545" font-size="12.6" text-anchor="start" fill="#000" font-weight="bold" >i</text>
<g clip-path="url(#clipI)">
<rect x="261.7" y="549.7" width="176.7" height="169.1" fill="#dcedf4" stroke="none" stroke-width="1" />
<path d="M317.7,707.7 303.7,708.5 289.7,708.3 265.7,706.3 255.7,704.7 255.3,688.7 255.7,671.8 265.7,670.0 286.7,667.8 297.7,667.4 320.7,667.4 325.7,666.6 331.7,664.8 340.3,660.7 343.7,658.3 346.6,655.7 357.5,641.7 360.7,636.2 361.4,634.7 361.4,633.7 356.3,628.7 350.3,623.7 347.5,620.7 347.0,619.7 346.2,614.7 343.7,609.2 339.7,603.8 337.7,602.2 335.7,601.2 332.7,600.6 328.7,601.4 317.7,608.6 310.7,611.3 302.7,612.6 293.7,612.2 289.7,611.4 285.7,610.0 280.1,606.7 277.8,603.7 275.4,596.7 273.7,594.7 271.7,593.2 267.7,591.8 259.7,590.4 255.7,589.4 255.3,572.7 255.7,558.1 269.5,554.7 278.7,550.7 285.7,548.5 295.7,547.0 306.7,546.7 317.5,547.7 326.1,549.7 331.2,551.7 347.6,559.7 352.7,561.5 355.7,562.2 361.7,562.7 377.7,562.0 396.7,562.0 401.7,561.2 405.0,559.7 406.7,557.7 409.2,552.7 410.7,550.8 412.7,549.4 415.7,548.7 418.7,549.4 420.7,551.0 422.0,552.7 425.1,558.7 427.6,560.7 430.4,561.7 433.7,562.2 443.7,562.6 444.0,623.7 443.7,696.0 431.7,696.2 426.7,696.8 423.7,698.0 418.7,702.4 415.7,703.9 413.7,703.8 411.7,702.9 407.7,699.6 404.7,697.9 400.7,697.1 395.7,697.1 382.7,698.0 368.7,699.7 336.7,705.3 317.7,707.7Z" fill="#cbe4f0" fill-rule="evenodd"/>
<path d="M309.7,700.7 297.7,701.1 280.7,700.6 265.7,701.6 260.7,701.3 255.7,700.4 255.4,688.7 255.7,676.4 260.7,675.4 265.7,675.1 279.7,675.6 297.7,674.9 317.7,675.3 322.7,674.7 325.7,673.8 335.9,667.7 345.8,662.7 351.3,658.7 354.7,655.0 358.9,648.7 364.4,641.7 367.5,636.7 368.4,634.7 368.4,633.7 357.6,623.7 355.0,620.7 354.5,619.7 354.3,615.7 353.7,612.9 349.7,600.7 346.9,596.7 343.4,593.7 339.3,591.7 331.7,589.7 308.7,587.1 282.7,585.2 263.7,585.9 255.7,584.6 255.4,572.7 255.7,561.9 259.7,561.0 264.7,560.6 281.7,561.9 299.7,561.2 322.7,561.3 332.7,562.2 347.7,565.2 355.7,565.8 375.7,564.8 400.7,564.8 405.7,564.2 413.7,562.1 415.7,561.9 428.7,564.9 443.7,565.5 444.0,623.7 443.7,692.3 425.7,692.9 414.7,694.9 406.7,693.4 402.7,693.0 377.7,693.8 352.7,696.1 328.7,700.0 309.7,700.7Z" fill="#b8d9ea" fill-rule="evenodd"/>
<path d="M269.7,698.7 262.7,699.2 255.7,698.0 255.4,688.7 255.7,678.8 261.7,677.6 267.7,677.7 272.7,678.6 283.7,681.6 288.7,682.1 308.7,681.5 322.7,679.5 327.7,678.2 330.2,676.7 333.9,672.7 337.7,669.7 341.1,667.7 351.7,662.7 356.9,658.7 359.5,655.7 363.9,648.7 372.1,638.7 374.2,634.7 374.0,633.7 362.7,623.7 360.2,620.7 359.7,619.7 359.9,616.7 359.5,613.7 355.4,599.7 352.0,594.7 348.2,591.7 340.9,588.7 330.7,585.7 306.7,581.6 284.7,580.7 279.7,581.2 269.7,583.2 264.7,583.6 259.7,583.3 255.7,582.4 255.4,572.7 255.7,564.0 260.7,562.9 265.7,562.7 270.7,563.3 279.7,565.4 284.7,566.1 307.7,566.1 326.7,565.5 349.7,567.8 375.7,566.6 401.7,567.0 415.7,565.9 429.7,567.3 443.7,567.7 443.7,689.6 432.7,690.3 414.7,690.6 403.7,690.3 368.7,691.3 348.7,693.0 333.7,696.3 326.7,697.0 319.7,696.7 304.7,694.4 287.7,694.0 282.7,694.9 274.7,697.5 269.7,698.7ZM395.3,599.7 397.7,598.8 398.5,597.7 398.3,596.7 397.0,595.7 394.7,595.2 392.7,595.3 391.1,595.7 389.8,596.7 389.6,597.7 390.7,599.0 392.7,599.7 395.3,599.7Z" fill="#a2cce2" fill-rule="evenodd"/>
<path d="M328.7,694.7 322.7,694.6 316.7,693.0 313.2,690.7 312.5,689.7 312.4,687.7 314.0,685.7 317.9,683.7 331.7,680.6 333.7,679.0 336.6,673.7 339.8,670.7 344.7,668.0 355.7,663.7 360.5,660.7 364.5,656.7 366.8,651.7 368.7,648.7 380.2,637.7 381.2,635.7 381.3,634.7 380.8,633.7 367.7,623.8 365.1,620.7 364.8,619.7 365.4,614.7 361.8,600.7 358.1,594.7 356.2,592.7 353.7,591.1 350.6,589.7 328.7,582.2 311.7,577.9 303.7,576.5 286.7,576.1 282.7,576.9 273.7,580.3 268.7,581.6 262.7,582.0 257.7,581.3 255.7,580.6 255.7,565.6 261.7,564.3 267.7,564.5 273.7,566.1 283.7,569.9 289.7,570.7 306.7,570.6 325.7,568.7 347.7,569.4 376.7,568.3 402.7,569.0 415.7,568.7 443.7,570.2 443.7,687.2 437.7,688.2 432.7,688.5 413.7,687.5 394.7,688.6 372.7,688.4 354.7,689.4 345.7,690.4 334.6,693.7 328.7,694.7ZM399.4,601.7 402.6,599.7 403.6,597.7 402.9,595.7 401.6,594.7 399.7,593.9 394.7,593.2 389.7,593.6 386.6,594.7 384.7,596.7 384.7,598.4 385.4,599.7 388.7,601.7 393.7,602.6 396.7,602.4 399.4,601.7ZM435.2,643.7 436.4,642.7 436.3,641.7 434.7,640.6 430.7,640.3 429.0,640.7 427.7,641.7 427.7,642.7 429.7,643.9 432.7,644.2 435.2,643.7ZM433.4,672.7 433.6,671.7 431.7,671.4 430.5,671.7 430.7,672.7 433.4,672.7ZM269.7,696.8 266.7,697.4 262.7,697.6 258.7,697.1 255.7,696.3 255.7,680.6 261.7,679.3 267.7,679.6 273.7,681.4 276.1,682.7 278.5,684.7 280.2,687.7 280.2,688.7 279.5,690.7 277.7,692.7 275.7,694.2 269.7,696.8Z" fill="#89bad6" fill-rule="evenodd"/>
<path d="M263.7,580.7 259.7,580.4 255.7,579.1 255.7,567.1 258.7,566.0 261.7,565.5 267.7,565.9 273.7,568.0 276.4,569.7 278.3,571.7 278.7,573.7 278.3,574.7 274.8,577.7 269.7,579.8 263.7,580.7ZM328.7,692.7 324.7,692.7 321.1,691.7 319.4,690.7 318.5,689.7 318.3,688.7 318.6,687.7 320.7,685.8 323.7,684.7 327.7,684.1 334.7,683.7 336.7,683.2 337.8,681.7 338.0,676.7 338.7,674.7 340.2,672.7 342.7,670.8 348.7,668.1 365.0,663.7 370.5,660.7 372.6,658.7 373.5,656.7 372.7,652.7 373.0,650.7 374.4,648.7 377.7,646.3 383.7,643.4 388.7,641.8 408.1,638.7 410.2,637.7 410.5,636.7 409.4,635.7 406.7,634.7 394.7,632.4 389.7,631.1 378.7,626.5 373.7,623.7 371.7,621.7 371.2,620.7 371.3,619.7 374.0,615.7 373.7,613.7 371.7,609.7 371.8,607.7 372.9,603.7 372.8,601.7 372.1,599.7 368.2,595.7 364.8,592.7 360.7,590.4 344.7,586.1 337.7,583.3 324.2,576.7 322.8,575.7 322.3,574.7 322.7,574.2 325.8,572.7 332.9,571.7 350.7,570.7 374.7,570.1 394.7,570.4 417.7,572.4 433.7,572.3 443.7,573.5 443.7,684.7 438.7,686.2 432.7,687.0 426.7,686.6 417.7,684.7 414.7,684.5 401.7,686.4 394.7,687.0 387.7,686.9 370.7,686.0 343.7,686.8 340.7,687.7 337.8,689.7 334.7,691.2 328.7,692.7ZM401.8,604.7 406.7,602.9 409.3,600.7 410.4,597.7 409.7,595.7 408.7,594.7 405.7,593.3 400.7,592.2 395.7,591.7 389.7,591.9 384.9,592.7 381.7,593.7 378.4,595.7 377.0,597.7 376.8,599.7 377.3,600.7 379.9,602.7 383.7,604.1 387.7,605.0 392.7,605.4 397.7,605.3 401.8,604.7ZM438.1,645.7 441.0,644.7 442.3,643.7 442.9,642.7 443.0,641.7 441.6,639.7 438.7,638.3 433.7,637.4 427.7,637.6 423.1,638.7 421.6,639.7 421.0,640.7 421.6,642.7 422.6,643.7 426.7,645.5 432.7,646.3 438.1,645.7ZM437.3,674.7 440.5,673.7 441.7,672.7 442.1,671.7 441.7,670.7 440.7,669.7 436.7,668.0 431.7,667.6 426.7,668.3 423.7,669.7 422.8,670.7 422.5,671.7 422.8,672.7 424.0,673.7 427.1,674.7 431.7,675.1 437.3,674.7ZM266.7,695.9 260.7,696.1 255.7,694.6 255.7,682.3 260.7,680.8 266.7,681.0 271.8,682.7 273.7,684.0 275.3,685.7 276.2,688.7 274.8,691.7 271.7,694.1 266.7,695.9Z" fill="#70a7c9" fill-rule="evenodd"/>
<path d="M267.7,579.0 264.7,579.5 261.7,579.5 258.7,578.9 255.7,577.5 255.7,568.6 259.7,567.0 264.7,566.7 269.3,567.7 273.0,569.7 274.0,570.7 275.1,572.7 274.6,574.7 271.7,577.4 267.7,579.0ZM383.7,590.7 379.7,590.7 375.7,590.1 366.7,587.0 353.7,586.5 345.7,584.9 340.7,582.9 337.0,580.7 333.9,577.7 333.0,575.7 333.8,574.7 337.7,573.4 348.7,571.9 390.7,572.2 396.5,572.7 400.6,573.7 402.4,574.7 403.0,575.7 402.7,576.7 400.9,578.7 400.8,579.7 402.7,580.7 415.7,584.1 417.7,583.5 420.2,579.7 422.1,577.7 424.7,576.3 428.7,575.3 433.7,575.1 437.7,575.8 441.7,577.6 443.7,579.7 443.7,583.8 442.7,585.2 439.7,587.4 435.7,588.7 429.7,589.0 418.7,586.9 412.7,589.4 408.7,590.3 383.7,590.7ZM435.7,632.9 430.7,633.1 426.7,632.5 423.7,631.3 417.4,627.7 413.7,626.5 396.7,625.6 389.7,624.8 385.0,623.7 382.9,622.7 382.1,621.7 382.6,620.7 384.8,619.7 391.7,618.5 399.7,618.1 415.7,617.9 428.7,616.7 436.7,617.2 443.7,619.3 443.7,628.8 439.7,631.6 435.7,632.9ZM435.7,660.8 430.7,661.1 425.7,660.3 421.8,658.7 416.7,655.3 413.7,654.3 389.7,653.4 384.7,652.4 383.1,651.7 382.3,650.7 382.6,649.7 383.9,648.7 387.7,647.5 393.7,646.6 402.7,646.2 414.7,646.6 437.7,648.6 441.7,649.5 443.7,650.7 443.7,657.1 440.7,659.3 435.7,660.8ZM400.7,684.8 395.7,685.4 389.7,685.4 370.7,683.4 355.7,684.2 349.7,683.9 345.7,683.0 343.3,681.7 341.5,679.7 340.7,676.7 341.9,673.7 344.2,671.7 346.7,670.4 353.7,668.4 361.7,667.9 398.7,672.1 406.7,674.5 409.0,675.7 411.3,677.7 411.8,678.7 411.6,679.7 409.6,681.7 405.2,683.7 400.7,684.8ZM436.7,684.9 431.7,685.5 426.0,684.7 421.5,682.7 419.5,680.7 419.1,679.7 419.5,678.7 420.8,677.7 425.0,676.7 436.7,676.7 439.7,677.0 441.6,677.7 442.7,678.7 443.1,679.7 442.5,681.7 440.0,683.7 436.7,684.9ZM264.7,694.8 259.7,694.6 255.7,693.0 255.7,683.9 259.7,682.3 264.7,682.1 269.7,683.5 272.5,685.7 273.1,686.7 273.5,688.7 272.8,690.7 272.0,691.7 268.7,693.8 264.7,694.8ZM329.7,689.8 327.7,690.0 325.7,689.8 324.6,688.7 325.4,687.7 326.7,687.3 329.7,687.3 330.8,687.7 331.1,688.7 329.7,689.8Z" fill="#5c96be" fill-rule="evenodd"/>
<path d="M266.7,577.9 261.7,578.3 259.0,577.7 256.9,576.7 255.7,575.7 255.7,570.5 258.7,568.6 262.7,567.8 266.7,568.3 270.1,569.7 272.0,571.7 272.3,573.7 270.7,576.0 266.7,577.9ZM356.7,584.8 349.7,584.5 343.6,582.7 339.3,579.7 338.2,577.7 338.4,575.7 339.7,574.7 344.7,573.5 354.7,572.9 360.7,573.4 365.7,574.5 368.8,575.7 369.7,576.7 369.7,577.7 369.2,578.7 366.0,581.7 362.0,583.7 356.7,584.8ZM433.7,584.9 430.7,584.9 427.7,583.7 426.8,582.7 426.7,580.7 428.7,578.9 430.7,578.3 433.7,578.3 436.7,579.5 437.8,580.7 437.6,582.7 435.7,584.2 433.7,584.9ZM398.7,588.7 389.7,588.9 384.7,588.5 381.6,587.7 380.2,586.7 380.1,585.7 381.1,584.7 383.8,583.7 387.7,583.1 392.7,583.0 397.7,583.5 401.7,584.3 405.0,585.7 405.4,586.7 403.7,587.9 398.7,588.7ZM435.7,628.9 431.7,629.6 427.7,628.8 422.5,625.7 420.3,623.7 420.0,622.7 420.7,621.7 423.0,620.7 427.7,619.7 432.7,619.7 437.3,620.7 439.1,621.7 440.0,622.7 440.3,624.7 438.7,627.1 435.7,628.9ZM434.7,657.7 430.7,658.0 426.7,656.9 424.2,654.7 423.6,652.7 424.7,651.4 428.7,650.5 433.4,650.7 436.7,651.7 438.1,652.7 438.7,653.7 438.8,654.7 438.3,655.7 437.2,656.7 434.7,657.7ZM396.7,683.7 392.7,684.0 387.7,683.7 382.4,682.7 375.7,680.9 371.7,680.3 357.7,682.0 350.7,681.8 347.7,681.1 345.1,679.7 343.5,677.7 343.3,675.7 344.4,673.7 347.7,671.5 352.7,670.1 357.7,669.8 363.6,670.7 371.7,673.4 375.7,674.3 389.7,674.4 396.7,675.1 402.1,676.7 404.5,678.7 404.7,679.7 404.3,680.7 403.2,681.7 400.7,682.8 396.7,683.7ZM432.7,683.8 429.7,683.6 427.0,682.7 425.7,681.7 425.3,680.7 425.6,679.7 427.7,678.6 431.7,678.1 435.7,678.5 438.0,679.7 438.3,680.7 437.9,681.7 436.7,682.7 432.7,683.8ZM266.7,693.0 261.7,693.6 258.7,693.0 256.7,691.9 255.7,691.0 255.7,685.9 258.7,683.9 261.7,683.3 265.7,683.6 268.7,684.8 270.6,686.7 271.0,687.7 270.9,689.7 269.3,691.7 266.7,693.0Z" fill="#4886b2" fill-rule="evenodd"/>
<path d="M265.7,576.8 261.7,577.0 258.7,576.1 257.1,574.7 256.6,573.7 256.9,571.7 258.7,570.1 261.7,569.1 264.7,569.2 267.7,570.2 269.5,571.7 269.8,573.7 268.2,575.7 265.7,576.8ZM357.7,582.7 352.7,583.4 346.7,582.4 344.7,581.5 342.4,579.7 341.6,577.7 341.8,576.7 342.5,575.7 343.7,575.1 347.7,574.2 353.7,574.0 358.7,574.7 360.9,575.7 362.0,576.7 362.5,578.7 361.3,580.7 357.7,582.7ZM432.7,625.1 431.7,625.4 429.7,624.9 429.1,623.7 430.7,623.1 432.7,623.4 433.2,623.7 433.4,624.7 432.7,625.1ZM358.7,679.8 353.7,680.2 349.7,679.6 346.7,677.9 346.0,676.7 345.9,675.7 346.7,674.2 348.7,672.8 353.7,671.5 356.7,671.5 359.7,672.0 362.7,673.2 364.8,674.7 365.5,675.7 365.4,676.7 364.6,677.7 362.7,678.7 358.7,679.8ZM394.7,681.9 390.7,681.9 387.7,681.4 385.6,680.7 384.3,679.7 384.2,678.7 386.0,677.7 390.7,677.1 395.7,677.7 398.0,678.7 398.7,679.7 398.1,680.7 394.7,681.9ZM265.7,691.8 262.7,692.3 259.4,691.7 257.8,690.7 257.0,689.7 256.8,687.7 258.5,685.7 260.7,684.8 263.7,684.6 266.7,685.6 268.1,686.7 268.8,688.7 267.6,690.7 265.7,691.8Z" fill="#3a76a4" fill-rule="evenodd"/>
</g>
<rect x="261.7" y="549.7" width="176.7" height="169.1" fill="none" stroke="#777" stroke-width="1.2" />
<line x1="261.7" y1="718.8" x2="265.2" y2="718.8" stroke="#333" stroke-width="1" />
<text x="260.8" y="721.6" font-size="9" text-anchor="end" fill="#222" stroke="#222" stroke-width="0.22" >-2.5</text>
<line x1="261.7" y1="701.89" x2="265.2" y2="701.89" stroke="#333" stroke-width="1" />
<text x="260.8" y="704.69" font-size="9" text-anchor="end" fill="#222" stroke="#222" stroke-width="0.22" >-2.0</text>
<line x1="261.7" y1="684.98" x2="265.2" y2="684.98" stroke="#333" stroke-width="1" />
<text x="260.8" y="687.78" font-size="9" text-anchor="end" fill="#222" stroke="#222" stroke-width="0.22" >-1.5</text>
<line x1="261.7" y1="668.07" x2="265.2" y2="668.07" stroke="#333" stroke-width="1" />
<text x="260.8" y="670.87" font-size="9" text-anchor="end" fill="#222" stroke="#222" stroke-width="0.22" >-1.0</text>
<line x1="261.7" y1="651.16" x2="265.2" y2="651.16" stroke="#333" stroke-width="1" />
<text x="260.8" y="653.96" font-size="9" text-anchor="end" fill="#222" stroke="#222" stroke-width="0.22" >-0.5</text>
<line x1="261.7" y1="634.25" x2="265.2" y2="634.25" stroke="#333" stroke-width="1" />
<text x="260.8" y="637.05" font-size="9" text-anchor="end" fill="#222" stroke="#222" stroke-width="0.22" >0.0</text>
<line x1="261.7" y1="617.34" x2="265.2" y2="617.34" stroke="#333" stroke-width="1" />
<text x="260.8" y="620.14" font-size="9" text-anchor="end" fill="#222" stroke="#222" stroke-width="0.22" >0.5</text>
<line x1="261.7" y1="600.43" x2="265.2" y2="600.43" stroke="#333" stroke-width="1" />
<text x="260.8" y="603.23" font-size="9" text-anchor="end" fill="#222" stroke="#222" stroke-width="0.22" >1.0</text>
<line x1="261.7" y1="583.52" x2="265.2" y2="583.52" stroke="#333" stroke-width="1" />
<text x="260.8" y="586.32" font-size="9" text-anchor="end" fill="#222" stroke="#222" stroke-width="0.22" >1.5</text>
<line x1="261.7" y1="566.61" x2="265.2" y2="566.61" stroke="#333" stroke-width="1" />
<text x="260.8" y="569.41" font-size="9" text-anchor="end" fill="#222" stroke="#222" stroke-width="0.22" >2.0</text>
<line x1="261.7" y1="549.7" x2="265.2" y2="549.7" stroke="#333" stroke-width="1" />
<text x="260.8" y="552.5" font-size="9" text-anchor="end" fill="#222" stroke="#222" stroke-width="0.22" >2.5</text>
<line x1="261.7" y1="710.34" x2="263.7" y2="710.34" stroke="#333" stroke-width="1" />
<line x1="261.7" y1="693.43" x2="263.7" y2="693.43" stroke="#333" stroke-width="1" />
<line x1="261.7" y1="676.52" x2="263.7" y2="676.52" stroke="#333" stroke-width="1" />
<line x1="261.7" y1="659.62" x2="263.7" y2="659.62" stroke="#333" stroke-width="1" />
<line x1="261.7" y1="642.71" x2="263.7" y2="642.71" stroke="#333" stroke-width="1" />
<line x1="261.7" y1="625.79" x2="263.7" y2="625.79" stroke="#333" stroke-width="1" />
<line x1="261.7" y1="608.88" x2="263.7" y2="608.88" stroke="#333" stroke-width="1" />
<line x1="261.7" y1="591.98" x2="263.7" y2="591.98" stroke="#333" stroke-width="1" />
<line x1="261.7" y1="575.07" x2="263.7" y2="575.07" stroke="#333" stroke-width="1" />
<line x1="261.7" y1="558.16" x2="263.7" y2="558.16" stroke="#333" stroke-width="1" />
<line x1="261.7" y1="718.8" x2="261.7" y2="715.3" stroke="#333" stroke-width="1" />
<text x="261.7" y="729.8" font-size="9.2" text-anchor="middle" fill="#222" stroke="#222" stroke-width="0.22" >0.40</text>
<line x1="305.88" y1="718.8" x2="305.88" y2="715.3" stroke="#333" stroke-width="1" />
<text x="305.88" y="729.8" font-size="9.2" text-anchor="middle" fill="#222" stroke="#222" stroke-width="0.22" >0.45</text>
<line x1="350.05" y1="718.8" x2="350.05" y2="715.3" stroke="#333" stroke-width="1" />
<text x="350.05" y="729.8" font-size="9.2" text-anchor="middle" fill="#222" stroke="#222" stroke-width="0.22" >0.50</text>
<line x1="394.23" y1="718.8" x2="394.23" y2="715.3" stroke="#333" stroke-width="1" />
<text x="394.23" y="729.8" font-size="9.2" text-anchor="middle" fill="#222" stroke="#222" stroke-width="0.22" >0.55</text>
<line x1="438.4" y1="718.8" x2="438.4" y2="715.3" stroke="#333" stroke-width="1" />
<text x="438.4" y="729.8" font-size="9.2" text-anchor="middle" fill="#222" stroke="#222" stroke-width="0.22" >0.60</text>
<line x1="283.79" y1="718.8" x2="283.79" y2="716.8" stroke="#333" stroke-width="1" />
<line x1="327.96" y1="718.8" x2="327.96" y2="716.8" stroke="#333" stroke-width="1" />
<line x1="372.14" y1="718.8" x2="372.14" y2="716.8" stroke="#333" stroke-width="1" />
<line x1="416.31" y1="718.8" x2="416.31" y2="716.8" stroke="#333" stroke-width="1" />
<text x="350.2" y="745.3" font-size="10.5" text-anchor="middle" fill="#222" stroke="#222" stroke-width="0.22" >RH</text>
<text x="239" y="634.8" font-size="10.5" text-anchor="middle" fill="#222" stroke="#222" stroke-width="0.22" textLength="120" lengthAdjust="spacingAndGlyphs" transform="rotate(-90 239 634.8)" >Distance in Z direction (nm)</text>
<rect x="441.8" y="549.7" width="14.8" height="169.1" fill="url(#cbar)" stroke="none" stroke-width="1" />
<text x="449.2" y="561" font-size="12" text-anchor="middle" fill="#111" stroke="#111" stroke-width="0.22" >1</text>
<text x="449.2" y="716" font-size="12" text-anchor="middle" fill="#111" stroke="#111" stroke-width="0.22" >0</text>
<text x="396.2" y="545.3" font-size="11" text-anchor="middle" fill="#3987b5" stroke="#3987b5" stroke-width="0.22" textLength="113.9" lengthAdjust="spacingAndGlyphs" >normalized CO<tspan font-size="7" dy="3">2</tspan><tspan dy="-3"> density</tspan></text>
<text x="463.4" y="545.6" font-size="12.6" text-anchor="start" fill="#000" font-weight="bold" >j</text>
<g clip-path="url(#clipJ)">
<path d="M486.6,689.25 L543.12,660.78 L571.38,648.29 L590.22,610.81 L599.64,619.36 L618.48,693 L627.9,718.64 L656.16,720.61" stroke="#b6d8ec" stroke-width="2" fill="none" stroke-linejoin="round" stroke-linecap="round" />
<path d="M486.6,686.42 Q500.73,671.96 514.86,666.7 L580.8,648.29 L590.22,643.69 L609.06,620.02 Q615.18,607.52 618.48,612.13 C620.84,627.25 620.36,666.7 627.9,678.53 C637.32,696.29 651.45,712.72 665.58,718.64 L675,718.64" stroke="#5ea2d1" stroke-width="2" fill="none" stroke-linejoin="round"/>
<path d="M486.6,671.3 L533.7,658.81 L609.06,636.45 L627.9,631.85 L646.74,625.28 L656.16,620.02 L665.58,606.21 L675,719.3" stroke="#235f86" stroke-width="2" fill="none" stroke-linejoin="round" stroke-linecap="round" />
<circle cx="486.6" cy="689.25" r="3.6" fill="#b6d8ec"/>
<circle cx="543.12" cy="660.78" r="3.6" fill="#b6d8ec"/>
<circle cx="571.38" cy="648.29" r="3.6" fill="#b6d8ec"/>
<circle cx="590.22" cy="610.81" r="3.6" fill="#b6d8ec"/>
<circle cx="599.64" cy="619.36" r="3.6" fill="#b6d8ec"/>
<circle cx="618.48" cy="693" r="3.6" fill="#b6d8ec"/>
<circle cx="627.9" cy="718.64" r="3.6" fill="#b6d8ec"/>
<circle cx="486.6" cy="686.42" r="3.6" fill="#5ea2d1"/>
<circle cx="514.86" cy="666.7" r="3.6" fill="#5ea2d1"/>
<circle cx="580.8" cy="648.29" r="3.6" fill="#5ea2d1"/>
<circle cx="590.22" cy="643.69" r="3.6" fill="#5ea2d1"/>
<circle cx="609.06" cy="620.02" r="3.6" fill="#5ea2d1"/>
<circle cx="618.48" cy="612.13" r="3.6" fill="#5ea2d1"/>
<circle cx="627.9" cy="678.53" r="3.6" fill="#5ea2d1"/>
<circle cx="665.58" cy="718.64" r="3.6" fill="#5ea2d1"/>
<circle cx="675" cy="718.64" r="3.6" fill="#5ea2d1"/>
<circle cx="486.6" cy="671.3" r="3.6" fill="#235f86"/>
<circle cx="533.7" cy="658.81" r="3.6" fill="#235f86"/>
<circle cx="609.06" cy="636.45" r="3.6" fill="#235f86"/>
<circle cx="627.9" cy="631.85" r="3.6" fill="#235f86"/>
<circle cx="646.74" cy="625.28" r="3.6" fill="#235f86"/>
<circle cx="656.16" cy="620.02" r="3.6" fill="#235f86"/>
<circle cx="665.58" cy="606.21" r="3.6" fill="#235f86"/>
<circle cx="675" cy="719.3" r="3.6" fill="#235f86"/>
</g>
<rect x="486.6" y="548.5" width="188.4" height="171" fill="none" stroke="#555" stroke-width="1" />
<line x1="486.6" y1="719.3" x2="490.6" y2="719.3" stroke="#555" stroke-width="1" />
<text x="485.5" y="722.3" font-size="10" text-anchor="end" fill="#222" stroke="#222" stroke-width="0.22" >12</text>
<line x1="486.6" y1="679.85" x2="490.6" y2="679.85" stroke="#555" stroke-width="1" />
<text x="485.5" y="682.85" font-size="10" text-anchor="end" fill="#222" stroke="#222" stroke-width="0.22" >18</text>
<line x1="486.6" y1="640.4" x2="490.6" y2="640.4" stroke="#555" stroke-width="1" />
<text x="485.5" y="643.4" font-size="10" text-anchor="end" fill="#222" stroke="#222" stroke-width="0.22" >24</text>
<line x1="486.6" y1="600.95" x2="490.6" y2="600.95" stroke="#555" stroke-width="1" />
<text x="485.5" y="603.95" font-size="10" text-anchor="end" fill="#222" stroke="#222" stroke-width="0.22" >30</text>
<line x1="486.6" y1="561.5" x2="490.6" y2="561.5" stroke="#555" stroke-width="1" />
<text x="485.5" y="564.5" font-size="10" text-anchor="end" fill="#222" stroke="#222" stroke-width="0.22" >36</text>
<line x1="486.6" y1="699.57" x2="489.1" y2="699.57" stroke="#555" stroke-width="1" />
<line x1="486.6" y1="660.12" x2="489.1" y2="660.12" stroke="#555" stroke-width="1" />
<line x1="486.6" y1="620.67" x2="489.1" y2="620.67" stroke="#555" stroke-width="1" />
<line x1="486.6" y1="581.23" x2="489.1" y2="581.23" stroke="#555" stroke-width="1" />
<line x1="486.6" y1="719.5" x2="486.6" y2="715.5" stroke="#555" stroke-width="1" />
<text x="486.6" y="733.5" font-size="10" text-anchor="middle" fill="#222" stroke="#222" stroke-width="0.22" >0.35</text>
<line x1="533.7" y1="719.5" x2="533.7" y2="715.5" stroke="#555" stroke-width="1" />
<text x="533.7" y="733.5" font-size="10" text-anchor="middle" fill="#222" stroke="#222" stroke-width="0.22" >0.40</text>
<line x1="580.8" y1="719.5" x2="580.8" y2="715.5" stroke="#555" stroke-width="1" />
<text x="580.8" y="733.5" font-size="10" text-anchor="middle" fill="#222" stroke="#222" stroke-width="0.22" >0.45</text>
<line x1="627.9" y1="719.5" x2="627.9" y2="715.5" stroke="#555" stroke-width="1" />
<text x="627.9" y="733.5" font-size="10" text-anchor="middle" fill="#222" stroke="#222" stroke-width="0.22" >0.50</text>
<line x1="675" y1="719.5" x2="675" y2="715.5" stroke="#555" stroke-width="1" />
<text x="675" y="733.5" font-size="10" text-anchor="middle" fill="#222" stroke="#222" stroke-width="0.22" >0.55</text>
<line x1="510.15" y1="719.5" x2="510.15" y2="717" stroke="#555" stroke-width="1" />
<line x1="557.25" y1="719.5" x2="557.25" y2="717" stroke="#555" stroke-width="1" />
<line x1="604.35" y1="719.5" x2="604.35" y2="717" stroke="#555" stroke-width="1" />
<line x1="651.45" y1="719.5" x2="651.45" y2="717" stroke="#555" stroke-width="1" />
<text x="580.9" y="747.3" font-size="10.5" text-anchor="middle" fill="#222" stroke="#222" stroke-width="0.22" >RH</text>
<text x="470" y="636.7" font-size="11" text-anchor="middle" fill="#222" stroke="#222" stroke-width="0.22" textLength="58.7" lengthAdjust="spacingAndGlyphs" transform="rotate(-90 470 636.7)" >Q<tspan font-size="7" dy="2.5">st</tspan><tspan dy="-2.5"> (kJ/mol)</tspan></text>
<line x1="495.5" y1="559.5" x2="523" y2="559.5" stroke="#b6d8ec" stroke-width="2" />
<circle cx="509.5" cy="559.5" r="3.6" fill="#b6d8ec"/>
<text x="524.6" y="563.1" font-size="10" text-anchor="start" fill="#222" stroke="#222" stroke-width="0.22" textLength="40.8" lengthAdjust="spacingAndGlyphs" >Ca/Si=1.2</text>
<line x1="495.5" y1="574" x2="523" y2="574" stroke="#5ea2d1" stroke-width="2" />
<circle cx="509.5" cy="574" r="3.6" fill="#5ea2d1"/>
<text x="524.6" y="577.6" font-size="10" text-anchor="start" fill="#222" stroke="#222" stroke-width="0.22" textLength="40.8" lengthAdjust="spacingAndGlyphs" >Ca/Si=1.5</text>
<line x1="495.5" y1="588.5" x2="523" y2="588.5" stroke="#235f86" stroke-width="2" />
<circle cx="509.5" cy="588.5" r="3.6" fill="#235f86"/>
<text x="524.6" y="592.1" font-size="10" text-anchor="start" fill="#222" stroke="#222" stroke-width="0.22" textLength="40.8" lengthAdjust="spacingAndGlyphs" >Ca/Si=1.8</text>
<circle cx="275.3" cy="54.6" r="3.8" fill="url(#gHb)"/>
<line x1="265.3" y1="52" x2="280.8" y2="58.5" stroke="#222" stroke-width="1.0" stroke-dasharray="2,1.4"/>
<line x1="280.8" y1="58.5" x2="280.8" y2="37.6" stroke="#111" stroke-width="1" />
<path d="M278.2,38.1 L280.8,33.1 L283.4,38.1 Z" fill="#111"/>
<line x1="272.3" y1="58.5" x2="301.5" y2="58.5" stroke="#111" stroke-width="1" />
<path d="M301,55.9 L306,58.5 L301,61.1 Z" fill="#111"/>
<line x1="293.3" y1="35.3" x2="293.3" y2="58.5" stroke="#444" stroke-width="1.1" />
<circle cx="285" cy="52.8" r="5.7" fill="url(#gRb)"/>
<circle cx="287.1" cy="62" r="3.6" fill="url(#gHb)" opacity="0.85"/>
<line x1="293.3" y1="35.3" x2="279.3" y2="62.9" stroke="#222" stroke-width="1.0" stroke-dasharray="2,1.4"/>
<line x1="280.8" y1="58.5" x2="292.4" y2="64.7" stroke="#222" stroke-width="1.0" stroke-dasharray="2,1.4"/>
<text x="280.4" y="29.8" font-size="10.5" text-anchor="middle" fill="#222" stroke="#222" stroke-width="0.22" font-style="italic">z</text>
<text x="310.5" y="59.5" font-size="10.5" text-anchor="middle" fill="#222" stroke="#222" stroke-width="0.22" font-style="italic">y</text>
<text x="300" y="53.6" font-size="10.5" text-anchor="middle" fill="#222" stroke="#222" stroke-width="0.22" font-style="italic">ϑ</text>
<circle cx="277.1" cy="111.7" r="3.3" fill="url(#gHb)"/>
<line x1="280.8" y1="120.5" x2="280.8" y2="99.8" stroke="#111" stroke-width="1" />
<path d="M278.2,100.3 L280.8,95.3 L283.4,100.3 Z" fill="#111"/>
<line x1="290.8" y1="97.3" x2="290.8" y2="120.5" stroke="#888" stroke-width="1.1" />
<circle cx="290.2" cy="117.4" r="3.3" fill="url(#gHb)" opacity="0.85"/>
<line x1="272.3" y1="120.5" x2="301.5" y2="120.5" stroke="#111" stroke-width="1" />
<path d="M301,117.9 L306,120.5 L301,123.1 Z" fill="#111"/>
<circle cx="280.8" cy="120.5" r="5.7" fill="url(#gRb)"/>
<line x1="290.8" y1="97.3" x2="282.8" y2="115.2" stroke="#222" stroke-width="1.0" stroke-dasharray="2,1.4"/>
<text x="280.3" y="92.3" font-size="10.5" text-anchor="middle" fill="#222" stroke="#222" stroke-width="0.22" font-style="italic">z</text>
<text x="310.8" y="122.8" font-size="10.5" text-anchor="middle" fill="#222" stroke="#222" stroke-width="0.22" font-style="italic">y</text>
<text x="299" y="112.4" font-size="10.5" text-anchor="middle" fill="#222" stroke="#222" stroke-width="0.22" font-style="italic">-ϑ</text>
</svg></body></html>
